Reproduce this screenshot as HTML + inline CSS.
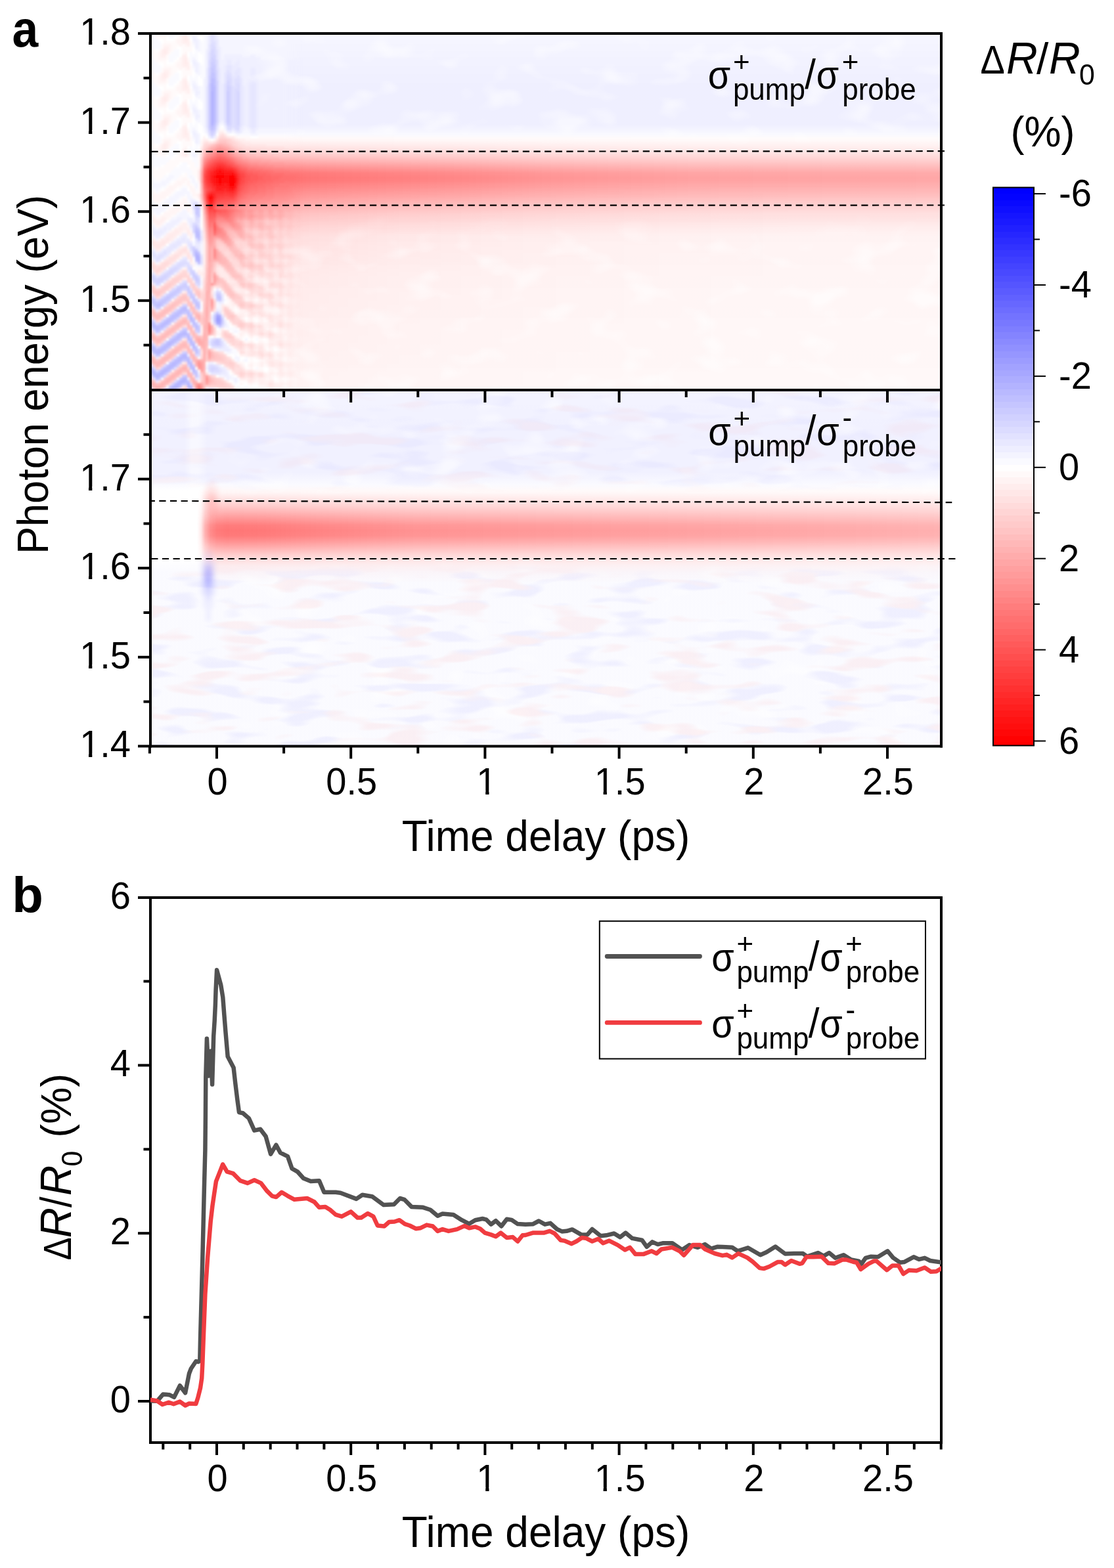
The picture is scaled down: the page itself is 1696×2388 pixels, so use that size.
<!DOCTYPE html>
<html><head><meta charset="utf-8"><title>Figure</title>
<style>html,body{margin:0;padding:0;background:#fff;overflow:hidden}svg{display:block}text{font-family:"Liberation Sans",Arial,sans-serif;fill:#000}</style></head><body>
<svg width="1696" height="2388" viewBox="0 0 1696 2388">
<defs><linearGradient id="cbg" gradientUnits="userSpaceOnUse" x1="0" y1="285.5" x2="0" y2="1135.5"><stop offset="0.00000" stop-color="#0000ff"/><stop offset="0.01129" stop-color="#0000ff"/><stop offset="0.01129" stop-color="#0303ff"/><stop offset="0.02259" stop-color="#0303ff"/><stop offset="0.02259" stop-color="#0909ff"/><stop offset="0.03388" stop-color="#0909ff"/><stop offset="0.03388" stop-color="#0f0fff"/><stop offset="0.04518" stop-color="#0f0fff"/><stop offset="0.04518" stop-color="#1515ff"/><stop offset="0.05647" stop-color="#1515ff"/><stop offset="0.05647" stop-color="#1a1aff"/><stop offset="0.06776" stop-color="#1a1aff"/><stop offset="0.06776" stop-color="#2020ff"/><stop offset="0.07906" stop-color="#2020ff"/><stop offset="0.07906" stop-color="#2626ff"/><stop offset="0.09035" stop-color="#2626ff"/><stop offset="0.09035" stop-color="#2c2cff"/><stop offset="0.10165" stop-color="#2c2cff"/><stop offset="0.10165" stop-color="#3232ff"/><stop offset="0.11294" stop-color="#3232ff"/><stop offset="0.11294" stop-color="#3838ff"/><stop offset="0.12424" stop-color="#3838ff"/><stop offset="0.12424" stop-color="#3e3eff"/><stop offset="0.13553" stop-color="#3e3eff"/><stop offset="0.13553" stop-color="#4444ff"/><stop offset="0.14682" stop-color="#4444ff"/><stop offset="0.14682" stop-color="#4949ff"/><stop offset="0.15812" stop-color="#4949ff"/><stop offset="0.15812" stop-color="#4f4fff"/><stop offset="0.16941" stop-color="#4f4fff"/><stop offset="0.16941" stop-color="#5555ff"/><stop offset="0.18071" stop-color="#5555ff"/><stop offset="0.18071" stop-color="#5b5bff"/><stop offset="0.19200" stop-color="#5b5bff"/><stop offset="0.19200" stop-color="#6161ff"/><stop offset="0.20329" stop-color="#6161ff"/><stop offset="0.20329" stop-color="#6767ff"/><stop offset="0.21459" stop-color="#6767ff"/><stop offset="0.21459" stop-color="#6d6dff"/><stop offset="0.22588" stop-color="#6d6dff"/><stop offset="0.22588" stop-color="#7373ff"/><stop offset="0.23718" stop-color="#7373ff"/><stop offset="0.23718" stop-color="#7878ff"/><stop offset="0.24847" stop-color="#7878ff"/><stop offset="0.24847" stop-color="#7e7eff"/><stop offset="0.25976" stop-color="#7e7eff"/><stop offset="0.25976" stop-color="#8484ff"/><stop offset="0.27106" stop-color="#8484ff"/><stop offset="0.27106" stop-color="#8a8aff"/><stop offset="0.28235" stop-color="#8a8aff"/><stop offset="0.28235" stop-color="#9090ff"/><stop offset="0.29365" stop-color="#9090ff"/><stop offset="0.29365" stop-color="#9696ff"/><stop offset="0.30494" stop-color="#9696ff"/><stop offset="0.30494" stop-color="#9c9cff"/><stop offset="0.31624" stop-color="#9c9cff"/><stop offset="0.31624" stop-color="#a2a2ff"/><stop offset="0.32753" stop-color="#a2a2ff"/><stop offset="0.32753" stop-color="#a7a7ff"/><stop offset="0.33882" stop-color="#a7a7ff"/><stop offset="0.33882" stop-color="#adadff"/><stop offset="0.35012" stop-color="#adadff"/><stop offset="0.35012" stop-color="#b3b3ff"/><stop offset="0.36141" stop-color="#b3b3ff"/><stop offset="0.36141" stop-color="#b9b9ff"/><stop offset="0.37271" stop-color="#b9b9ff"/><stop offset="0.37271" stop-color="#bfbfff"/><stop offset="0.38400" stop-color="#bfbfff"/><stop offset="0.38400" stop-color="#c5c5ff"/><stop offset="0.39529" stop-color="#c5c5ff"/><stop offset="0.39529" stop-color="#cbcbff"/><stop offset="0.40659" stop-color="#cbcbff"/><stop offset="0.40659" stop-color="#d1d1ff"/><stop offset="0.41788" stop-color="#d1d1ff"/><stop offset="0.41788" stop-color="#d6d6ff"/><stop offset="0.42918" stop-color="#d6d6ff"/><stop offset="0.42918" stop-color="#dcdcff"/><stop offset="0.44047" stop-color="#dcdcff"/><stop offset="0.44047" stop-color="#e2e2ff"/><stop offset="0.45176" stop-color="#e2e2ff"/><stop offset="0.45176" stop-color="#e8e8ff"/><stop offset="0.46306" stop-color="#e8e8ff"/><stop offset="0.46306" stop-color="#eeeeff"/><stop offset="0.47435" stop-color="#eeeeff"/><stop offset="0.47435" stop-color="#f4f4ff"/><stop offset="0.48565" stop-color="#f4f4ff"/><stop offset="0.48565" stop-color="#fafaff"/><stop offset="0.49694" stop-color="#fafaff"/><stop offset="0.49694" stop-color="#fffefe"/><stop offset="0.50824" stop-color="#fffefe"/><stop offset="0.50824" stop-color="#fff9f9"/><stop offset="0.51953" stop-color="#fff9f9"/><stop offset="0.51953" stop-color="#fff3f3"/><stop offset="0.53082" stop-color="#fff3f3"/><stop offset="0.53082" stop-color="#ffeded"/><stop offset="0.54212" stop-color="#ffeded"/><stop offset="0.54212" stop-color="#ffe7e7"/><stop offset="0.55341" stop-color="#ffe7e7"/><stop offset="0.55341" stop-color="#ffe1e1"/><stop offset="0.56471" stop-color="#ffe1e1"/><stop offset="0.56471" stop-color="#ffdbdb"/><stop offset="0.57600" stop-color="#ffdbdb"/><stop offset="0.57600" stop-color="#ffd5d5"/><stop offset="0.58729" stop-color="#ffd5d5"/><stop offset="0.58729" stop-color="#ffcfcf"/><stop offset="0.59859" stop-color="#ffcfcf"/><stop offset="0.59859" stop-color="#ffcaca"/><stop offset="0.60988" stop-color="#ffcaca"/><stop offset="0.60988" stop-color="#ffc4c4"/><stop offset="0.62118" stop-color="#ffc4c4"/><stop offset="0.62118" stop-color="#ffbebe"/><stop offset="0.63247" stop-color="#ffbebe"/><stop offset="0.63247" stop-color="#ffb8b8"/><stop offset="0.64376" stop-color="#ffb8b8"/><stop offset="0.64376" stop-color="#ffb2b2"/><stop offset="0.65506" stop-color="#ffb2b2"/><stop offset="0.65506" stop-color="#ffacac"/><stop offset="0.66635" stop-color="#ffacac"/><stop offset="0.66635" stop-color="#ffa6a6"/><stop offset="0.67765" stop-color="#ffa6a6"/><stop offset="0.67765" stop-color="#ffa0a0"/><stop offset="0.68894" stop-color="#ffa0a0"/><stop offset="0.68894" stop-color="#ff9b9b"/><stop offset="0.70024" stop-color="#ff9b9b"/><stop offset="0.70024" stop-color="#ff9595"/><stop offset="0.71153" stop-color="#ff9595"/><stop offset="0.71153" stop-color="#ff8f8f"/><stop offset="0.72282" stop-color="#ff8f8f"/><stop offset="0.72282" stop-color="#ff8989"/><stop offset="0.73412" stop-color="#ff8989"/><stop offset="0.73412" stop-color="#ff8383"/><stop offset="0.74541" stop-color="#ff8383"/><stop offset="0.74541" stop-color="#ff7d7d"/><stop offset="0.75671" stop-color="#ff7d7d"/><stop offset="0.75671" stop-color="#ff7777"/><stop offset="0.76800" stop-color="#ff7777"/><stop offset="0.76800" stop-color="#ff7171"/><stop offset="0.77929" stop-color="#ff7171"/><stop offset="0.77929" stop-color="#ff6c6c"/><stop offset="0.79059" stop-color="#ff6c6c"/><stop offset="0.79059" stop-color="#ff6666"/><stop offset="0.80188" stop-color="#ff6666"/><stop offset="0.80188" stop-color="#ff6060"/><stop offset="0.81318" stop-color="#ff6060"/><stop offset="0.81318" stop-color="#ff5a5a"/><stop offset="0.82447" stop-color="#ff5a5a"/><stop offset="0.82447" stop-color="#ff5454"/><stop offset="0.83576" stop-color="#ff5454"/><stop offset="0.83576" stop-color="#ff4e4e"/><stop offset="0.84706" stop-color="#ff4e4e"/><stop offset="0.84706" stop-color="#ff4848"/><stop offset="0.85835" stop-color="#ff4848"/><stop offset="0.85835" stop-color="#ff4242"/><stop offset="0.86965" stop-color="#ff4242"/><stop offset="0.86965" stop-color="#ff3d3d"/><stop offset="0.88094" stop-color="#ff3d3d"/><stop offset="0.88094" stop-color="#ff3737"/><stop offset="0.89224" stop-color="#ff3737"/><stop offset="0.89224" stop-color="#ff3131"/><stop offset="0.90353" stop-color="#ff3131"/><stop offset="0.90353" stop-color="#ff2b2b"/><stop offset="0.91482" stop-color="#ff2b2b"/><stop offset="0.91482" stop-color="#ff2525"/><stop offset="0.92612" stop-color="#ff2525"/><stop offset="0.92612" stop-color="#ff1f1f"/><stop offset="0.93741" stop-color="#ff1f1f"/><stop offset="0.93741" stop-color="#ff1919"/><stop offset="0.94871" stop-color="#ff1919"/><stop offset="0.94871" stop-color="#ff1313"/><stop offset="0.96000" stop-color="#ff1313"/><stop offset="0.96000" stop-color="#ff0e0e"/><stop offset="0.97129" stop-color="#ff0e0e"/><stop offset="0.97129" stop-color="#ff0808"/><stop offset="0.98259" stop-color="#ff0808"/><stop offset="0.98259" stop-color="#ff0202"/><stop offset="0.99388" stop-color="#ff0202"/><stop offset="0.99388" stop-color="#ff0000"/><stop offset="1.00000" stop-color="#ff0000"/></linearGradient><clipPath id="c1e3"><rect x="-300" y="-300" width="600" height="294.6"/><rect x="-64" y="-6.4" width="5.3" height="40"/><rect x="-47.8" y="-300" width="300" height="600"/></clipPath><clipPath id="c1m1"><rect x="-300" y="-300" width="600" height="294.6"/><rect x="-1.7" y="-6.4" width="5.3" height="40"/><rect x="14.5" y="-300" width="300" height="600"/></clipPath><clipPath id="c1m3"><rect x="-300" y="-300" width="600" height="294.6"/><rect x="-25" y="-6.4" width="5.3" height="40"/><rect x="-8.8" y="-300" width="300" height="600"/></clipPath><clipPath id="cpt"><rect x="229" y="51" width="1204" height="543"/></clipPath><clipPath id="cpbm"><rect x="229" y="594" width="1204" height="543"/></clipPath><filter id="blur3" x="0" y="0" width="1696" height="1200" filterUnits="userSpaceOnUse"><feGaussianBlur stdDeviation="3"/></filter><linearGradient id="tbgB" gradientUnits="userSpaceOnUse" x1="0" y1="51" x2="0" y2="215"><stop offset="0.0000" stop-color="#0000ff" stop-opacity="0.035"/><stop offset="0.2378" stop-color="#0000ff" stop-opacity="0.050"/><stop offset="0.4817" stop-color="#0000ff" stop-opacity="0.062"/><stop offset="0.8476" stop-color="#0000ff" stop-opacity="0.062"/><stop offset="0.9207" stop-color="#0000ff" stop-opacity="0.030"/><stop offset="0.9756" stop-color="#0000ff" stop-opacity="0.000"/></linearGradient><linearGradient id="tbgR" gradientUnits="userSpaceOnUse" x1="0" y1="280" x2="0" y2="594"><stop offset="0.0000" stop-color="#ff0000" stop-opacity="0.000"/><stop offset="0.0637" stop-color="#ff0000" stop-opacity="0.040"/><stop offset="0.1592" stop-color="#ff0000" stop-opacity="0.050"/><stop offset="0.2866" stop-color="#ff0000" stop-opacity="0.045"/><stop offset="0.4777" stop-color="#ff0000" stop-opacity="0.038"/><stop offset="0.7006" stop-color="#ff0000" stop-opacity="0.032"/><stop offset="1.0000" stop-color="#ff0000" stop-opacity="0.028"/></linearGradient><linearGradient id="tfadeG" gradientUnits="userSpaceOnUse" x1="229" y1="0" x2="1433" y2="0"><stop offset="0.0000" stop-color="#ffffff" stop-opacity="0.000"/><stop offset="0.0590" stop-color="#ffffff" stop-opacity="0.000"/><stop offset="0.0963" stop-color="#ffffff" stop-opacity="1.000"/><stop offset="1.0000" stop-color="#ffffff" stop-opacity="1.000"/></linearGradient><mask id="tfade" maskUnits="userSpaceOnUse" x="229" y="51" width="1204" height="543"><rect x="229" y="51" width="1204" height="543" fill="url(#tfadeG)"/></mask><linearGradient id="tpinkH" gradientUnits="userSpaceOnUse" x1="300" y1="0" x2="1433" y2="0"><stop offset="0.0000" stop-color="#ff0000" stop-opacity="0.000"/><stop offset="0.0265" stop-color="#ff0000" stop-opacity="0.000"/><stop offset="0.0530" stop-color="#ff0000" stop-opacity="0.100"/><stop offset="0.1324" stop-color="#ff0000" stop-opacity="0.090"/><stop offset="0.2648" stop-color="#ff0000" stop-opacity="0.050"/><stop offset="0.4413" stop-color="#ff0000" stop-opacity="0.025"/><stop offset="0.6178" stop-color="#ff0000" stop-opacity="0.010"/><stop offset="0.7944" stop-color="#ff0000" stop-opacity="0.000"/></linearGradient><linearGradient id="tpinkVg" gradientUnits="userSpaceOnUse" x1="0" y1="280" x2="0" y2="594"><stop offset="0.0000" stop-color="#ffffff" stop-opacity="0.000"/><stop offset="0.0955" stop-color="#ffffff" stop-opacity="1.000"/><stop offset="0.2229" stop-color="#ffffff" stop-opacity="1.000"/><stop offset="0.4459" stop-color="#ffffff" stop-opacity="0.500"/><stop offset="1.0000" stop-color="#ffffff" stop-opacity="0.200"/></linearGradient><mask id="tpinkM" maskUnits="userSpaceOnUse" x="229" y="280" width="1204" height="314"><rect x="229" y="280" width="1204" height="314" fill="url(#tpinkVg)"/></mask><linearGradient id="tbandH" gradientUnits="userSpaceOnUse" x1="300" y1="0" x2="1433" y2="0"><stop offset="0.0000" stop-color="#ff0000" stop-opacity="0.000"/><stop offset="0.0044" stop-color="#ff0000" stop-opacity="0.100"/><stop offset="0.0071" stop-color="#ff0000" stop-opacity="0.450"/><stop offset="0.0106" stop-color="#ff0000" stop-opacity="0.750"/><stop offset="0.0177" stop-color="#ff0000" stop-opacity="0.850"/><stop offset="0.0300" stop-color="#ff0000" stop-opacity="0.950"/><stop offset="0.0397" stop-color="#ff0000" stop-opacity="0.900"/><stop offset="0.0530" stop-color="#ff0000" stop-opacity="0.780"/><stop offset="0.0706" stop-color="#ff0000" stop-opacity="0.660"/><stop offset="0.1059" stop-color="#ff0000" stop-opacity="0.580"/><stop offset="0.1500" stop-color="#ff0000" stop-opacity="0.540"/><stop offset="0.2648" stop-color="#ff0000" stop-opacity="0.500"/><stop offset="0.3530" stop-color="#ff0000" stop-opacity="0.470"/><stop offset="0.4669" stop-color="#ff0000" stop-opacity="0.420"/><stop offset="0.6620" stop-color="#ff0000" stop-opacity="0.370"/><stop offset="0.8385" stop-color="#ff0000" stop-opacity="0.355"/><stop offset="1.0000" stop-color="#ff0000" stop-opacity="0.345"/></linearGradient><linearGradient id="tbandVg" gradientUnits="userSpaceOnUse" x1="0" y1="205" x2="0" y2="360"><stop offset="0.0000" stop-color="#ffffff" stop-opacity="0.000"/><stop offset="0.0645" stop-color="#ffffff" stop-opacity="0.080"/><stop offset="0.1613" stop-color="#ffffff" stop-opacity="0.250"/><stop offset="0.2323" stop-color="#ffffff" stop-opacity="0.470"/><stop offset="0.3161" stop-color="#ffffff" stop-opacity="0.760"/><stop offset="0.3742" stop-color="#ffffff" stop-opacity="0.950"/><stop offset="0.4194" stop-color="#ffffff" stop-opacity="1.000"/><stop offset="0.4581" stop-color="#ffffff" stop-opacity="0.980"/><stop offset="0.5161" stop-color="#ffffff" stop-opacity="0.860"/><stop offset="0.6000" stop-color="#ffffff" stop-opacity="0.640"/><stop offset="0.6968" stop-color="#ffffff" stop-opacity="0.380"/><stop offset="0.7935" stop-color="#ffffff" stop-opacity="0.200"/><stop offset="0.9032" stop-color="#ffffff" stop-opacity="0.080"/><stop offset="1.0000" stop-color="#ffffff" stop-opacity="0.000"/></linearGradient><mask id="tbandM" maskUnits="userSpaceOnUse" x="229" y="205" width="1204" height="155"><rect x="229" y="205" width="1204" height="155" fill="url(#tbandVg)"/></mask><radialGradient id="hot" gradientUnits="userSpaceOnUse" cx="334" cy="276" r="40" gradientTransform="translate(334 276) scale(0.55 1.1) translate(-334 -276)"><stop offset="0" stop-color="#ff0000" stop-opacity="0.85"/><stop offset="0.45" stop-color="#ff0000" stop-opacity="0.55"/><stop offset="1" stop-color="#ff0000" stop-opacity="0"/></radialGradient><radialGradient id="hot2" gradientUnits="userSpaceOnUse" cx="353" cy="280" r="30" gradientTransform="translate(353 280) scale(0.5 1.1) translate(-353 -280)"><stop offset="0" stop-color="#ff0000" stop-opacity="0.5"/><stop offset="1" stop-color="#ff0000" stop-opacity="0"/></radialGradient><linearGradient id="gfadeG" gradientUnits="userSpaceOnUse" x1="229" y1="0" x2="468" y2="0"><stop offset="0.0000" stop-color="#ffffff" stop-opacity="1.000"/><stop offset="0.8410" stop-color="#ffffff" stop-opacity="1.000"/><stop offset="0.9749" stop-color="#ffffff" stop-opacity="0.000"/><stop offset="1.0000" stop-color="#ffffff" stop-opacity="0.000"/></linearGradient><mask id="gfade" maskUnits="userSpaceOnUse" x="229" y="51" width="240" height="543"><rect x="229" y="51" width="240" height="543" fill="url(#gfadeG)"/></mask><filter id="blur1" x="0" y="0" width="1696" height="1200" filterUnits="userSpaceOnUse"><feGaussianBlur stdDeviation="1.6"/></filter><linearGradient id="bbgB" gradientUnits="userSpaceOnUse" x1="0" y1="594" x2="0" y2="750"><stop offset="0.0000" stop-color="#0000ff" stop-opacity="0.045"/><stop offset="0.3590" stop-color="#0000ff" stop-opacity="0.055"/><stop offset="0.8077" stop-color="#0000ff" stop-opacity="0.055"/><stop offset="0.9231" stop-color="#0000ff" stop-opacity="0.020"/><stop offset="0.9872" stop-color="#0000ff" stop-opacity="0.000"/></linearGradient><linearGradient id="bbgL" gradientUnits="userSpaceOnUse" x1="0" y1="850" x2="0" y2="1137"><stop offset="0.0000" stop-color="#0000ff" stop-opacity="0.000"/><stop offset="0.0697" stop-color="#0000ff" stop-opacity="0.018"/><stop offset="1.0000" stop-color="#0000ff" stop-opacity="0.018"/></linearGradient><linearGradient id="bbandH" gradientUnits="userSpaceOnUse" x1="300" y1="0" x2="1433" y2="0"><stop offset="0.0000" stop-color="#ff0000" stop-opacity="0.000"/><stop offset="0.0053" stop-color="#ff0000" stop-opacity="0.080"/><stop offset="0.0106" stop-color="#ff0000" stop-opacity="0.300"/><stop offset="0.0177" stop-color="#ff0000" stop-opacity="0.450"/><stop offset="0.0265" stop-color="#ff0000" stop-opacity="0.520"/><stop offset="0.0397" stop-color="#ff0000" stop-opacity="0.540"/><stop offset="0.0883" stop-color="#ff0000" stop-opacity="0.530"/><stop offset="0.1562" stop-color="#ff0000" stop-opacity="0.490"/><stop offset="0.2868" stop-color="#ff0000" stop-opacity="0.430"/><stop offset="0.4669" stop-color="#ff0000" stop-opacity="0.400"/><stop offset="0.6620" stop-color="#ff0000" stop-opacity="0.370"/><stop offset="0.8385" stop-color="#ff0000" stop-opacity="0.340"/><stop offset="1.0000" stop-color="#ff0000" stop-opacity="0.310"/></linearGradient><linearGradient id="bbandVg" gradientUnits="userSpaceOnUse" x1="0" y1="738" x2="0" y2="888"><stop offset="0.0000" stop-color="#ffffff" stop-opacity="0.000"/><stop offset="0.0800" stop-color="#ffffff" stop-opacity="0.070"/><stop offset="0.1667" stop-color="#ffffff" stop-opacity="0.250"/><stop offset="0.2267" stop-color="#ffffff" stop-opacity="0.400"/><stop offset="0.2933" stop-color="#ffffff" stop-opacity="0.600"/><stop offset="0.3600" stop-color="#ffffff" stop-opacity="0.800"/><stop offset="0.4133" stop-color="#ffffff" stop-opacity="0.950"/><stop offset="0.4667" stop-color="#ffffff" stop-opacity="1.000"/><stop offset="0.5200" stop-color="#ffffff" stop-opacity="0.970"/><stop offset="0.5733" stop-color="#ffffff" stop-opacity="0.820"/><stop offset="0.6400" stop-color="#ffffff" stop-opacity="0.600"/><stop offset="0.7067" stop-color="#ffffff" stop-opacity="0.380"/><stop offset="0.7600" stop-color="#ffffff" stop-opacity="0.240"/><stop offset="0.8267" stop-color="#ffffff" stop-opacity="0.120"/><stop offset="0.8933" stop-color="#ffffff" stop-opacity="0.050"/><stop offset="1.0000" stop-color="#ffffff" stop-opacity="0.000"/></linearGradient><mask id="bbandM" maskUnits="userSpaceOnUse" x="229" y="738" width="1204" height="150"><rect x="229" y="738" width="1204" height="150" fill="url(#bbandVg)"/></mask><linearGradient id="bwcol" gradientUnits="userSpaceOnUse" x1="280" y1="0" x2="316" y2="0"><stop offset="0.0000" stop-color="#ffffff" stop-opacity="0.000"/><stop offset="0.3333" stop-color="#ffffff" stop-opacity="0.500"/><stop offset="0.6111" stop-color="#ffffff" stop-opacity="0.500"/><stop offset="1.0000" stop-color="#ffffff" stop-opacity="0.000"/></linearGradient><filter id="mottle" x="229" y="51" width="1204" height="1086" filterUnits="userSpaceOnUse" color-interpolation-filters="sRGB"><feTurbulence type="fractalNoise" baseFrequency="0.018 0.03" numOctaves="2" seed="7" result="n"/><feColorMatrix in="n" type="matrix" values="0 0 0 0 1  0 0 0 0 1  0 0 0 0 1  4 0 0 0 -2.1"/></filter><linearGradient id="mottleVg" gradientUnits="userSpaceOnUse" x1="0" y1="51" x2="0" y2="1137"><stop offset="0.0000" stop-color="#ffffff" stop-opacity="1.000"/><stop offset="0.1372" stop-color="#ffffff" stop-opacity="1.000"/><stop offset="0.1556" stop-color="#ffffff" stop-opacity="0.150"/><stop offset="0.1694" stop-color="#ffffff" stop-opacity="0.000"/><stop offset="0.2477" stop-color="#ffffff" stop-opacity="0.000"/><stop offset="0.2707" stop-color="#ffffff" stop-opacity="0.300"/><stop offset="0.3029" stop-color="#ffffff" stop-opacity="1.000"/><stop offset="0.5000" stop-color="#ffffff" stop-opacity="1.000"/><stop offset="0.6298" stop-color="#ffffff" stop-opacity="1.000"/><stop offset="0.6483" stop-color="#ffffff" stop-opacity="0.150"/><stop offset="0.6621" stop-color="#ffffff" stop-opacity="0.000"/><stop offset="0.7311" stop-color="#ffffff" stop-opacity="0.000"/><stop offset="0.7449" stop-color="#ffffff" stop-opacity="0.300"/><stop offset="0.7634" stop-color="#ffffff" stop-opacity="1.000"/><stop offset="1.0000" stop-color="#ffffff" stop-opacity="1.000"/></linearGradient><linearGradient id="mottleHg" gradientUnits="userSpaceOnUse" x1="229" y1="0" x2="1433" y2="0"><stop offset="0.0000" stop-color="#ffffff" stop-opacity="0.000"/><stop offset="0.0839" stop-color="#ffffff" stop-opacity="0.000"/><stop offset="0.1254" stop-color="#ffffff" stop-opacity="1.000"/><stop offset="1.0000" stop-color="#ffffff" stop-opacity="1.000"/></linearGradient><mask id="mottleM" maskUnits="userSpaceOnUse" x="229" y="51" width="1204" height="1086"><rect x="229" y="51" width="1204" height="1086" fill="url(#mottleVg)"/></mask><mask id="mottleM2" maskUnits="userSpaceOnUse" x="229" y="51" width="1204" height="1086"><rect x="229" y="51" width="1204" height="1086" fill="url(#mottleHg)"/></mask><filter id="blotch" x="229" y="594" width="1204" height="543" filterUnits="userSpaceOnUse" color-interpolation-filters="sRGB"><feTurbulence type="fractalNoise" baseFrequency="0.012 0.05" numOctaves="2" seed="11" result="n"/><feColorMatrix in="n" type="matrix" values="0 0 0 0 0  0 0 0 0 0  0 0 0 0 1  6 0 0 0 -3.2" result="b"/><feColorMatrix in="n" type="matrix" values="0 0 0 0 1  0 0 0 0 0  0 0 0 0 0  0 -6 0 0 2.7" result="r"/><feMerge><feMergeNode in="b"/><feMergeNode in="r"/></feMerge></filter><linearGradient id="blotchVg" gradientUnits="userSpaceOnUse" x1="0" y1="594" x2="0" y2="1137"><stop offset="0.0000" stop-color="#ffffff" stop-opacity="0.600"/><stop offset="0.2597" stop-color="#ffffff" stop-opacity="0.600"/><stop offset="0.2873" stop-color="#ffffff" stop-opacity="0.000"/><stop offset="0.4899" stop-color="#ffffff" stop-opacity="0.000"/><stop offset="0.5359" stop-color="#ffffff" stop-opacity="1.000"/><stop offset="1.0000" stop-color="#ffffff" stop-opacity="1.000"/></linearGradient><mask id="blotchM" maskUnits="userSpaceOnUse" x="229" y="594" width="1204" height="543"><rect x="229" y="594" width="1204" height="543" fill="url(#blotchVg)"/></mask></defs>
<rect width="1696" height="2388" fill="#fff"/>
<g clip-path="url(#cpt)">
<g mask="url(#tfade)">
<rect x="229" y="51" width="1204" height="164" fill="url(#tbgB)"/>
<rect x="229" y="280" width="1204" height="314" fill="url(#tbgR)"/>
</g>
<rect x="300" y="280" width="1133" height="314" fill="url(#tpinkH)" mask="url(#tpinkM)"/>
<rect x="300" y="205" width="1133" height="155" fill="url(#tbandH)" mask="url(#tbandM)"/>
<g mask="url(#gfade)"><g filter="url(#blur1)"><path d="M329 483h4v4h-4zM329 487h4v4h-4z" fill="#9e9eff"/><path d="M333 483h4v4h-4zM333 487h4v4h-4z" fill="#a3a3ff"/><path d="M329 479h4v4h-4z" fill="#a8a8ff"/><path d="M333 479h4v4h-4zM329 491h8v4h-8z" fill="#adadff"/><path d="M321 139h4v4h-4zM321 143h4v4h-4zM321 147h4v4h-4zM321 151h4v4h-4zM321 155h4v4h-4zM321 159h4v4h-4zM321 163h4v4h-4zM321 167h4v4h-4zM321 171h4v4h-4zM321 175h4v4h-4zM321 179h4v4h-4zM321 183h4v4h-4zM321 187h4v4h-4zM297 387h4v4h-4zM297 391h8v4h-8zM301 395h4v4h-4zM229 563h4v4h-4zM249 563h4v4h-4zM233 567h4v4h-4zM245 567h4v4h-4zM237 571h4v4h-4zM273 579h8v4h-8zM269 583h4v4h-4zM285 583h4v4h-4zM265 587h4v4h-4zM257 591h8v4h-8zM289 591h4v4h-4z" fill="#b2b2ff"/><path d="M321 127h4v4h-4zM321 131h4v4h-4zM321 135h4v4h-4zM297 383h4v4h-4zM301 387h4v4h-4zM289 483h4v4h-4zM253 487h4v4h-4zM229 491h4v4h-4zM249 491h4v4h-4zM233 495h4v4h-4zM245 495h4v4h-4zM237 499h4v4h-4zM273 507h12v4h-12zM269 511h4v4h-4zM285 511h4v4h-4zM265 515h4v4h-4zM257 519h8v4h-8zM289 519h4v4h-4zM253 523h8v4h-8zM293 523h4v4h-4zM229 527h4v4h-4zM249 527h4v4h-4zM293 527h4v4h-4zM233 531h4v4h-4zM241 531h8v4h-8zM237 535h8v4h-8zM277 539h8v4h-8zM273 543h12v4h-12zM269 547h8v4h-8zM285 547h4v4h-4zM261 551h8v4h-8zM257 555h8v4h-8zM289 555h4v4h-4zM253 559h8v4h-8zM293 559h4v4h-4zM245 563h4v4h-4zM253 563h4v4h-4zM293 563h4v4h-4zM241 567h4v4h-4zM241 571h4v4h-4zM277 575h8v4h-8zM281 579h4v4h-4zM273 583h4v4h-4zM261 587h4v4h-4zM269 587h4v4h-4zM285 587h8v4h-8z" fill="#b8b8ff"/><path d="M321 119h4v4h-4zM321 123h4v4h-4zM325 131h4v4h-4zM325 135h4v4h-4zM325 139h4v4h-4zM325 143h4v4h-4zM325 147h4v4h-4zM325 151h4v4h-4zM325 155h4v4h-4zM325 159h4v4h-4zM325 163h4v4h-4zM325 167h4v4h-4zM325 171h4v4h-4zM325 175h4v4h-4zM325 179h4v4h-4zM325 183h4v4h-4zM321 191h4v4h-4zM297 351h4v4h-4zM297 355h8v4h-8zM301 359h4v4h-4zM297 395h4v4h-4zM237 463h8v4h-8zM277 467h8v4h-8zM273 471h12v4h-12zM269 475h8v4h-8zM285 475h4v4h-4zM261 479h12v4h-12zM257 483h8v4h-8zM257 487h4v4h-4zM293 487h4v4h-4zM245 491h4v4h-4zM253 491h4v4h-4zM293 491h4v4h-4zM237 495h8v4h-8zM297 495h4v4h-4zM241 499h4v4h-4zM277 503h8v4h-8zM273 511h4v4h-4zM261 515h4v4h-4zM269 515h4v4h-4zM285 515h8v4h-8zM233 527h4v4h-4zM245 527h4v4h-4zM253 527h4v4h-4zM229 531h4v4h-4zM237 531h4v4h-4zM249 531h4v4h-4zM297 531h4v4h-4zM233 535h4v4h-4zM265 547h4v4h-4zM269 551h4v4h-4zM285 551h8v4h-8zM265 555h4v4h-4zM229 559h4v4h-4zM249 559h4v4h-4zM233 563h4v4h-4zM229 567h4v4h-4zM237 567h4v4h-4zM249 567h4v4h-4zM233 571h4v4h-4zM237 575h4v4h-4zM265 583h4v4h-4zM265 591h4v4h-4z" fill="#bdbdff"/><path d="M321 111h4v4h-4zM321 115h4v4h-4zM325 119h4v4h-4zM325 123h4v4h-4zM325 127h4v4h-4zM325 187h4v4h-4zM321 195h4v4h-4zM297 347h4v4h-4zM301 351h4v4h-4zM297 359h4v4h-4zM301 399h4v4h-4zM253 451h4v4h-4zM333 451h4v4h-4zM229 455h4v4h-4zM249 455h4v4h-4zM293 455h4v4h-4zM233 459h4v4h-4zM241 459h8v4h-8zM297 459h4v4h-4zM297 463h8v4h-8zM265 475h4v4h-4zM285 479h8v4h-8zM265 483h4v4h-4zM229 487h4v4h-4zM249 487h4v4h-4zM289 487h4v4h-4zM233 491h4v4h-4zM229 495h4v4h-4zM249 495h4v4h-4zM233 499h4v4h-4zM297 499h4v4h-4zM237 503h4v4h-4zM269 507h4v4h-4zM285 507h4v4h-4zM265 511h4v4h-4zM253 519h4v4h-4zM265 519h4v4h-4zM229 523h4v4h-4zM249 523h4v4h-4zM289 523h4v4h-4zM245 535h4v4h-4zM297 535h4v4h-4zM237 539h4v4h-4zM269 543h4v4h-4zM285 543h4v4h-4zM253 555h4v4h-4zM261 559h4v4h-4zM289 559h4v4h-4zM297 567h4v4h-4zM245 571h4v4h-4zM269 579h4v4h-4zM285 579h4v4h-4zM277 583h4v4h-4zM253 591h4v4h-4z" fill="#c2c2ff"/><path d="M321 103h4v4h-4zM321 107h4v4h-4zM325 111h4v4h-4zM325 115h4v4h-4zM325 191h4v4h-4zM297 315h4v4h-4zM297 319h4v4h-4zM297 323h4v4h-4zM301 363h4v4h-4zM297 379h4v4h-4zM301 383h4v4h-4zM297 423h4v4h-4zM269 439h4v4h-4zM285 439h4v4h-4zM265 443h4v4h-4zM257 447h8v4h-8zM289 447h4v4h-4zM329 447h4v4h-4zM257 451h4v4h-4zM293 451h4v4h-4zM329 451h4v4h-4zM233 455h4v4h-4zM245 455h4v4h-4zM253 455h4v4h-4zM333 455h4v4h-4zM229 459h4v4h-4zM237 459h4v4h-4zM249 459h4v4h-4zM233 463h4v4h-4zM245 463h4v4h-4zM237 467h4v4h-4zM301 467h4v4h-4zM269 471h4v4h-4zM285 471h4v4h-4zM277 475h4v4h-4zM329 475h4v4h-4zM253 483h4v4h-4zM325 483h4v4h-4zM261 487h4v4h-4zM325 487h4v4h-4zM297 491h4v4h-4zM333 495h4v4h-4zM245 499h4v4h-4zM301 499h4v4h-4zM277 511h4v4h-4zM329 519h4v4h-4zM261 523h4v4h-4zM297 527h4v4h-4zM241 539h4v4h-4zM273 539h4v4h-4zM277 547h8v4h-8zM257 551h4v4h-4zM241 563h4v4h-4zM257 563h4v4h-4zM281 571h4v4h-4zM297 571h4v4h-4zM241 575h4v4h-4zM273 575h4v4h-4zM281 583h4v4h-4zM257 587h4v4h-4zM273 587h4v4h-4z" fill="#c7c7ff"/><path d="M321 95h4v4h-4zM321 99h8v4h-8zM325 103h4v4h-4zM325 107h4v4h-4zM317 127h4v4h-4zM317 131h4v4h-4zM317 135h4v4h-4zM317 139h4v4h-4zM345 139h4v4h-4zM317 143h4v4h-4zM345 143h4v4h-4zM317 147h4v4h-4zM345 147h4v4h-4zM317 151h4v4h-4zM345 151h4v4h-4zM317 155h4v4h-4zM345 155h4v4h-4zM317 159h4v4h-4zM345 159h4v4h-4zM317 163h4v4h-4zM345 163h4v4h-4zM317 167h4v4h-4zM345 167h4v4h-4zM317 171h4v4h-4zM345 171h4v4h-4zM317 175h4v4h-4zM345 175h4v4h-4zM317 179h4v4h-4zM345 179h4v4h-4zM317 183h4v4h-4zM345 183h4v4h-4zM317 187h4v4h-4zM317 191h4v4h-4zM325 195h4v4h-4zM321 199h4v4h-4zM297 311h4v4h-4zM301 315h4v4h-4zM301 319h4v4h-4zM301 323h4v4h-4zM301 327h4v4h-4zM297 343h4v4h-4zM301 347h4v4h-4zM293 379h4v4h-4zM293 383h4v4h-4zM293 415h4v4h-4zM293 419h8v4h-8zM281 431h4v4h-4zM273 435h12v4h-12zM273 439h4v4h-4zM261 443h4v4h-4zM269 443h4v4h-4zM285 443h8v4h-8zM265 447h4v4h-4zM333 447h4v4h-4zM229 451h4v4h-4zM249 451h4v4h-4zM289 451h4v4h-4zM297 455h4v4h-4zM301 459h4v4h-4zM241 467h4v4h-4zM273 467h4v4h-4zM281 475h4v4h-4zM257 479h4v4h-4zM325 479h4v4h-4zM293 483h4v4h-4zM337 487h4v4h-4zM241 491h4v4h-4zM257 491h4v4h-4zM293 495h4v4h-4zM301 495h4v4h-4zM281 499h4v4h-4zM241 503h4v4h-4zM273 503h4v4h-4zM301 503h4v4h-4zM281 511h4v4h-4zM257 515h4v4h-4zM273 515h4v4h-4zM329 515h4v4h-4zM293 519h4v4h-4zM325 519h4v4h-4zM329 523h4v4h-4zM241 527h4v4h-4zM257 527h4v4h-4zM293 531h4v4h-4zM281 535h4v4h-4zM273 551h4v4h-4zM293 555h4v4h-4zM297 563h4v4h-4zM293 567h4v4h-4zM277 571h4v4h-4zM293 591h4v4h-4z" fill="#ccccff"/><path d="M321 87h4v4h-4zM321 91h8v4h-8zM325 95h4v4h-4zM317 115h4v4h-4zM317 119h4v4h-4zM317 123h4v4h-4zM345 131h4v4h-4zM345 135h4v4h-4zM345 187h4v4h-4zM317 195h4v4h-4zM321 203h4v4h-4zM293 375h4v4h-4zM293 387h4v4h-4zM289 411h4v4h-4zM229 419h4v4h-4zM249 419h4v4h-4zM233 423h4v4h-4zM241 423h8v4h-8zM301 423h4v4h-4zM237 427h8v4h-8zM297 427h8v4h-8zM277 431h4v4h-4zM269 435h4v4h-4zM285 435h4v4h-4zM265 439h4v4h-4zM253 447h4v4h-4zM261 451h4v4h-4zM241 455h4v4h-4zM257 455h4v4h-4zM329 455h4v4h-4zM293 459h4v4h-4zM281 463h4v4h-4zM261 475h4v4h-4zM273 479h4v4h-4zM337 483h4v4h-4zM337 491h4v4h-4zM277 499h4v4h-4zM261 511h4v4h-4zM333 519h4v4h-4zM245 523h4v4h-4zM325 523h4v4h-4zM333 523h4v4h-4zM253 531h4v4h-4zM277 535h4v4h-4zM301 535h4v4h-4zM261 547h4v4h-4zM269 555h4v4h-4zM245 559h4v4h-4zM253 567h4v4h-4zM261 583h4v4h-4zM269 591h4v4h-4zM285 591h4v4h-4z" fill="#d1d1ff"/><path d="M321 75h4v4h-4zM321 79h4v4h-4zM321 83h8v4h-8zM325 87h4v4h-4zM317 103h4v4h-4zM317 107h4v4h-4zM317 111h4v4h-4zM329 123h4v4h-4zM345 123h4v4h-4zM329 127h4v4h-4zM345 127h4v4h-4zM329 131h4v4h-4zM349 131h4v4h-4zM329 135h4v4h-4zM349 135h4v4h-4zM329 139h4v4h-4zM349 139h4v4h-4zM361 139h4v4h-4zM329 143h4v4h-4zM349 143h4v4h-4zM361 143h4v4h-4zM329 147h4v4h-4zM349 147h4v4h-4zM361 147h4v4h-4zM329 151h4v4h-4zM349 151h4v4h-4zM361 151h4v4h-4zM329 155h4v4h-4zM349 155h4v4h-4zM361 155h4v4h-4zM329 159h4v4h-4zM349 159h4v4h-4zM361 159h4v4h-4zM329 163h4v4h-4zM349 163h4v4h-4zM361 163h4v4h-4zM329 167h4v4h-4zM349 167h4v4h-4zM361 167h4v4h-4zM329 171h4v4h-4zM349 171h4v4h-4zM361 171h4v4h-4zM329 175h4v4h-4zM349 175h4v4h-4zM361 175h4v4h-4zM329 179h4v4h-4zM349 179h4v4h-4zM361 179h4v4h-4zM329 183h4v4h-4zM349 183h4v4h-4zM361 183h4v4h-4zM349 187h4v4h-4zM361 187h4v4h-4zM325 199h4v4h-4zM297 327h4v4h-4zM293 343h4v4h-4zM293 347h4v4h-4zM293 351h4v4h-4zM265 407h4v4h-4zM289 407h4v4h-4zM257 411h8v4h-8zM293 411h4v4h-4zM253 415h8v4h-8zM289 415h4v4h-4zM233 419h4v4h-4zM245 419h4v4h-4zM253 419h4v4h-4zM229 423h4v4h-4zM237 423h4v4h-4zM249 423h4v4h-4zM233 427h4v4h-4zM245 427h4v4h-4zM237 431h4v4h-4zM301 431h4v4h-4zM277 439h8v4h-8zM257 443h4v4h-4zM273 443h4v4h-4zM329 443h4v4h-4zM293 447h4v4h-4zM253 459h4v4h-4zM277 463h4v4h-4zM297 467h4v4h-4zM289 475h4v4h-4zM269 483h4v4h-4zM285 483h4v4h-4zM245 487h4v4h-4zM253 495h4v4h-4zM297 503h4v4h-4zM289 511h4v4h-4zM325 515h4v4h-4zM333 515h4v4h-4zM269 519h4v4h-4zM285 519h4v4h-4zM321 519h4v4h-4zM321 523h4v4h-4zM237 527h4v4h-4zM301 531h4v4h-4zM289 547h4v4h-4zM285 555h4v4h-4zM321 559h8v4h-8zM237 563h4v4h-4zM321 563h4v4h-4zM289 583h4v4h-4z" fill="#d6d6ff"/><path d="M321 67h4v4h-4zM321 71h8v4h-8zM325 75h4v4h-4zM325 79h4v4h-4zM317 91h4v4h-4zM317 95h4v4h-4zM317 99h4v4h-4zM329 107h4v4h-4zM329 111h4v4h-4zM329 115h4v4h-4zM345 115h4v4h-4zM329 119h4v4h-4zM345 119h8v4h-8zM349 123h4v4h-4zM349 127h4v4h-4zM361 127h4v4h-4zM361 131h4v4h-4zM357 135h8v4h-8zM357 139h4v4h-4zM357 143h4v4h-4zM357 147h4v4h-4zM357 151h4v4h-4zM357 155h4v4h-4zM357 159h4v4h-4zM357 163h4v4h-4zM357 167h4v4h-4zM357 171h4v4h-4zM357 175h4v4h-4zM357 179h4v4h-4zM357 183h4v4h-4zM329 187h4v4h-4zM357 187h4v4h-4zM345 191h8v4h-8zM357 191h8v4h-8zM361 195h4v4h-4zM317 199h4v4h-4zM301 311h4v4h-4zM297 331h4v4h-4zM293 339h8v4h-8zM289 375h4v4h-4zM273 399h12v4h-12zM269 403h8v4h-8zM285 403h4v4h-4zM261 407h4v4h-4zM269 407h4v4h-4zM285 407h4v4h-4zM265 411h4v4h-4zM229 415h4v4h-4zM249 415h4v4h-4zM261 415h4v4h-4zM293 423h4v4h-4zM281 427h4v4h-4zM241 431h4v4h-4zM273 431h4v4h-4zM261 439h4v4h-4zM333 443h4v4h-4zM269 447h4v4h-4zM285 447h4v4h-4zM245 451h4v4h-4zM237 455h4v4h-4zM265 471h4v4h-4zM233 487h4v4h-4zM237 491h4v4h-4zM325 491h4v4h-4zM229 499h4v4h-4zM265 507h4v4h-4zM233 523h4v4h-4zM229 535h4v4h-4zM249 535h4v4h-4zM297 539h8v4h-8zM265 543h4v4h-4zM249 555h4v4h-4zM321 555h4v4h-4zM233 559h4v4h-4zM317 559h4v4h-4zM329 559h4v4h-4zM325 563h8v4h-8zM229 571h4v4h-4zM249 571h4v4h-4zM265 579h4v4h-4zM249 591h4v4h-4z" fill="#dbdbff"/><path d="M321 51h4v4h-4zM321 55h4v4h-4zM321 59h4v4h-4zM321 63h8v4h-8zM325 67h4v4h-4zM317 79h4v4h-4zM317 83h4v4h-4zM317 87h4v4h-4zM329 91h4v4h-4zM329 95h4v4h-4zM329 99h4v4h-4zM329 103h4v4h-4zM345 107h4v4h-4zM345 111h8v4h-8zM349 115h4v4h-4zM361 115h4v4h-4zM357 119h8v4h-8zM357 123h8v4h-8zM341 127h4v4h-4zM357 127h4v4h-4zM341 131h4v4h-4zM353 131h8v4h-8zM341 135h4v4h-4zM353 135h4v4h-4zM341 139h4v4h-4zM353 139h4v4h-4zM341 143h4v4h-4zM353 143h4v4h-4zM341 147h4v4h-4zM353 147h4v4h-4zM341 151h4v4h-4zM353 151h4v4h-4zM341 155h4v4h-4zM353 155h4v4h-4zM341 159h4v4h-4zM353 159h4v4h-4zM341 163h4v4h-4zM353 163h4v4h-4zM341 167h4v4h-4zM353 167h4v4h-4zM341 171h4v4h-4zM353 171h4v4h-4zM341 175h4v4h-4zM353 175h4v4h-4zM341 179h4v4h-4zM353 179h4v4h-4zM341 183h4v4h-4zM353 183h4v4h-4zM353 187h4v4h-4zM353 191h4v4h-4zM345 195h8v4h-8zM357 195h4v4h-4zM317 203h4v4h-4zM325 203h4v4h-4zM321 207h4v4h-4zM297 307h4v4h-4zM293 311h4v4h-4zM293 315h4v4h-4zM301 331h4v4h-4zM297 335h8v4h-8zM301 343h4v4h-4zM297 363h4v4h-4zM301 367h4v4h-4zM289 371h4v4h-4zM289 379h4v4h-4zM229 383h4v4h-4zM249 383h4v4h-4zM233 387h4v4h-4zM241 387h8v4h-8zM237 391h8v4h-8zM305 391h4v4h-4zM237 395h4v4h-4zM277 395h8v4h-8zM305 395h4v4h-4zM269 399h4v4h-4zM285 399h4v4h-4zM305 399h4v4h-4zM265 403h4v4h-4zM277 403h4v4h-4zM257 407h4v4h-4zM253 411h4v4h-4zM297 415h4v4h-4zM241 419h4v4h-4zM257 419h4v4h-4zM301 419h4v4h-4zM253 423h4v4h-4zM277 427h4v4h-4zM297 431h4v4h-4zM289 439h4v4h-4zM233 451h4v4h-4zM229 463h4v4h-4zM249 463h4v4h-4zM233 467h4v4h-4zM325 475h4v4h-4zM333 475h4v4h-4zM229 483h4v4h-4zM249 483h4v4h-4zM265 487h4v4h-4zM337 495h4v4h-4zM249 499h4v4h-4zM233 503h4v4h-4zM321 515h4v4h-4zM229 519h4v4h-4zM249 519h4v4h-4zM337 519h4v4h-4zM265 523h4v4h-4zM337 523h4v4h-4zM325 527h12v4h-12zM233 539h4v4h-4zM229 555h4v4h-4zM317 555h4v4h-4zM325 555h4v4h-4zM265 559h4v4h-4zM317 563h4v4h-4zM333 563h4v4h-4zM301 571h4v4h-4zM233 575h4v4h-4zM229 591h4v4h-4z" fill="#e0e0ff"/><path d="M325 51h4v4h-4zM325 55h4v4h-4zM325 59h4v4h-4zM317 67h4v4h-4zM317 71h4v4h-4zM317 75h4v4h-4zM329 75h4v4h-4zM329 79h4v4h-4zM329 83h4v4h-4zM329 87h4v4h-4zM345 99h8v4h-8zM345 103h8v4h-8zM361 103h4v4h-4zM349 107h4v4h-4zM357 107h8v4h-8zM341 111h4v4h-4zM357 111h8v4h-8zM341 115h4v4h-4zM353 115h8v4h-8zM341 119h4v4h-4zM353 119h4v4h-4zM365 119h4v4h-4zM341 123h4v4h-4zM353 123h4v4h-4zM365 123h4v4h-4zM381 123h8v4h-8zM353 127h4v4h-4zM365 127h4v4h-4zM381 127h8v4h-8zM313 131h4v4h-4zM365 131h4v4h-4zM381 131h8v4h-8zM313 135h4v4h-4zM365 135h4v4h-4zM381 135h8v4h-8zM313 139h4v4h-4zM365 139h4v4h-4zM381 139h8v4h-8zM313 143h4v4h-4zM365 143h4v4h-4zM381 143h8v4h-8zM313 147h4v4h-4zM365 147h4v4h-4zM381 147h8v4h-8zM313 151h4v4h-4zM365 151h4v4h-4zM381 151h8v4h-8zM313 155h4v4h-4zM365 155h4v4h-4zM381 155h8v4h-8zM313 159h4v4h-4zM365 159h4v4h-4zM381 159h8v4h-8zM313 163h4v4h-4zM365 163h4v4h-4zM381 163h8v4h-8zM313 167h4v4h-4zM365 167h4v4h-4zM381 167h8v4h-8zM313 171h4v4h-4zM365 171h4v4h-4zM381 171h8v4h-8zM313 175h4v4h-4zM365 175h4v4h-4zM381 175h8v4h-8zM313 179h4v4h-4zM365 179h4v4h-4zM381 179h8v4h-8zM313 183h4v4h-4zM365 183h4v4h-4zM381 183h8v4h-8zM313 187h4v4h-4zM341 187h4v4h-4zM365 187h4v4h-4zM381 187h8v4h-8zM313 191h4v4h-4zM329 191h4v4h-4zM365 191h4v4h-4zM381 191h8v4h-8zM361 199h4v4h-4zM293 307h4v4h-4zM301 339h4v4h-4zM305 359h4v4h-4zM277 363h4v4h-4zM305 363h4v4h-4zM269 367h8v4h-8zM285 367h4v4h-4zM297 367h4v4h-4zM261 371h12v4h-12zM285 371h4v4h-4zM257 375h12v4h-12zM297 375h4v4h-4zM229 379h4v4h-4zM249 379h12v4h-12zM301 379h4v4h-4zM233 383h4v4h-4zM245 383h4v4h-4zM253 383h4v4h-4zM229 387h4v4h-4zM237 387h4v4h-4zM249 387h4v4h-4zM305 387h4v4h-4zM233 391h4v4h-4zM245 391h4v4h-4zM281 391h4v4h-4zM241 395h4v4h-4zM273 395h4v4h-4zM261 403h4v4h-4zM281 403h4v4h-4zM289 403h4v4h-4zM273 407h4v4h-4zM269 411h4v4h-4zM285 411h4v4h-4zM245 415h4v4h-4zM237 419h4v4h-4zM229 427h4v4h-4zM265 435h4v4h-4zM301 435h4v4h-4zM229 447h4v4h-4zM249 447h4v4h-4zM265 451h4v4h-4zM337 451h4v4h-4zM337 455h4v4h-4zM301 471h4v4h-4zM337 479h4v4h-4zM329 495h4v4h-4zM237 507h4v4h-4zM317 519h4v4h-4zM321 527h4v4h-4zM337 527h4v4h-4zM237 543h4v4h-4zM329 555h4v4h-4zM333 559h4v4h-4zM337 563h4v4h-4zM321 567h16v4h-16zM297 575h4v4h-4zM237 579h4v4h-4zM317 591h4v4h-4z" fill="#e6e6ff"/><path d="M317 51h4v4h-4zM317 55h4v4h-4zM317 59h4v4h-4zM329 59h4v4h-4zM317 63h4v4h-4zM329 63h4v4h-4zM329 67h4v4h-4zM329 71h4v4h-4zM345 91h8v4h-8zM361 91h4v4h-4zM345 95h8v4h-8zM357 95h8v4h-8zM341 99h4v4h-4zM353 99h12v4h-12zM313 103h4v4h-4zM333 103h4v4h-4zM341 103h4v4h-4zM353 103h8v4h-8zM365 103h4v4h-4zM381 103h8v4h-8zM313 107h4v4h-4zM333 107h4v4h-4zM341 107h4v4h-4zM353 107h4v4h-4zM365 107h4v4h-4zM381 107h8v4h-8zM313 111h4v4h-4zM333 111h4v4h-4zM353 111h4v4h-4zM365 111h4v4h-4zM381 111h8v4h-8zM313 115h4v4h-4zM333 115h4v4h-4zM365 115h4v4h-4zM381 115h8v4h-8zM313 119h4v4h-4zM333 119h4v4h-4zM377 119h16v4h-16zM313 123h4v4h-4zM333 123h4v4h-4zM377 123h4v4h-4zM389 123h4v4h-4zM313 127h4v4h-4zM333 127h8v4h-8zM377 127h4v4h-4zM389 127h4v4h-4zM333 131h8v4h-8zM369 131h4v4h-4zM377 131h4v4h-4zM389 131h4v4h-4zM333 135h8v4h-8zM369 135h4v4h-4zM377 135h4v4h-4zM389 135h4v4h-4zM333 139h8v4h-8zM369 139h4v4h-4zM377 139h4v4h-4zM389 139h4v4h-4zM333 143h8v4h-8zM369 143h4v4h-4zM377 143h4v4h-4zM389 143h4v4h-4zM333 147h8v4h-8zM369 147h4v4h-4zM377 147h4v4h-4zM389 147h4v4h-4zM333 151h8v4h-8zM369 151h4v4h-4zM377 151h4v4h-4zM389 151h4v4h-4zM333 155h8v4h-8zM369 155h4v4h-4zM377 155h4v4h-4zM389 155h4v4h-4zM333 159h8v4h-8zM369 159h4v4h-4zM377 159h4v4h-4zM389 159h4v4h-4zM333 163h8v4h-8zM369 163h4v4h-4zM377 163h4v4h-4zM389 163h4v4h-4zM333 167h8v4h-8zM369 167h4v4h-4zM377 167h4v4h-4zM389 167h4v4h-4zM333 171h8v4h-8zM369 171h4v4h-4zM377 171h4v4h-4zM389 171h4v4h-4zM333 175h8v4h-8zM369 175h4v4h-4zM377 175h4v4h-4zM389 175h4v4h-4zM333 179h8v4h-8zM369 179h4v4h-4zM377 179h4v4h-4zM389 179h4v4h-4zM333 183h4v4h-4zM369 183h4v4h-4zM377 183h4v4h-4zM389 183h4v4h-4zM369 187h4v4h-4zM377 187h4v4h-4zM389 187h4v4h-4zM377 191h4v4h-4zM389 191h4v4h-4zM313 195h4v4h-4zM329 195h4v4h-4zM353 195h4v4h-4zM365 195h4v4h-4zM381 195h8v4h-8zM349 199h4v4h-4zM357 199h4v4h-4zM365 199h4v4h-4zM381 199h8v4h-8zM293 319h4v4h-4zM289 335h4v4h-4zM289 339h4v4h-4zM289 343h4v4h-4zM229 347h4v4h-4zM249 347h4v4h-4zM233 351h16v4h-16zM305 351h4v4h-4zM233 355h12v4h-12zM305 355h4v4h-4zM237 359h4v4h-4zM277 359h8v4h-8zM269 363h8v4h-8zM281 363h8v4h-8zM265 367h4v4h-4zM277 367h8v4h-8zM289 367h4v4h-4zM257 371h4v4h-4zM273 371h4v4h-4zM297 371h8v4h-8zM253 375h4v4h-4zM301 375h4v4h-4zM261 379h4v4h-4zM241 383h4v4h-4zM257 383h4v4h-4zM253 387h4v4h-4zM277 391h4v4h-4zM297 399h4v4h-4zM249 411h4v4h-4zM233 415h4v4h-4zM249 427h4v4h-4zM233 431h4v4h-4zM329 439h4v4h-4zM325 447h4v4h-4zM337 447h4v4h-4zM289 455h4v4h-4zM301 455h4v4h-4zM333 459h4v4h-4zM237 471h4v4h-4zM329 471h4v4h-4zM321 483h4v4h-4zM289 491h4v4h-4zM301 491h4v4h-4zM341 491h4v4h-4zM301 507h4v4h-4zM317 523h4v4h-4zM341 523h4v4h-4zM289 527h4v4h-4zM341 527h4v4h-4zM341 531h8v4h-8zM285 539h4v4h-4zM337 559h4v4h-4zM289 563h4v4h-4zM341 563h4v4h-4zM301 567h4v4h-4zM337 567h8v4h-8zM285 575h4v4h-4zM301 575h4v4h-4zM321 591h4v4h-4z" fill="#ebebff"/><path d="M329 51h4v4h-4zM293 55h4v4h-4zM329 55h4v4h-4zM293 59h8v4h-8zM297 63h4v4h-4zM297 67h4v4h-4zM297 71h4v4h-4zM333 71h4v4h-4zM313 75h4v4h-4zM333 75h4v4h-4zM313 79h4v4h-4zM333 79h4v4h-4zM313 83h4v4h-4zM333 83h4v4h-4zM341 83h28v4h-28zM381 83h8v4h-8zM313 87h4v4h-4zM333 87h4v4h-4zM341 87h56v4h-56zM293 91h4v4h-4zM313 91h4v4h-4zM333 91h12v4h-12zM353 91h8v4h-8zM365 91h104v4h-104zM293 95h8v4h-8zM313 95h4v4h-4zM333 95h12v4h-12zM353 95h4v4h-4zM365 95h104v4h-104zM297 99h4v4h-4zM313 99h4v4h-4zM333 99h8v4h-8zM365 99h104v4h-104zM297 103h4v4h-4zM337 103h4v4h-4zM369 103h12v4h-12zM389 103h80v4h-80zM297 107h4v4h-4zM337 107h4v4h-4zM369 107h12v4h-12zM389 107h80v4h-80zM337 111h4v4h-4zM369 111h12v4h-12zM389 111h80v4h-80zM337 115h4v4h-4zM369 115h12v4h-12zM389 115h80v4h-80zM337 119h4v4h-4zM369 119h8v4h-8zM393 119h76v4h-76zM337 123h4v4h-4zM369 123h8v4h-8zM393 123h76v4h-76zM293 127h4v4h-4zM369 127h8v4h-8zM393 127h76v4h-76zM293 131h8v4h-8zM373 131h4v4h-4zM393 131h76v4h-76zM297 135h4v4h-4zM373 135h4v4h-4zM393 135h76v4h-76zM297 139h8v4h-8zM373 139h4v4h-4zM393 139h76v4h-76zM297 143h4v4h-4zM373 143h4v4h-4zM393 143h76v4h-76zM373 147h4v4h-4zM393 147h76v4h-76zM373 151h4v4h-4zM393 151h76v4h-76zM373 155h4v4h-4zM393 155h76v4h-76zM373 159h4v4h-4zM393 159h76v4h-76zM293 163h4v4h-4zM373 163h4v4h-4zM393 163h76v4h-76zM293 167h8v4h-8zM373 167h4v4h-4zM393 167h76v4h-76zM297 171h4v4h-4zM373 171h4v4h-4zM393 171h76v4h-76zM297 175h8v4h-8zM373 175h4v4h-4zM393 175h76v4h-76zM297 179h4v4h-4zM373 179h4v4h-4zM393 179h76v4h-76zM337 183h4v4h-4zM373 183h4v4h-4zM393 183h76v4h-76zM373 187h4v4h-4zM393 187h76v4h-76zM341 191h4v4h-4zM369 191h8v4h-8zM393 191h76v4h-76zM369 195h4v4h-4zM377 195h4v4h-4zM389 195h4v4h-4zM293 199h4v4h-4zM313 199h4v4h-4zM345 199h4v4h-4zM293 203h8v4h-8zM297 207h4v4h-4zM317 207h4v4h-4zM325 207h4v4h-4zM297 211h4v4h-4zM297 215h4v4h-4zM293 235h4v4h-4zM289 303h8v4h-8zM289 307h4v4h-4zM293 323h4v4h-4zM269 331h8v4h-8zM285 331h8v4h-8zM261 335h12v4h-12zM285 335h4v4h-4zM293 335h4v4h-4zM253 339h16v4h-16zM229 343h4v4h-4zM249 343h16v4h-16zM233 347h4v4h-4zM241 347h8v4h-8zM253 347h8v4h-8zM229 351h4v4h-4zM249 351h4v4h-4zM245 355h4v4h-4zM277 355h8v4h-8zM293 355h4v4h-4zM241 359h4v4h-4zM273 359h4v4h-4zM261 367h4v4h-4zM305 367h4v4h-4zM269 375h4v4h-4zM285 375h4v4h-4zM233 379h4v4h-4zM245 379h4v4h-4zM237 383h4v4h-4zM289 383h4v4h-4zM229 391h4v4h-4zM249 391h4v4h-4zM233 395h4v4h-4zM265 399h4v4h-4zM229 411h4v4h-4zM265 415h4v4h-4zM289 419h4v4h-4zM237 435h4v4h-4zM325 443h4v4h-4zM297 451h4v4h-4zM325 451h4v4h-4zM337 459h4v4h-4zM269 467h4v4h-4zM285 467h4v4h-4zM333 471h4v4h-4zM321 479h4v4h-4zM297 487h4v4h-4zM341 487h4v4h-4zM341 495h4v4h-4zM269 503h4v4h-4zM285 503h4v4h-4zM317 515h4v4h-4zM337 515h4v4h-4zM297 523h4v4h-4zM345 527h4v4h-4zM333 531h8v4h-8zM349 531h4v4h-4zM269 539h4v4h-4zM317 551h8v4h-8zM333 555h4v4h-4zM313 559h4v4h-4zM341 559h4v4h-4zM345 567h4v4h-4zM341 571h8v4h-8zM269 575h4v4h-4zM345 575h4v4h-4zM357 575h4v4h-4zM357 579h4v4h-4zM313 591h4v4h-4z" fill="#f0f0ff"/><path d="M293 51h4v4h-4zM313 51h4v4h-4zM333 51h136v4h-136zM297 55h4v4h-4zM313 55h4v4h-4zM333 55h136v4h-136zM301 59h4v4h-4zM313 59h4v4h-4zM333 59h136v4h-136zM293 63h4v4h-4zM301 63h4v4h-4zM313 63h4v4h-4zM333 63h136v4h-136zM301 67h4v4h-4zM313 67h4v4h-4zM333 67h136v4h-136zM301 71h4v4h-4zM313 71h4v4h-4zM337 71h132v4h-132zM301 75h4v4h-4zM337 75h132v4h-132zM337 79h132v4h-132zM337 83h4v4h-4zM369 83h12v4h-12zM389 83h80v4h-80zM293 87h4v4h-4zM337 87h4v4h-4zM397 87h72v4h-72zM297 91h4v4h-4zM301 95h4v4h-4zM293 99h4v4h-4zM301 99h4v4h-4zM301 103h4v4h-4zM301 107h4v4h-4zM301 111h4v4h-4zM309 119h4v4h-4zM293 123h4v4h-4zM309 123h4v4h-4zM297 127h4v4h-4zM309 127h4v4h-4zM301 131h4v4h-4zM309 131h4v4h-4zM293 135h4v4h-4zM301 135h4v4h-4zM309 135h4v4h-4zM309 139h4v4h-4zM301 143h4v4h-4zM309 143h4v4h-4zM301 147h4v4h-4zM309 147h4v4h-4zM309 151h4v4h-4zM309 155h4v4h-4zM293 159h4v4h-4zM309 159h4v4h-4zM297 163h4v4h-4zM309 163h4v4h-4zM301 167h4v4h-4zM309 167h4v4h-4zM293 171h4v4h-4zM301 171h4v4h-4zM309 171h4v4h-4zM309 175h4v4h-4zM301 179h4v4h-4zM309 179h4v4h-4zM301 183h4v4h-4zM309 183h4v4h-4zM309 187h4v4h-4zM333 187h8v4h-8zM309 191h4v4h-4zM293 195h4v4h-4zM341 195h4v4h-4zM373 195h4v4h-4zM393 195h76v4h-76zM297 199h4v4h-4zM329 199h4v4h-4zM353 199h4v4h-4zM369 199h12v4h-12zM389 199h80v4h-80zM301 203h4v4h-4zM361 203h4v4h-4zM381 203h12v4h-12zM293 207h4v4h-4zM301 207h4v4h-4zM301 211h4v4h-4zM301 215h4v4h-4zM293 231h4v4h-4zM297 235h4v4h-4zM257 267h8v4h-8zM289 267h4v4h-4zM253 271h8v4h-8zM293 271h4v4h-4zM229 275h4v4h-4zM245 275h12v4h-12zM293 275h4v4h-4zM229 279h24v4h-24zM297 279h4v4h-4zM233 283h12v4h-12zM297 283h4v4h-4zM237 287h4v4h-4zM277 287h8v4h-8zM269 291h20v4h-20zM265 295h16v4h-16zM285 295h4v4h-4zM257 299h16v4h-16zM285 299h8v4h-8zM253 303h16v4h-16zM229 307h4v4h-4zM249 307h16v4h-16zM301 307h4v4h-4zM229 311h8v4h-8zM241 311h20v4h-20zM289 311h4v4h-4zM229 315h24v4h-24zM233 319h16v4h-16zM277 319h8v4h-8zM237 323h8v4h-8zM273 323h12v4h-12zM269 327h20v4h-20zM293 327h4v4h-4zM261 331h8v4h-8zM277 331h8v4h-8zM293 331h4v4h-4zM257 335h4v4h-4zM273 335h4v4h-4zM269 339h4v4h-4zM285 339h4v4h-4zM233 343h4v4h-4zM245 343h4v4h-4zM237 347h4v4h-4zM289 347h4v4h-4zM253 351h4v4h-4zM229 355h4v4h-4zM249 355h4v4h-4zM233 359h4v4h-4zM237 363h4v4h-4zM265 363h4v4h-4zM293 371h4v4h-4zM305 371h4v4h-4zM229 375h4v4h-4zM249 375h4v4h-4zM305 375h4v4h-4zM265 379h4v4h-4zM305 379h4v4h-4zM305 383h4v4h-4zM293 391h4v4h-4zM285 395h4v4h-4zM237 399h4v4h-4zM301 403h8v4h-8zM305 427h4v4h-4zM269 431h4v4h-4zM285 431h4v4h-4zM305 431h4v4h-4zM329 459h4v4h-4zM333 463h4v4h-4zM245 467h4v4h-4zM329 467h8v4h-8zM321 487h4v4h-4zM345 495h4v4h-4zM333 499h4v4h-4zM245 503h4v4h-4zM357 503h4v4h-4zM373 515h4v4h-4zM341 519h4v4h-4zM329 531h4v4h-4zM345 535h8v4h-8zM245 539h4v4h-4zM357 543h8v4h-8zM361 547h4v4h-4zM373 547h4v4h-4zM313 555h4v4h-4zM345 563h4v4h-4zM317 567h4v4h-4zM333 571h8v4h-8zM349 571h4v4h-4zM245 575h4v4h-4zM349 575h8v4h-8zM325 591h4v4h-4zM373 591h4v4h-4z" fill="#f5f5ff"/><path d="M229 51h4v4h-4zM257 51h12v4h-12zM289 51h4v4h-4zM297 51h4v4h-4zM309 51h4v4h-4zM229 55h8v4h-8zM257 55h8v4h-8zM289 55h4v4h-4zM309 55h4v4h-4zM229 59h12v4h-12zM309 59h4v4h-4zM229 63h16v4h-16zM305 63h8v4h-8zM229 67h16v4h-16zM293 67h4v4h-4zM305 67h8v4h-8zM233 71h12v4h-12zM305 71h8v4h-8zM265 75h8v4h-8zM297 75h4v4h-4zM305 75h8v4h-8zM261 79h12v4h-12zM289 79h4v4h-4zM297 79h4v4h-4zM305 79h8v4h-8zM257 83h16v4h-16zM289 83h12v4h-12zM309 83h4v4h-4zM229 87h4v4h-4zM257 87h12v4h-12zM289 87h4v4h-4zM297 87h4v4h-4zM309 87h4v4h-4zM229 91h8v4h-8zM257 91h8v4h-8zM289 91h4v4h-4zM309 91h4v4h-4zM229 95h12v4h-12zM309 95h4v4h-4zM229 99h16v4h-16zM305 99h8v4h-8zM229 103h16v4h-16zM293 103h4v4h-4zM305 103h8v4h-8zM233 107h12v4h-12zM305 107h8v4h-8zM265 111h8v4h-8zM297 111h4v4h-4zM305 111h8v4h-8zM261 115h12v4h-12zM289 115h4v4h-4zM297 115h4v4h-4zM305 115h8v4h-8zM257 119h16v4h-16zM289 119h12v4h-12zM229 123h4v4h-4zM257 123h12v4h-12zM289 123h4v4h-4zM297 123h4v4h-4zM229 127h8v4h-8zM257 127h8v4h-8zM289 127h4v4h-4zM229 131h12v4h-12zM305 131h4v4h-4zM229 135h16v4h-16zM305 135h4v4h-4zM229 139h16v4h-16zM293 139h4v4h-4zM305 139h4v4h-4zM233 143h12v4h-12zM305 143h4v4h-4zM265 147h8v4h-8zM297 147h4v4h-4zM305 147h4v4h-4zM261 151h12v4h-12zM289 151h4v4h-4zM297 151h4v4h-4zM305 151h4v4h-4zM257 155h16v4h-16zM289 155h12v4h-12zM229 159h4v4h-4zM257 159h12v4h-12zM289 159h4v4h-4zM297 159h4v4h-4zM229 163h8v4h-8zM257 163h8v4h-8zM289 163h4v4h-4zM229 167h12v4h-12zM305 167h4v4h-4zM229 171h16v4h-16zM305 171h4v4h-4zM229 175h16v4h-16zM293 175h4v4h-4zM305 175h4v4h-4zM233 179h12v4h-12zM305 179h4v4h-4zM265 183h8v4h-8zM297 183h4v4h-4zM305 183h4v4h-4zM261 187h12v4h-12zM289 187h4v4h-4zM297 187h4v4h-4zM305 187h4v4h-4zM257 191h16v4h-16zM289 191h12v4h-12zM333 191h4v4h-4zM229 195h4v4h-4zM257 195h12v4h-12zM289 195h4v4h-4zM297 195h4v4h-4zM309 195h4v4h-4zM229 199h8v4h-8zM257 199h8v4h-8zM289 199h4v4h-4zM309 199h4v4h-4zM229 203h12v4h-12zM313 203h4v4h-4zM357 203h4v4h-4zM365 203h16v4h-16zM393 203h76v4h-76zM229 207h16v4h-16zM229 211h16v4h-16zM293 211h4v4h-4zM233 215h12v4h-12zM265 219h8v4h-8zM297 219h8v4h-8zM261 223h12v4h-12zM289 223h4v4h-4zM297 223h4v4h-4zM257 227h16v4h-16zM289 227h12v4h-12zM229 231h4v4h-4zM257 231h12v4h-12zM289 231h4v4h-4zM297 231h4v4h-4zM229 235h8v4h-8zM257 235h8v4h-8zM289 235h4v4h-4zM229 239h32v4h-32zM293 239h8v4h-8zM229 243h28v4h-28zM293 243h8v4h-8zM229 247h24v4h-24zM277 247h8v4h-8zM297 247h4v4h-4zM233 251h12v4h-12zM273 251h12v4h-12zM297 251h4v4h-4zM265 255h24v4h-24zM261 259h32v4h-32zM257 263h20v4h-20zM285 263h8v4h-8zM229 267h4v4h-4zM249 267h8v4h-8zM265 267h8v4h-8zM285 267h4v4h-4zM293 267h4v4h-4zM229 271h8v4h-8zM245 271h8v4h-8zM261 271h8v4h-8zM289 271h4v4h-4zM233 275h12v4h-12zM257 275h4v4h-4zM289 275h4v4h-4zM297 275h4v4h-4zM253 279h4v4h-4zM293 279h4v4h-4zM229 283h4v4h-4zM245 283h8v4h-8zM277 283h8v4h-8zM233 287h4v4h-4zM241 287h4v4h-4zM273 287h4v4h-4zM297 287h4v4h-4zM237 291h4v4h-4zM265 291h4v4h-4zM261 295h4v4h-4zM281 295h4v4h-4zM289 295h4v4h-4zM273 299h4v4h-4zM229 303h4v4h-4zM249 303h4v4h-4zM269 303h4v4h-4zM285 303h4v4h-4zM297 303h4v4h-4zM233 307h4v4h-4zM245 307h4v4h-4zM265 307h4v4h-4zM237 311h4v4h-4zM253 315h4v4h-4zM229 319h4v4h-4zM249 319h4v4h-4zM233 323h4v4h-4zM269 323h4v4h-4zM285 323h4v4h-4zM237 327h4v4h-4zM265 327h4v4h-4zM229 339h4v4h-4zM249 339h4v4h-4zM265 343h4v4h-4zM305 347h4v4h-4zM245 359h4v4h-4zM269 359h4v4h-4zM285 359h4v4h-4zM293 359h4v4h-4zM293 367h4v4h-4zM245 395h4v4h-4zM269 395h4v4h-4zM297 403h4v4h-4zM253 407h4v4h-4zM305 423h4v4h-4zM245 431h4v4h-4zM305 435h4v4h-4zM333 439h4v4h-4zM253 443h4v4h-4zM337 443h4v4h-4zM341 455h4v4h-4zM305 463h4v4h-4zM329 463h4v4h-4zM305 467h4v4h-4zM253 479h4v4h-4zM341 483h4v4h-4zM345 491h4v4h-4zM345 499h16v4h-16zM353 503h4v4h-4zM361 503h4v4h-4zM253 515h4v4h-4zM389 515h4v4h-4zM345 523h4v4h-4zM301 527h4v4h-4zM349 527h4v4h-4zM353 531h8v4h-8zM341 535h4v4h-4zM353 535h8v4h-8zM357 539h4v4h-4zM301 543h4v4h-4zM373 543h4v4h-4zM357 547h4v4h-4zM369 547h4v4h-4zM253 551h4v4h-4zM325 551h4v4h-4zM337 555h4v4h-4zM297 559h4v4h-4zM389 559h4v4h-4zM313 563h4v4h-4zM353 571h4v4h-4zM341 575h4v4h-4zM361 575h4v4h-4zM353 579h4v4h-4zM361 579h4v4h-4zM357 583h4v4h-4zM253 587h4v4h-4zM361 587h4v4h-4zM373 587h4v4h-4zM369 591h4v4h-4zM377 591h4v4h-4zM385 591h8v4h-8z" fill="#fafaff"/><path d="M269 51h4v4h-4zM301 51h8v4h-8zM253 55h4v4h-4zM265 55h4v4h-4zM301 55h8v4h-8zM241 59h8v4h-8zM253 59h12v4h-12zM289 59h4v4h-4zM305 59h4v4h-4zM245 63h4v4h-4zM269 71h8v4h-8zM293 71h4v4h-4zM237 75h4v4h-4zM273 75h4v4h-4zM293 75h4v4h-4zM273 79h4v4h-4zM285 79h4v4h-4zM293 79h4v4h-4zM301 79h4v4h-4zM273 83h4v4h-4zM285 83h4v4h-4zM301 83h8v4h-8zM269 87h4v4h-4zM301 87h8v4h-8zM253 91h4v4h-4zM265 91h4v4h-4zM301 91h8v4h-8zM241 95h8v4h-8zM253 95h12v4h-12zM289 95h4v4h-4zM305 95h4v4h-4zM245 99h4v4h-4zM269 107h8v4h-8zM293 107h4v4h-4zM237 111h4v4h-4zM273 111h4v4h-4zM293 111h4v4h-4zM273 115h4v4h-4zM285 115h4v4h-4zM293 115h4v4h-4zM301 115h4v4h-4zM273 119h4v4h-4zM285 119h4v4h-4zM301 119h8v4h-8zM269 123h4v4h-4zM301 123h8v4h-8zM253 127h4v4h-4zM265 127h4v4h-4zM301 127h8v4h-8zM241 131h8v4h-8zM253 131h12v4h-12zM289 131h4v4h-4zM245 135h4v4h-4zM269 143h8v4h-8zM293 143h4v4h-4zM237 147h4v4h-4zM273 147h4v4h-4zM293 147h4v4h-4zM273 151h4v4h-4zM285 151h4v4h-4zM293 151h4v4h-4zM301 151h4v4h-4zM273 155h4v4h-4zM285 155h4v4h-4zM301 155h8v4h-8zM269 159h4v4h-4zM301 159h8v4h-8zM253 163h4v4h-4zM265 163h4v4h-4zM301 163h8v4h-8zM241 167h8v4h-8zM253 167h12v4h-12zM289 167h4v4h-4zM245 171h4v4h-4zM269 179h8v4h-8zM293 179h4v4h-4zM237 183h4v4h-4zM273 183h4v4h-4zM293 183h4v4h-4zM273 187h4v4h-4zM285 187h4v4h-4zM293 187h4v4h-4zM301 187h4v4h-4zM273 191h4v4h-4zM285 191h4v4h-4zM301 191h8v4h-8zM337 191h4v4h-4zM269 195h4v4h-4zM301 195h8v4h-8zM253 199h4v4h-4zM265 199h4v4h-4zM301 199h8v4h-8zM241 203h8v4h-8zM253 203h12v4h-12zM289 203h4v4h-4zM305 203h8v4h-8zM329 203h4v4h-4zM349 203h8v4h-8zM245 207h4v4h-4zM305 207h4v4h-4zM313 207h4v4h-4zM381 207h12v4h-12zM321 211h4v4h-4zM269 215h8v4h-8zM293 215h4v4h-4zM237 219h4v4h-4zM273 219h4v4h-4zM293 219h4v4h-4zM273 223h4v4h-4zM285 223h4v4h-4zM293 223h4v4h-4zM301 223h4v4h-4zM273 227h4v4h-4zM285 227h4v4h-4zM269 231h4v4h-4zM253 235h4v4h-4zM265 235h4v4h-4zM261 239h4v4h-4zM289 239h4v4h-4zM273 247h4v4h-4zM245 251h4v4h-4zM269 251h4v4h-4zM285 251h4v4h-4zM237 255h4v4h-4zM253 263h4v4h-4zM277 263h4v4h-4zM297 271h4v4h-4zM261 275h4v4h-4zM245 287h4v4h-4zM269 287h4v4h-4zM285 287h4v4h-4zM253 299h4v4h-4zM261 311h4v4h-4zM245 323h4v4h-4zM305 323h4v4h-4zM289 327h4v4h-4zM305 327h4v4h-4zM305 331h4v4h-4zM253 335h4v4h-4zM305 335h4v4h-4zM305 339h4v4h-4zM305 343h4v4h-4zM293 363h4v4h-4zM253 371h4v4h-4zM293 407h4v4h-4zM325 439h4v4h-4zM341 451h4v4h-4zM341 459h4v4h-4zM357 471h4v4h-4zM321 475h4v4h-4zM373 483h4v4h-4zM345 487h4v4h-4zM389 487h4v4h-4zM349 495h4v4h-4zM329 499h4v4h-4zM349 503h4v4h-4zM357 507h4v4h-4zM321 511h4v4h-4zM329 511h4v4h-4zM373 511h4v4h-4zM369 515h4v4h-4zM377 515h4v4h-4zM385 515h4v4h-4zM401 515h4v4h-4zM389 519h4v4h-4zM317 527h4v4h-4zM417 531h4v4h-4zM349 539h8v4h-8zM361 539h4v4h-4zM353 543h4v4h-4zM365 543h8v4h-8zM365 547h4v4h-4zM377 547h4v4h-4zM385 547h8v4h-8zM373 551h4v4h-4zM373 555h4v4h-4zM385 559h4v4h-4zM401 559h8v4h-8zM401 563h8v4h-8zM349 567h4v4h-4zM329 571h4v4h-4zM357 571h4v4h-4zM417 575h4v4h-4zM349 579h4v4h-4zM361 583h4v4h-4zM373 583h4v4h-4zM357 587h4v4h-4zM365 587h8v4h-8zM377 587h4v4h-4zM385 587h8v4h-8zM329 591h4v4h-4zM361 591h8v4h-8zM381 591h4v4h-4zM393 591h4v4h-4zM401 591h4v4h-4z" fill="#ffffff"/><path d="M233 51h8v4h-8zM253 51h4v4h-4zM285 51h4v4h-4zM237 55h16v4h-16zM269 55h4v4h-4zM249 59h4v4h-4zM265 59h4v4h-4zM249 63h20v4h-20zM289 63h4v4h-4zM245 67h4v4h-4zM261 67h12v4h-12zM277 67h4v4h-4zM289 67h4v4h-4zM229 71h4v4h-4zM245 71h4v4h-4zM261 71h8v4h-8zM277 71h16v4h-16zM229 75h8v4h-8zM241 75h4v4h-4zM261 75h4v4h-4zM277 75h16v4h-16zM229 79h12v4h-12zM257 79h4v4h-4zM277 79h4v4h-4zM229 83h12v4h-12zM253 83h4v4h-4zM233 87h8v4h-8zM253 87h4v4h-4zM285 87h4v4h-4zM237 91h16v4h-16zM269 91h4v4h-4zM249 95h4v4h-4zM265 95h4v4h-4zM249 99h20v4h-20zM289 99h4v4h-4zM245 103h4v4h-4zM261 103h12v4h-12zM277 103h4v4h-4zM289 103h4v4h-4zM229 107h4v4h-4zM245 107h4v4h-4zM261 107h8v4h-8zM277 107h16v4h-16zM229 111h8v4h-8zM241 111h4v4h-4zM261 111h4v4h-4zM277 111h16v4h-16zM229 115h12v4h-12zM257 115h4v4h-4zM277 115h4v4h-4zM229 119h12v4h-12zM253 119h4v4h-4zM233 123h8v4h-8zM253 123h4v4h-4zM285 123h4v4h-4zM237 127h16v4h-16zM269 127h4v4h-4zM249 131h4v4h-4zM265 131h4v4h-4zM249 135h20v4h-20zM289 135h4v4h-4zM245 139h4v4h-4zM261 139h12v4h-12zM277 139h4v4h-4zM289 139h4v4h-4zM229 143h4v4h-4zM245 143h4v4h-4zM261 143h8v4h-8zM277 143h16v4h-16zM229 147h8v4h-8zM241 147h4v4h-4zM261 147h4v4h-4zM277 147h16v4h-16zM229 151h12v4h-12zM257 151h4v4h-4zM277 151h4v4h-4zM229 155h12v4h-12zM253 155h4v4h-4zM233 159h8v4h-8zM253 159h4v4h-4zM285 159h4v4h-4zM237 163h16v4h-16zM269 163h4v4h-4zM249 167h4v4h-4zM265 167h4v4h-4zM249 171h20v4h-20zM289 171h4v4h-4zM245 175h4v4h-4zM261 175h12v4h-12zM277 175h4v4h-4zM289 175h4v4h-4zM229 179h4v4h-4zM245 179h4v4h-4zM261 179h8v4h-8zM277 179h16v4h-16zM229 183h8v4h-8zM241 183h4v4h-4zM261 183h4v4h-4zM277 183h16v4h-16zM229 187h12v4h-12zM257 187h4v4h-4zM277 187h4v4h-4zM229 191h12v4h-12zM253 191h4v4h-4zM233 195h8v4h-8zM253 195h4v4h-4zM285 195h4v4h-4zM333 195h8v4h-8zM237 199h16v4h-16zM269 199h4v4h-4zM341 199h4v4h-4zM249 203h4v4h-4zM265 203h4v4h-4zM345 203h4v4h-4zM249 207h20v4h-20zM289 207h4v4h-4zM361 207h20v4h-20zM393 207h76v4h-76zM245 211h4v4h-4zM261 211h12v4h-12zM277 211h4v4h-4zM289 211h4v4h-4zM305 211h4v4h-4zM317 211h4v4h-4zM229 215h4v4h-4zM245 215h4v4h-4zM261 215h8v4h-8zM277 215h16v4h-16zM229 219h8v4h-8zM241 219h4v4h-4zM261 219h4v4h-4zM277 219h16v4h-16zM229 223h12v4h-12zM257 223h4v4h-4zM277 223h4v4h-4zM229 227h12v4h-12zM253 227h4v4h-4zM301 227h4v4h-4zM233 231h8v4h-8zM253 231h4v4h-4zM285 231h4v4h-4zM301 231h4v4h-4zM237 235h16v4h-16zM269 235h4v4h-4zM301 235h4v4h-4zM265 239h24v4h-24zM301 239h4v4h-4zM257 243h36v4h-36zM301 243h4v4h-4zM253 247h20v4h-20zM285 247h12v4h-12zM301 247h4v4h-4zM229 251h4v4h-4zM249 251h20v4h-20zM289 251h8v4h-8zM301 251h4v4h-4zM229 255h8v4h-8zM241 255h24v4h-24zM289 255h12v4h-12zM229 259h32v4h-32zM293 259h8v4h-8zM229 263h24v4h-24zM281 263h4v4h-4zM293 263h8v4h-8zM233 267h16v4h-16zM273 267h12v4h-12zM297 267h4v4h-4zM237 271h8v4h-8zM269 271h8v4h-8zM285 271h4v4h-4zM265 275h4v4h-4zM281 275h4v4h-4zM257 279h8v4h-8zM277 279h8v4h-8zM289 279h4v4h-4zM301 279h4v4h-4zM253 283h4v4h-4zM269 283h8v4h-8zM285 283h4v4h-4zM293 283h4v4h-4zM301 283h4v4h-4zM229 287h4v4h-4zM249 287h4v4h-4zM265 287h4v4h-4zM301 287h4v4h-4zM233 291h4v4h-4zM241 291h4v4h-4zM261 291h4v4h-4zM289 291h4v4h-4zM297 291h8v4h-8zM257 295h4v4h-4zM277 299h8v4h-8zM293 299h8v4h-8zM245 303h4v4h-4zM273 303h4v4h-4zM301 303h4v4h-4zM237 307h8v4h-8zM269 307h4v4h-4zM285 307h4v4h-4zM257 315h4v4h-4zM277 315h8v4h-8zM289 315h4v4h-4zM253 319h4v4h-4zM273 319h4v4h-4zM289 319h4v4h-4zM305 319h4v4h-4zM289 323h4v4h-4zM241 327h4v4h-4zM261 327h4v4h-4zM257 331h4v4h-4zM277 335h8v4h-8zM261 347h4v4h-4zM277 371h4v4h-4zM261 383h4v4h-4zM293 395h4v4h-4zM297 407h12v4h-12zM297 411h4v4h-4zM345 455h4v4h-4zM389 455h4v4h-4zM305 459h4v4h-4zM345 459h4v4h-4zM357 467h4v4h-4zM305 471h4v4h-4zM361 471h4v4h-4zM385 483h8v4h-8zM373 487h4v4h-4zM385 487h4v4h-4zM401 487h4v4h-4zM349 491h4v4h-4zM353 495h4v4h-4zM341 499h4v4h-4zM361 499h4v4h-4zM417 499h4v4h-4zM333 503h4v4h-4zM417 503h4v4h-4zM361 507h4v4h-4zM373 507h4v4h-4zM333 511h4v4h-4zM361 511h4v4h-4zM369 511h4v4h-4zM377 511h4v4h-4zM385 511h8v4h-8zM381 515h4v4h-4zM393 515h8v4h-8zM405 515h4v4h-4zM373 519h4v4h-4zM385 519h4v4h-4zM401 519h8v4h-8zM405 527h4v4h-4zM417 527h4v4h-4zM405 531h4v4h-4zM421 531h4v4h-4zM361 535h4v4h-4zM345 539h4v4h-4zM377 543h4v4h-4zM385 543h4v4h-4zM433 543h4v4h-4zM449 543h4v4h-4zM381 547h4v4h-4zM393 547h4v4h-4zM433 547h4v4h-4zM449 547h4v4h-4zM313 551h4v4h-4zM369 551h4v4h-4zM377 551h4v4h-4zM385 551h8v4h-8zM385 555h8v4h-8zM401 555h4v4h-4zM373 559h8v4h-8zM393 559h8v4h-8zM349 563h4v4h-4zM417 563h4v4h-4zM417 571h4v4h-4zM421 575h4v4h-4zM429 575h12v4h-12zM445 575h8v4h-8zM365 579h12v4h-12zM417 579h8v4h-8zM433 579h4v4h-4zM449 579h4v4h-4zM353 583h4v4h-4zM369 583h4v4h-4zM381 587h4v4h-4zM433 587h4v4h-4zM449 587h4v4h-4zM397 591h4v4h-4zM405 591h4v4h-4zM433 591h4v4h-4zM445 591h8v4h-8zM461 591h8v4h-8z" fill="#fffafa"/><path d="M241 51h12v4h-12zM273 51h4v4h-4zM273 55h4v4h-4zM285 55h4v4h-4zM269 59h8v4h-8zM269 63h8v4h-8zM249 67h12v4h-12zM273 67h4v4h-4zM281 67h4v4h-4zM257 71h4v4h-4zM257 75h4v4h-4zM241 79h4v4h-4zM281 79h4v4h-4zM241 83h4v4h-4zM241 87h12v4h-12zM273 87h4v4h-4zM273 91h4v4h-4zM285 91h4v4h-4zM269 95h8v4h-8zM269 99h8v4h-8zM249 103h12v4h-12zM273 103h4v4h-4zM281 103h4v4h-4zM257 107h4v4h-4zM257 111h4v4h-4zM241 115h4v4h-4zM281 115h4v4h-4zM241 119h4v4h-4zM241 123h12v4h-12zM273 123h4v4h-4zM273 127h4v4h-4zM285 127h4v4h-4zM269 131h8v4h-8zM269 135h8v4h-8zM249 139h12v4h-12zM273 139h4v4h-4zM281 139h4v4h-4zM257 143h4v4h-4zM257 147h4v4h-4zM241 151h4v4h-4zM281 151h4v4h-4zM241 155h4v4h-4zM241 159h12v4h-12zM273 159h4v4h-4zM273 163h4v4h-4zM285 163h4v4h-4zM269 167h8v4h-8zM269 171h8v4h-8zM249 175h12v4h-12zM273 175h4v4h-4zM281 175h4v4h-4zM257 179h4v4h-4zM257 183h4v4h-4zM241 187h4v4h-4zM281 187h4v4h-4zM241 191h4v4h-4zM241 195h12v4h-12zM273 195h4v4h-4zM273 199h4v4h-4zM285 199h4v4h-4zM269 203h8v4h-8zM269 207h8v4h-8zM309 207h4v4h-4zM357 207h4v4h-4zM249 211h12v4h-12zM273 211h4v4h-4zM281 211h4v4h-4zM325 211h4v4h-4zM373 211h96v4h-96zM257 215h4v4h-4zM305 215h4v4h-4zM257 219h4v4h-4zM305 219h4v4h-4zM241 223h4v4h-4zM281 223h4v4h-4zM241 227h4v4h-4zM241 231h12v4h-12zM273 231h4v4h-4zM273 235h4v4h-4zM285 235h4v4h-4zM301 255h4v4h-4zM277 271h8v4h-8zM269 275h12v4h-12zM285 275h4v4h-4zM301 275h4v4h-4zM265 279h12v4h-12zM285 279h4v4h-4zM257 283h12v4h-12zM289 283h4v4h-4zM253 287h12v4h-12zM289 287h8v4h-8zM229 291h4v4h-4zM245 291h16v4h-16zM293 291h4v4h-4zM229 295h28v4h-28zM293 295h8v4h-8zM229 299h24v4h-24zM233 303h12v4h-12zM277 303h8v4h-8zM273 307h12v4h-12zM265 311h24v4h-24zM261 315h16v4h-16zM285 315h4v4h-4zM305 315h4v4h-4zM257 319h16v4h-16zM285 319h4v4h-4zM229 323h4v4h-4zM249 323h20v4h-20zM229 327h8v4h-8zM245 327h16v4h-16zM237 331h8v4h-8zM253 331h4v4h-4zM229 335h4v4h-4zM249 335h4v4h-4zM233 339h4v4h-4zM245 339h4v4h-4zM273 339h4v4h-4zM237 343h8v4h-8zM269 343h4v4h-4zM285 343h4v4h-4zM257 351h4v4h-4zM277 351h8v4h-8zM289 351h4v4h-4zM273 355h4v4h-4zM241 363h4v4h-4zM289 363h4v4h-4zM257 367h4v4h-4zM281 371h4v4h-4zM273 391h4v4h-4zM293 399h4v4h-4zM293 403h4v4h-4zM277 407h4v4h-4zM305 411h4v4h-4zM261 419h4v4h-4zM305 419h4v4h-4zM373 443h4v4h-4zM341 447h4v4h-4zM261 455h4v4h-4zM373 455h4v4h-4zM385 455h4v4h-4zM401 455h4v4h-4zM433 455h4v4h-4zM349 459h4v4h-4zM345 463h8v4h-8zM349 467h8v4h-8zM353 471h4v4h-4zM417 471h8v4h-8zM357 475h8v4h-8zM373 475h4v4h-4zM373 479h4v4h-4zM369 483h4v4h-4zM377 483h4v4h-4zM401 483h4v4h-4zM433 483h4v4h-4zM449 483h4v4h-4zM377 487h4v4h-4zM393 487h4v4h-4zM405 487h4v4h-4zM433 487h4v4h-4zM445 487h8v4h-8zM461 487h8v4h-8zM261 491h4v4h-4zM405 499h4v4h-4zM413 499h4v4h-4zM421 499h4v4h-4zM329 503h4v4h-4zM365 503h4v4h-4zM421 503h4v4h-4zM429 503h8v4h-8zM329 507h8v4h-8zM353 507h4v4h-4zM369 507h4v4h-4zM317 511h4v4h-4zM365 511h4v4h-4zM433 511h4v4h-4zM449 511h4v4h-4zM365 515h4v4h-4zM433 515h4v4h-4zM445 515h12v4h-12zM461 515h8v4h-8zM377 519h4v4h-4zM393 519h8v4h-8zM461 519h8v4h-8zM401 523h8v4h-8zM353 527h4v4h-4zM401 527h4v4h-4zM413 527h4v4h-4zM421 527h4v4h-4zM409 531h8v4h-8zM425 531h12v4h-12zM449 531h4v4h-4zM461 531h8v4h-8zM417 535h8v4h-8zM433 535h4v4h-4zM417 539h4v4h-4zM433 539h4v4h-4zM381 543h4v4h-4zM389 543h4v4h-4zM417 543h8v4h-8zM429 543h4v4h-4zM437 543h4v4h-4zM445 543h4v4h-4zM453 543h4v4h-4zM461 543h8v4h-8zM397 547h8v4h-8zM429 547h4v4h-4zM437 547h12v4h-12zM453 547h16v4h-16zM361 551h8v4h-8zM381 551h4v4h-4zM393 551h4v4h-4zM401 551h4v4h-4zM449 551h4v4h-4zM461 551h8v4h-8zM369 555h4v4h-4zM377 555h4v4h-4zM393 555h4v4h-4zM405 555h4v4h-4zM461 555h8v4h-8zM381 559h4v4h-4zM409 559h12v4h-12zM433 559h4v4h-4zM445 559h8v4h-8zM461 559h8v4h-8zM301 563h4v4h-4zM389 563h12v4h-12zM409 563h8v4h-8zM421 563h4v4h-4zM433 563h4v4h-4zM449 563h4v4h-4zM461 563h8v4h-8zM353 567h4v4h-4zM405 567h4v4h-4zM417 567h4v4h-4zM413 571h4v4h-4zM421 571h4v4h-4zM433 571h4v4h-4zM405 575h4v4h-4zM413 575h4v4h-4zM425 575h4v4h-4zM441 575h4v4h-4zM453 575h4v4h-4zM461 575h8v4h-8zM425 579h8v4h-8zM437 579h4v4h-4zM445 579h4v4h-4zM453 579h4v4h-4zM461 579h8v4h-8zM365 583h4v4h-4zM377 583h4v4h-4zM385 583h8v4h-8zM433 583h4v4h-4zM445 583h8v4h-8zM461 583h8v4h-8zM393 587h12v4h-12zM429 587h4v4h-4zM437 587h4v4h-4zM445 587h4v4h-4zM453 587h16v4h-16zM417 591h8v4h-8zM429 591h4v4h-4zM437 591h8v4h-8zM453 591h8v4h-8z" fill="#fff5f5"/><path d="M277 51h4v4h-4zM277 55h4v4h-4zM277 59h4v4h-4zM285 59h4v4h-4zM277 63h12v4h-12zM285 67h4v4h-4zM249 71h8v4h-8zM245 75h4v4h-4zM253 75h4v4h-4zM245 79h4v4h-4zM253 79h4v4h-4zM245 83h8v4h-8zM277 83h8v4h-8zM277 87h4v4h-4zM277 91h4v4h-4zM277 95h4v4h-4zM285 95h4v4h-4zM277 99h12v4h-12zM285 103h4v4h-4zM249 107h8v4h-8zM245 111h4v4h-4zM253 111h4v4h-4zM245 115h4v4h-4zM253 115h4v4h-4zM245 119h8v4h-8zM277 119h8v4h-8zM277 123h4v4h-4zM277 127h4v4h-4zM277 131h4v4h-4zM285 131h4v4h-4zM277 135h12v4h-12zM285 139h4v4h-4zM249 143h8v4h-8zM245 147h4v4h-4zM253 147h4v4h-4zM245 151h4v4h-4zM253 151h4v4h-4zM245 155h8v4h-8zM277 155h8v4h-8zM277 159h4v4h-4zM277 163h4v4h-4zM277 167h4v4h-4zM285 167h4v4h-4zM277 171h12v4h-12zM285 175h4v4h-4zM249 179h8v4h-8zM245 183h4v4h-4zM253 183h4v4h-4zM245 187h4v4h-4zM253 187h4v4h-4zM245 191h8v4h-8zM277 191h8v4h-8zM277 195h4v4h-4zM277 199h4v4h-4zM333 199h8v4h-8zM277 203h4v4h-4zM285 203h4v4h-4zM277 207h12v4h-12zM329 207h4v4h-4zM285 211h4v4h-4zM309 211h8v4h-8zM365 211h8v4h-8zM249 215h8v4h-8zM381 215h88v4h-88zM245 219h4v4h-4zM253 219h4v4h-4zM245 223h4v4h-4zM253 223h4v4h-4zM245 227h8v4h-8zM277 227h8v4h-8zM277 231h4v4h-4zM277 235h4v4h-4zM301 299h4v4h-4zM229 331h8v4h-8zM245 331h8v4h-8zM233 335h16v4h-16zM237 339h8v4h-8zM277 339h8v4h-8zM273 343h12v4h-12zM265 347h8v4h-8zM277 347h12v4h-12zM261 351h4v4h-4zM273 351h4v4h-4zM253 355h4v4h-4zM269 355h4v4h-4zM285 355h8v4h-8zM229 359h4v4h-4zM249 359h4v4h-4zM265 359h4v4h-4zM289 359h4v4h-4zM233 363h4v4h-4zM261 363h4v4h-4zM309 367h4v4h-4zM309 371h4v4h-4zM245 375h4v4h-4zM273 375h4v4h-4zM309 375h4v4h-4zM241 379h4v4h-4zM285 379h4v4h-4zM309 379h4v4h-4zM309 383h4v4h-4zM257 387h4v4h-4zM277 387h8v4h-8zM289 387h4v4h-4zM309 387h4v4h-4zM309 391h4v4h-4zM309 395h4v4h-4zM241 399h4v4h-4zM289 399h4v4h-4zM309 399h4v4h-4zM257 403h4v4h-4zM281 407h4v4h-4zM301 411h4v4h-4zM301 415h8v4h-8zM389 423h4v4h-4zM389 427h4v4h-4zM401 427h4v4h-4zM433 427h4v4h-4zM357 439h8v4h-8zM405 439h4v4h-4zM417 439h4v4h-4zM449 439h4v4h-4zM461 439h8v4h-8zM277 443h4v4h-4zM417 443h4v4h-4zM461 443h8v4h-8zM345 451h4v4h-4zM373 451h4v4h-4zM389 451h4v4h-4zM433 451h4v4h-4zM349 455h4v4h-4zM377 455h4v4h-4zM393 455h4v4h-4zM429 455h4v4h-4zM437 455h4v4h-4zM445 455h8v4h-8zM461 455h8v4h-8zM389 459h4v4h-4zM401 459h8v4h-8zM433 459h4v4h-4zM445 459h8v4h-8zM461 459h4v4h-4zM341 463h4v4h-4zM353 463h8v4h-8zM361 467h4v4h-4zM401 467h8v4h-8zM417 467h4v4h-4zM461 467h8v4h-8zM365 471h8v4h-8zM405 471h12v4h-12zM433 471h4v4h-4zM449 471h4v4h-4zM461 471h8v4h-8zM337 475h4v4h-4zM365 475h8v4h-8zM417 475h8v4h-8zM433 475h4v4h-4zM369 479h4v4h-4zM389 479h4v4h-4zM433 479h4v4h-4zM381 483h4v4h-4zM393 483h8v4h-8zM429 483h4v4h-4zM437 483h4v4h-4zM445 483h4v4h-4zM453 483h4v4h-4zM461 483h8v4h-8zM381 487h4v4h-4zM397 487h4v4h-4zM417 487h4v4h-4zM437 487h8v4h-8zM453 487h8v4h-8zM389 491h4v4h-4zM401 491h8v4h-8zM449 491h4v4h-4zM461 491h8v4h-8zM357 495h4v4h-4zM401 495h8v4h-8zM417 495h4v4h-4zM461 495h8v4h-8zM305 499h4v4h-4zM337 499h4v4h-4zM409 499h4v4h-4zM425 499h12v4h-12zM445 499h8v4h-8zM461 499h8v4h-8zM305 503h4v4h-4zM369 503h8v4h-8zM413 503h4v4h-4zM425 503h4v4h-4zM437 503h16v4h-16zM461 503h8v4h-8zM365 507h4v4h-4zM377 507h4v4h-4zM421 507h4v4h-4zM429 507h12v4h-12zM445 507h8v4h-8zM461 507h4v4h-4zM325 511h4v4h-4zM357 511h4v4h-4zM381 511h4v4h-4zM393 511h4v4h-4zM401 511h4v4h-4zM429 511h4v4h-4zM437 511h4v4h-4zM445 511h4v4h-4zM453 511h16v4h-16zM417 515h8v4h-8zM429 515h4v4h-4zM437 515h8v4h-8zM457 515h4v4h-4zM381 519h4v4h-4zM409 519h12v4h-12zM433 519h4v4h-4zM445 519h8v4h-8zM389 523h4v4h-4zM417 523h4v4h-4zM465 523h4v4h-4zM261 527h4v4h-4zM409 527h4v4h-4zM433 527h4v4h-4zM445 527h8v4h-8zM461 527h8v4h-8zM389 531h4v4h-4zM401 531h4v4h-4zM437 531h12v4h-12zM453 531h8v4h-8zM413 535h4v4h-4zM425 535h8v4h-8zM437 535h4v4h-4zM445 535h8v4h-8zM461 535h8v4h-8zM365 539h8v4h-8zM421 539h4v4h-4zM429 539h4v4h-4zM437 539h4v4h-4zM445 539h12v4h-12zM461 539h8v4h-8zM401 543h8v4h-8zM425 543h4v4h-4zM441 543h4v4h-4zM457 543h4v4h-4zM405 547h4v4h-4zM417 547h12v4h-12zM397 551h4v4h-4zM405 551h4v4h-4zM433 551h8v4h-8zM445 551h4v4h-4zM453 551h8v4h-8zM381 555h4v4h-4zM397 555h4v4h-4zM433 555h4v4h-4zM445 555h16v4h-16zM421 559h4v4h-4zM429 559h4v4h-4zM437 559h8v4h-8zM453 559h8v4h-8zM261 563h4v4h-4zM385 563h4v4h-4zM429 563h4v4h-4zM437 563h4v4h-4zM445 563h4v4h-4zM453 563h8v4h-8zM401 567h4v4h-4zM409 567h8v4h-8zM421 567h4v4h-4zM433 567h4v4h-4zM449 567h4v4h-4zM461 567h8v4h-8zM405 571h8v4h-8zM425 571h8v4h-8zM437 571h4v4h-4zM445 571h12v4h-12zM461 571h8v4h-8zM373 575h4v4h-4zM389 575h4v4h-4zM401 575h4v4h-4zM409 575h4v4h-4zM457 575h4v4h-4zM301 579h4v4h-4zM345 579h4v4h-4zM389 579h4v4h-4zM405 579h4v4h-4zM441 579h4v4h-4zM457 579h4v4h-4zM381 583h4v4h-4zM417 583h16v4h-16zM437 583h8v4h-8zM453 583h8v4h-8zM405 587h4v4h-4zM417 587h12v4h-12zM441 587h4v4h-4zM409 591h8v4h-8zM425 591h4v4h-4z" fill="#fff0f0"/><path d="M281 51h4v4h-4zM281 55h4v4h-4zM281 59h4v4h-4zM249 75h4v4h-4zM249 79h4v4h-4zM281 87h4v4h-4zM281 91h4v4h-4zM281 95h4v4h-4zM249 111h4v4h-4zM249 115h4v4h-4zM281 123h4v4h-4zM281 127h4v4h-4zM281 131h4v4h-4zM249 147h4v4h-4zM249 151h4v4h-4zM281 159h4v4h-4zM281 163h4v4h-4zM281 167h4v4h-4zM249 183h4v4h-4zM249 187h4v4h-4zM281 195h4v4h-4zM281 199h4v4h-4zM281 203h4v4h-4zM341 203h4v4h-4zM349 207h8v4h-8zM361 211h4v4h-4zM369 215h12v4h-12zM249 219h4v4h-4zM405 219h64v4h-64zM249 223h4v4h-4zM305 223h4v4h-4zM281 231h4v4h-4zM281 235h4v4h-4zM301 259h4v4h-4zM301 263h4v4h-4zM301 267h4v4h-4zM301 271h4v4h-4zM301 295h4v4h-4zM273 347h4v4h-4zM265 351h8v4h-8zM285 351h4v4h-4zM257 355h12v4h-12zM253 359h12v4h-12zM229 363h4v4h-4zM245 363h8v4h-8zM257 363h4v4h-4zM309 363h4v4h-4zM237 367h8v4h-8zM253 367h4v4h-4zM229 371h4v4h-4zM249 371h4v4h-4zM233 375h4v4h-4zM277 375h4v4h-4zM237 379h4v4h-4zM269 379h4v4h-4zM265 383h4v4h-4zM253 391h4v4h-4zM433 395h4v4h-4zM465 395h4v4h-4zM261 399h4v4h-4zM309 403h4v4h-4zM309 407h4v4h-4zM333 407h4v4h-4zM449 407h4v4h-4zM273 411h4v4h-4zM309 411h4v4h-4zM333 411h8v4h-8zM373 411h4v4h-4zM405 411h4v4h-4zM417 411h4v4h-4zM433 411h4v4h-4zM445 411h8v4h-8zM461 411h8v4h-8zM241 415h4v4h-4zM333 415h12v4h-12zM461 415h8v4h-8zM337 419h12v4h-12zM257 423h4v4h-4zM281 423h4v4h-4zM345 423h4v4h-4zM385 423h4v4h-4zM417 423h8v4h-8zM429 423h8v4h-8zM449 423h4v4h-4zM461 423h8v4h-8zM273 427h4v4h-4zM293 427h4v4h-4zM345 427h12v4h-12zM385 427h4v4h-4zM393 427h4v4h-4zM405 427h4v4h-4zM429 427h4v4h-4zM437 427h4v4h-4zM445 427h8v4h-8zM461 427h8v4h-8zM433 431h4v4h-4zM449 431h4v4h-4zM241 435h4v4h-4zM357 435h4v4h-4zM405 435h4v4h-4zM449 435h4v4h-4zM461 435h4v4h-4zM305 439h4v4h-4zM365 439h8v4h-8zM409 439h8v4h-8zM421 439h4v4h-4zM433 439h4v4h-4zM445 439h4v4h-4zM453 439h8v4h-8zM361 443h12v4h-12zM377 443h4v4h-4zM413 443h4v4h-4zM421 443h4v4h-4zM433 443h4v4h-4zM445 443h8v4h-8zM457 443h4v4h-4zM373 447h4v4h-4zM417 447h4v4h-4zM465 447h4v4h-4zM377 451h4v4h-4zM385 451h4v4h-4zM417 451h8v4h-8zM429 451h4v4h-4zM437 451h4v4h-4zM449 451h4v4h-4zM461 451h8v4h-8zM381 455h4v4h-4zM397 455h4v4h-4zM405 455h4v4h-4zM417 455h12v4h-12zM441 455h4v4h-4zM453 455h8v4h-8zM353 459h4v4h-4zM385 459h4v4h-4zM393 459h8v4h-8zM429 459h4v4h-4zM437 459h8v4h-8zM453 459h8v4h-8zM465 459h4v4h-4zM337 463h4v4h-4zM401 463h8v4h-8zM445 463h8v4h-8zM461 463h8v4h-8zM409 467h8v4h-8zM421 467h4v4h-4zM433 467h4v4h-4zM445 467h16v4h-16zM373 471h4v4h-4zM401 471h4v4h-4zM425 471h8v4h-8zM437 471h4v4h-4zM445 471h4v4h-4zM453 471h8v4h-8zM377 475h4v4h-4zM413 475h4v4h-4zM425 475h8v4h-8zM445 475h8v4h-8zM461 475h8v4h-8zM277 479h4v4h-4zM361 479h8v4h-8zM377 479h4v4h-4zM385 479h4v4h-4zM417 479h8v4h-8zM429 479h4v4h-4zM437 479h4v4h-4zM445 479h8v4h-8zM461 479h8v4h-8zM365 483h4v4h-4zM405 483h4v4h-4zM417 483h12v4h-12zM441 483h4v4h-4zM457 483h4v4h-4zM421 487h4v4h-4zM429 487h4v4h-4zM321 491h4v4h-4zM385 491h4v4h-4zM393 491h8v4h-8zM409 491h12v4h-12zM433 491h4v4h-4zM445 491h4v4h-4zM453 491h8v4h-8zM305 495h4v4h-4zM325 495h4v4h-4zM409 495h8v4h-8zM421 495h4v4h-4zM433 495h4v4h-4zM445 495h8v4h-8zM389 499h4v4h-4zM401 499h4v4h-4zM437 499h8v4h-8zM453 499h8v4h-8zM389 503h4v4h-4zM401 503h8v4h-8zM453 503h8v4h-8zM305 507h4v4h-4zM385 507h8v4h-8zM417 507h4v4h-4zM425 507h4v4h-4zM441 507h4v4h-4zM453 507h8v4h-8zM465 507h4v4h-4zM397 511h4v4h-4zM405 511h4v4h-4zM417 511h12v4h-12zM441 511h4v4h-4zM277 515h4v4h-4zM409 515h8v4h-8zM425 515h4v4h-4zM369 519h4v4h-4zM421 519h4v4h-4zM429 519h4v4h-4zM437 519h8v4h-8zM453 519h8v4h-8zM393 523h8v4h-8zM409 523h8v4h-8zM421 523h4v4h-4zM433 523h4v4h-4zM445 523h8v4h-8zM461 523h4v4h-4zM389 527h4v4h-4zM425 527h8v4h-8zM437 527h8v4h-8zM453 527h8v4h-8zM325 531h4v4h-4zM373 531h4v4h-4zM385 531h4v4h-4zM401 535h8v4h-8zM441 535h4v4h-4zM453 535h8v4h-8zM373 539h4v4h-4zM425 539h4v4h-4zM441 539h4v4h-4zM457 539h4v4h-4zM393 543h4v4h-4zM413 543h4v4h-4zM409 547h8v4h-8zM277 551h4v4h-4zM417 551h8v4h-8zM429 551h4v4h-4zM441 551h4v4h-4zM365 555h4v4h-4zM409 555h4v4h-4zM417 555h8v4h-8zM429 555h4v4h-4zM437 555h8v4h-8zM345 559h4v4h-4zM369 559h4v4h-4zM425 559h4v4h-4zM373 563h4v4h-4zM425 563h4v4h-4zM441 563h4v4h-4zM425 567h8v4h-8zM437 567h4v4h-4zM445 567h4v4h-4zM453 567h8v4h-8zM389 571h4v4h-4zM401 571h4v4h-4zM441 571h4v4h-4zM457 571h4v4h-4zM365 575h8v4h-8zM377 575h4v4h-4zM385 575h4v4h-4zM393 575h8v4h-8zM377 579h4v4h-4zM385 579h4v4h-4zM401 579h4v4h-4zM409 579h8v4h-8zM401 583h8v4h-8zM277 587h4v4h-4zM409 587h8v4h-8zM357 591h4v4h-4z" fill="#ffebeb"/><path d="M333 203h4v4h-4zM345 207h4v4h-4zM357 211h4v4h-4zM309 215h4v4h-4zM317 215h8v4h-8zM365 215h4v4h-4zM373 219h32v4h-32zM433 223h36v4h-36zM305 227h4v4h-4zM305 311h4v4h-4zM309 355h4v4h-4zM309 359h4v4h-4zM253 363h4v4h-4zM229 367h8v4h-8zM245 367h8v4h-8zM233 371h16v4h-16zM237 375h8v4h-8zM281 375h4v4h-4zM273 379h4v4h-4zM417 379h4v4h-4zM449 379h4v4h-4zM461 379h8v4h-8zM269 383h4v4h-4zM277 383h12v4h-12zM417 383h4v4h-4zM449 383h4v4h-4zM461 383h8v4h-8zM261 387h4v4h-4zM273 387h4v4h-4zM269 391h4v4h-4zM285 391h8v4h-8zM461 391h8v4h-8zM229 395h4v4h-4zM249 395h4v4h-4zM265 395h4v4h-4zM289 395h4v4h-4zM389 395h4v4h-4zM401 395h4v4h-4zM417 395h8v4h-8zM429 395h4v4h-4zM437 395h4v4h-4zM445 395h8v4h-8zM461 395h4v4h-4zM233 399h4v4h-4zM433 399h4v4h-4zM449 399h4v4h-4zM461 399h8v4h-8zM329 407h4v4h-4zM337 407h4v4h-4zM401 407h8v4h-8zM433 407h8v4h-8zM445 407h4v4h-4zM453 407h4v4h-4zM461 407h8v4h-8zM245 411h4v4h-4zM329 411h4v4h-4zM369 411h4v4h-4zM377 411h4v4h-4zM409 411h8v4h-8zM421 411h4v4h-4zM437 411h8v4h-8zM453 411h8v4h-8zM269 415h4v4h-4zM285 415h4v4h-4zM309 415h4v4h-4zM373 415h4v4h-4zM417 415h8v4h-8zM433 415h4v4h-4zM445 415h16v4h-16zM309 419h4v4h-4zM373 419h4v4h-4zM389 419h4v4h-4zM417 419h8v4h-8zM449 419h4v4h-4zM461 419h8v4h-8zM277 423h4v4h-4zM341 423h4v4h-4zM349 423h4v4h-4zM377 423h4v4h-4zM393 423h12v4h-12zM425 423h4v4h-4zM437 423h4v4h-4zM445 423h4v4h-4zM453 423h8v4h-8zM357 427h4v4h-4zM397 427h4v4h-4zM417 427h12v4h-12zM441 427h4v4h-4zM453 427h8v4h-8zM349 431h12v4h-12zM401 431h8v4h-8zM429 431h4v4h-4zM437 431h4v4h-4zM445 431h4v4h-4zM453 431h16v4h-16zM325 435h4v4h-4zM353 435h4v4h-4zM361 435h4v4h-4zM401 435h4v4h-4zM433 435h8v4h-8zM445 435h4v4h-4zM453 435h8v4h-8zM465 435h4v4h-4zM257 439h4v4h-4zM373 439h4v4h-4zM401 439h4v4h-4zM429 439h4v4h-4zM437 439h8v4h-8zM281 443h4v4h-4zM293 443h4v4h-4zM321 443h4v4h-4zM401 443h12v4h-12zM429 443h4v4h-4zM437 443h8v4h-8zM453 443h4v4h-4zM369 447h4v4h-4zM377 447h4v4h-4zM385 447h8v4h-8zM421 447h4v4h-4zM429 447h8v4h-8zM445 447h8v4h-8zM461 447h4v4h-4zM369 451h4v4h-4zM381 451h4v4h-4zM393 451h4v4h-4zM425 451h4v4h-4zM441 451h8v4h-8zM453 451h8v4h-8zM413 455h4v4h-4zM417 459h8v4h-8zM273 463h4v4h-4zM409 463h4v4h-4zM417 463h4v4h-4zM433 463h12v4h-12zM453 463h8v4h-8zM337 467h4v4h-4zM429 467h4v4h-4zM437 467h8v4h-8zM325 471h4v4h-4zM337 471h4v4h-4zM385 471h8v4h-8zM441 471h4v4h-4zM389 475h4v4h-4zM405 475h4v4h-4zM437 475h8v4h-8zM453 475h8v4h-8zM381 479h4v4h-4zM393 479h4v4h-4zM425 479h4v4h-4zM441 479h4v4h-4zM453 479h8v4h-8zM413 483h4v4h-4zM369 487h4v4h-4zM409 487h8v4h-8zM425 487h4v4h-4zM421 491h4v4h-4zM429 491h4v4h-4zM437 491h8v4h-8zM389 495h4v4h-4zM429 495h4v4h-4zM437 495h8v4h-8zM453 495h8v4h-8zM273 499h4v4h-4zM373 499h4v4h-4zM385 499h4v4h-4zM377 503h4v4h-4zM385 503h4v4h-4zM409 503h4v4h-4zM381 507h4v4h-4zM401 507h8v4h-8zM413 511h4v4h-4zM361 515h4v4h-4zM425 519h4v4h-4zM349 523h4v4h-4zM385 523h4v4h-4zM429 523h4v4h-4zM437 523h8v4h-8zM453 523h8v4h-8zM373 527h4v4h-4zM385 527h4v4h-4zM393 527h8v4h-8zM361 531h4v4h-4zM377 531h4v4h-4zM393 531h8v4h-8zM373 535h4v4h-4zM389 535h4v4h-4zM409 535h4v4h-4zM389 539h4v4h-4zM401 539h8v4h-8zM413 539h4v4h-4zM349 543h4v4h-4zM397 543h4v4h-4zM409 543h4v4h-4zM353 547h4v4h-4zM329 551h4v4h-4zM409 551h8v4h-8zM425 551h4v4h-4zM413 555h4v4h-4zM425 555h4v4h-4zM377 563h8v4h-8zM389 567h4v4h-4zM441 567h4v4h-4zM361 571h4v4h-4zM373 571h4v4h-4zM385 571h4v4h-4zM381 575h4v4h-4zM381 579h4v4h-4zM393 579h8v4h-8zM393 583h8v4h-8zM413 583h4v4h-4zM333 591h4v4h-4z" fill="#ffe6e6"/><path d="M337 203h4v4h-4zM329 211h4v4h-4zM353 211h4v4h-4zM313 215h4v4h-4zM361 215h4v4h-4zM365 219h8v4h-8zM381 223h52v4h-52zM465 227h4v4h-4zM305 231h4v4h-4zM309 351h4v4h-4zM433 363h4v4h-4zM449 363h4v4h-4zM461 363h8v4h-8zM401 367h8v4h-8zM433 367h8v4h-8zM445 367h8v4h-8zM461 367h8v4h-8zM449 371h4v4h-4zM449 375h4v4h-4zM277 379h8v4h-8zM373 379h4v4h-4zM421 379h4v4h-4zM433 379h4v4h-4zM445 379h4v4h-4zM453 379h8v4h-8zM273 383h4v4h-4zM373 383h4v4h-4zM389 383h4v4h-4zM421 383h4v4h-4zM433 383h4v4h-4zM445 383h4v4h-4zM453 383h8v4h-8zM265 387h8v4h-8zM285 387h4v4h-4zM461 387h8v4h-8zM257 391h12v4h-12zM389 391h4v4h-4zM417 391h8v4h-8zM433 391h4v4h-4zM449 391h4v4h-4zM253 395h12v4h-12zM385 395h4v4h-4zM393 395h8v4h-8zM405 395h4v4h-4zM425 395h4v4h-4zM441 395h4v4h-4zM453 395h8v4h-8zM245 399h4v4h-4zM257 399h4v4h-4zM389 399h4v4h-4zM401 399h8v4h-8zM417 399h8v4h-8zM429 399h4v4h-4zM437 399h12v4h-12zM453 399h8v4h-8zM237 403h8v4h-8zM253 403h4v4h-4zM329 403h8v4h-8zM401 403h8v4h-8zM433 403h8v4h-8zM445 403h8v4h-8zM461 403h8v4h-8zM229 407h4v4h-4zM249 407h4v4h-4zM361 407h4v4h-4zM373 407h4v4h-4zM409 407h16v4h-16zM429 407h4v4h-4zM441 407h4v4h-4zM457 407h4v4h-4zM233 411h4v4h-4zM341 411h4v4h-4zM361 411h8v4h-8zM389 411h4v4h-4zM401 411h4v4h-4zM425 411h8v4h-8zM237 415h4v4h-4zM329 415h4v4h-4zM345 415h4v4h-4zM369 415h4v4h-4zM377 415h4v4h-4zM385 415h4v4h-4zM413 415h4v4h-4zM429 415h4v4h-4zM437 415h4v4h-4zM265 419h4v4h-4zM333 419h4v4h-4zM385 419h4v4h-4zM429 419h12v4h-12zM445 419h4v4h-4zM453 419h8v4h-8zM309 423h4v4h-4zM353 423h4v4h-4zM373 423h4v4h-4zM381 423h4v4h-4zM405 423h4v4h-4zM413 423h4v4h-4zM441 423h4v4h-4zM253 427h4v4h-4zM381 427h4v4h-4zM409 427h8v4h-8zM361 431h4v4h-4zM389 431h12v4h-12zM417 431h8v4h-8zM441 431h4v4h-4zM261 435h4v4h-4zM329 435h4v4h-4zM409 435h16v4h-16zM429 435h4v4h-4zM441 435h4v4h-4zM353 439h4v4h-4zM389 439h4v4h-4zM425 439h4v4h-4zM357 443h4v4h-4zM385 443h8v4h-8zM425 443h4v4h-4zM273 447h4v4h-4zM321 447h4v4h-4zM365 447h4v4h-4zM381 447h4v4h-4zM413 447h4v4h-4zM425 447h4v4h-4zM437 447h8v4h-8zM453 447h8v4h-8zM241 451h4v4h-4zM397 451h12v4h-12zM305 455h4v4h-4zM325 455h4v4h-4zM369 455h4v4h-4zM409 455h4v4h-4zM257 459h4v4h-4zM281 459h4v4h-4zM409 459h8v4h-8zM425 459h4v4h-4zM293 463h4v4h-4zM389 463h12v4h-12zM413 463h4v4h-4zM421 463h4v4h-4zM429 463h4v4h-4zM345 467h4v4h-4zM389 467h4v4h-4zM425 467h4v4h-4zM241 471h4v4h-4zM377 471h4v4h-4zM393 471h8v4h-8zM257 475h4v4h-4zM381 475h8v4h-8zM401 475h4v4h-4zM409 475h4v4h-4zM281 479h4v4h-4zM293 479h4v4h-4zM401 479h8v4h-8zM413 479h4v4h-4zM409 483h4v4h-4zM241 487h4v4h-4zM425 491h4v4h-4zM257 495h4v4h-4zM281 495h4v4h-4zM397 495h4v4h-4zM425 495h4v4h-4zM293 499h4v4h-4zM369 499h4v4h-4zM377 499h4v4h-4zM393 499h8v4h-8zM337 503h4v4h-4zM345 503h4v4h-4zM381 503h4v4h-4zM393 503h8v4h-8zM241 507h4v4h-4zM393 507h4v4h-4zM413 507h4v4h-4zM257 511h4v4h-4zM337 511h4v4h-4zM409 511h4v4h-4zM281 515h4v4h-4zM341 515h4v4h-4zM357 515h4v4h-4zM345 519h4v4h-4zM373 523h4v4h-4zM425 523h4v4h-4zM357 527h4v4h-4zM377 527h4v4h-4zM369 531h4v4h-4zM381 531h4v4h-4zM273 535h4v4h-4zM293 535h4v4h-4zM305 535h4v4h-4zM337 535h4v4h-4zM377 535h4v4h-4zM385 535h4v4h-4zM393 535h8v4h-8zM377 539h4v4h-4zM385 539h4v4h-4zM393 539h4v4h-4zM409 539h4v4h-4zM241 543h4v4h-4zM257 547h4v4h-4zM281 551h4v4h-4zM357 551h4v4h-4zM341 555h4v4h-4zM357 559h12v4h-12zM353 563h12v4h-12zM369 563h4v4h-4zM313 567h4v4h-4zM357 567h4v4h-4zM373 567h4v4h-4zM385 567h4v4h-4zM393 567h8v4h-8zM273 571h4v4h-4zM325 571h4v4h-4zM377 571h4v4h-4zM393 571h8v4h-8zM337 575h4v4h-4zM241 579h4v4h-4zM349 583h4v4h-4zM409 583h4v4h-4zM353 587h4v4h-4zM337 591h4v4h-4z" fill="#ffe0e0"/><path d="M333 207h4v4h-4zM341 207h4v4h-4zM325 215h4v4h-4zM357 215h4v4h-4zM309 219h4v4h-4zM361 219h4v4h-4zM369 223h12v4h-12zM397 227h68v4h-68zM305 235h4v4h-4zM305 307h4v4h-4zM309 347h4v4h-4zM417 351h4v4h-4zM461 351h8v4h-8zM461 355h8v4h-8zM433 359h4v4h-4zM461 359h8v4h-8zM401 363h8v4h-8zM417 363h4v4h-4zM429 363h4v4h-4zM437 363h12v4h-12zM453 363h8v4h-8zM417 367h8v4h-8zM429 367h4v4h-4zM441 367h4v4h-4zM453 367h8v4h-8zM405 371h4v4h-4zM433 371h8v4h-8zM445 371h4v4h-4zM453 371h4v4h-4zM461 371h8v4h-8zM405 375h4v4h-4zM417 375h4v4h-4zM433 375h4v4h-4zM445 375h4v4h-4zM453 375h16v4h-16zM369 379h4v4h-4zM377 379h4v4h-4zM385 379h4v4h-4zM401 379h16v4h-16zM429 379h4v4h-4zM437 379h8v4h-8zM341 383h8v4h-8zM377 383h4v4h-4zM385 383h4v4h-4zM405 383h4v4h-4zM413 383h4v4h-4zM429 383h4v4h-4zM437 383h8v4h-8zM345 387h4v4h-4zM389 387h4v4h-4zM417 387h8v4h-8zM433 387h4v4h-4zM445 387h16v4h-16zM349 391h4v4h-4zM385 391h4v4h-4zM425 391h8v4h-8zM437 391h4v4h-4zM445 391h4v4h-4zM453 391h8v4h-8zM349 395h12v4h-12zM413 395h4v4h-4zM229 399h4v4h-4zM249 399h8v4h-8zM353 399h12v4h-12zM393 399h8v4h-8zM425 399h4v4h-4zM229 403h8v4h-8zM245 403h8v4h-8zM357 403h8v4h-8zM417 403h4v4h-4zM429 403h4v4h-4zM441 403h4v4h-4zM453 403h8v4h-8zM233 407h8v4h-8zM245 407h4v4h-4zM357 407h4v4h-4zM365 407h8v4h-8zM425 407h4v4h-4zM241 411h4v4h-4zM277 411h8v4h-8zM385 411h4v4h-4zM273 415h4v4h-4zM381 415h4v4h-4zM389 415h4v4h-4zM401 415h12v4h-12zM425 415h4v4h-4zM441 415h4v4h-4zM349 419h4v4h-4zM369 419h4v4h-4zM377 419h4v4h-4zM393 419h4v4h-4zM401 419h8v4h-8zM413 419h4v4h-4zM425 419h4v4h-4zM441 419h4v4h-4zM289 423h4v4h-4zM409 423h4v4h-4zM309 427h4v4h-4zM373 427h8v4h-8zM229 431h4v4h-4zM249 431h4v4h-4zM265 431h4v4h-4zM309 431h4v4h-4zM409 431h8v4h-8zM425 431h4v4h-4zM289 435h4v4h-4zM297 435h4v4h-4zM333 435h4v4h-4zM365 435h4v4h-4zM389 435h4v4h-4zM425 435h4v4h-4zM321 439h4v4h-4zM337 439h4v4h-4zM377 439h4v4h-4zM385 439h4v4h-4zM393 439h8v4h-8zM305 443h4v4h-4zM381 443h4v4h-4zM393 443h8v4h-8zM245 447h4v4h-4zM401 447h8v4h-8zM409 451h8v4h-8zM277 459h4v4h-4zM373 459h12v4h-12zM425 463h4v4h-4zM373 467h4v4h-4zM385 467h4v4h-4zM393 467h8v4h-8zM349 471h4v4h-4zM381 471h4v4h-4zM305 475h4v4h-4zM393 475h8v4h-8zM341 479h4v4h-4zM397 479h4v4h-4zM409 479h4v4h-4zM273 483h4v4h-4zM361 483h4v4h-4zM349 487h4v4h-4zM353 491h4v4h-4zM373 491h8v4h-8zM373 495h4v4h-4zM385 495h4v4h-4zM393 495h4v4h-4zM365 499h4v4h-4zM381 499h4v4h-4zM325 507h4v4h-4zM337 507h4v4h-4zM397 507h4v4h-4zM409 507h4v4h-4zM293 515h4v4h-4zM273 519h4v4h-4zM361 519h4v4h-4zM241 523h4v4h-4zM377 523h8v4h-8zM361 527h4v4h-4zM369 527h4v4h-4zM381 527h4v4h-4zM257 531h4v4h-4zM281 531h4v4h-4zM365 531h4v4h-4zM333 535h4v4h-4zM365 535h8v4h-8zM381 535h4v4h-4zM305 539h4v4h-4zM341 539h4v4h-4zM381 539h4v4h-4zM397 539h4v4h-4zM345 543h4v4h-4zM293 551h4v4h-4zM333 551h4v4h-4zM273 555h4v4h-4zM357 555h8v4h-8zM241 559h4v4h-4zM349 559h4v4h-4zM365 563h4v4h-4zM257 567h4v4h-4zM281 567h4v4h-4zM361 567h4v4h-4zM377 567h4v4h-4zM293 571h4v4h-4zM369 571h4v4h-4zM381 571h4v4h-4zM341 579h4v4h-4zM257 583h4v4h-4zM281 587h4v4h-4zM313 587h4v4h-4zM341 591h8v4h-8zM353 591h4v4h-4z" fill="#ffdbdb"/><path d="M337 207h4v4h-4zM349 211h4v4h-4zM353 215h4v4h-4zM313 219h4v4h-4zM357 219h4v4h-4zM309 223h4v4h-4zM365 223h4v4h-4zM373 227h24v4h-24zM461 231h8v4h-8zM309 343h4v4h-4zM461 347h8v4h-8zM385 351h8v4h-8zM421 351h4v4h-4zM429 351h8v4h-8zM445 351h16v4h-16zM389 355h4v4h-4zM417 355h8v4h-8zM429 355h8v4h-8zM445 355h8v4h-8zM401 359h4v4h-4zM421 359h4v4h-4zM429 359h4v4h-4zM437 359h4v4h-4zM445 359h8v4h-8zM389 363h12v4h-12zM421 363h8v4h-8zM357 367h8v4h-8zM389 367h4v4h-4zM397 367h4v4h-4zM409 367h8v4h-8zM425 367h4v4h-4zM401 371h4v4h-4zM417 371h4v4h-4zM429 371h4v4h-4zM441 371h4v4h-4zM457 371h4v4h-4zM333 375h8v4h-8zM373 375h4v4h-4zM413 375h4v4h-4zM421 375h4v4h-4zM429 375h4v4h-4zM437 375h8v4h-8zM337 379h12v4h-12zM381 379h4v4h-4zM389 379h4v4h-4zM425 379h4v4h-4zM349 383h4v4h-4zM369 383h4v4h-4zM381 383h4v4h-4zM401 383h4v4h-4zM409 383h4v4h-4zM425 383h4v4h-4zM341 387h4v4h-4zM349 387h4v4h-4zM373 387h4v4h-4zM385 387h4v4h-4zM413 387h4v4h-4zM425 387h8v4h-8zM437 387h8v4h-8zM345 391h4v4h-4zM353 391h4v4h-4zM393 391h16v4h-16zM413 391h4v4h-4zM441 391h4v4h-4zM373 395h4v4h-4zM409 395h4v4h-4zM385 399h4v4h-4zM409 399h8v4h-8zM409 403h4v4h-4zM421 403h8v4h-8zM241 407h4v4h-4zM389 407h4v4h-4zM237 411h4v4h-4zM381 411h4v4h-4zM393 411h8v4h-8zM277 415h8v4h-8zM365 415h4v4h-4zM269 419h4v4h-4zM277 419h12v4h-12zM381 419h4v4h-4zM409 419h4v4h-4zM261 423h4v4h-4zM273 423h4v4h-4zM257 427h4v4h-4zM269 427h4v4h-4zM285 427h4v4h-4zM385 431h4v4h-4zM233 435h4v4h-4zM245 435h4v4h-4zM309 435h4v4h-4zM349 435h4v4h-4zM373 435h4v4h-4zM385 435h4v4h-4zM393 435h8v4h-8zM237 439h4v4h-4zM301 439h4v4h-4zM309 439h4v4h-4zM381 439h4v4h-4zM229 443h4v4h-4zM249 443h4v4h-4zM309 443h4v4h-4zM233 447h4v4h-4zM305 447h4v4h-4zM361 447h4v4h-4zM393 447h8v4h-8zM409 447h4v4h-4zM237 451h4v4h-4zM269 451h4v4h-4zM285 451h4v4h-4zM305 451h4v4h-4zM357 459h4v4h-4zM253 463h4v4h-4zM361 463h4v4h-4zM373 463h4v4h-4zM385 463h4v4h-4zM325 467h4v4h-4zM365 467h8v4h-8zM377 467h4v4h-4zM261 471h4v4h-4zM353 475h4v4h-4zM357 479h4v4h-4zM245 483h4v4h-4zM345 483h4v4h-4zM357 483h4v4h-4zM357 487h12v4h-12zM357 491h4v4h-4zM381 491h4v4h-4zM277 495h4v4h-4zM361 495h4v4h-4zM377 495h4v4h-4zM325 499h4v4h-4zM325 503h4v4h-4zM341 503h4v4h-4zM261 507h4v4h-4zM349 507h4v4h-4zM353 511h4v4h-4zM345 515h4v4h-4zM357 519h4v4h-4zM365 519h4v4h-4zM357 523h4v4h-4zM369 523h4v4h-4zM277 531h4v4h-4zM305 531h4v4h-4zM321 531h4v4h-4zM305 543h4v4h-4zM345 547h8v4h-8zM337 551h4v4h-4zM345 555h4v4h-4zM353 559h4v4h-4zM277 567h4v4h-4zM369 567h4v4h-4zM381 567h4v4h-4zM321 571h4v4h-4zM365 571h4v4h-4zM333 575h4v4h-4zM345 583h4v4h-4zM293 587h4v4h-4zM317 587h12v4h-12zM345 587h8v4h-8zM273 591h4v4h-4zM349 591h4v4h-4z" fill="#ffd6d6"/><path d="M345 211h4v4h-4zM349 215h4v4h-4zM317 219h4v4h-4zM353 219h4v4h-4zM361 223h4v4h-4zM369 227h4v4h-4zM405 231h56v4h-56zM305 239h4v4h-4zM309 339h4v4h-4zM417 347h8v4h-8zM433 347h4v4h-4zM445 347h16v4h-16zM393 351h4v4h-4zM401 351h8v4h-8zM425 351h4v4h-4zM437 351h8v4h-8zM385 355h4v4h-4zM401 355h4v4h-4zM425 355h4v4h-4zM437 355h8v4h-8zM453 355h8v4h-8zM389 359h4v4h-4zM405 359h4v4h-4zM417 359h4v4h-4zM425 359h4v4h-4zM441 359h4v4h-4zM453 359h8v4h-8zM357 363h8v4h-8zM409 363h8v4h-8zM365 367h12v4h-12zM385 367h4v4h-4zM393 367h4v4h-4zM333 371h8v4h-8zM361 371h4v4h-4zM369 371h8v4h-8zM409 371h8v4h-8zM421 371h8v4h-8zM341 375h4v4h-4zM369 375h4v4h-4zM377 375h4v4h-4zM401 375h4v4h-4zM409 375h4v4h-4zM425 375h4v4h-4zM333 379h4v4h-4zM365 379h4v4h-4zM393 379h8v4h-8zM337 383h4v4h-4zM393 383h8v4h-8zM353 387h4v4h-4zM377 387h4v4h-4zM393 387h4v4h-4zM401 387h8v4h-8zM357 391h4v4h-4zM377 391h8v4h-8zM409 391h4v4h-4zM361 395h4v4h-4zM377 395h8v4h-8zM329 399h4v4h-4zM373 399h4v4h-4zM353 403h4v4h-4zM365 403h4v4h-4zM389 403h4v4h-4zM397 403h4v4h-4zM413 403h4v4h-4zM325 407h4v4h-4zM377 407h4v4h-4zM385 407h4v4h-4zM393 407h8v4h-8zM325 411h4v4h-4zM393 415h8v4h-8zM273 419h4v4h-4zM397 419h4v4h-4zM265 423h8v4h-8zM285 423h4v4h-4zM369 423h4v4h-4zM261 427h8v4h-8zM289 427h4v4h-4zM361 427h4v4h-4zM369 427h4v4h-4zM253 431h4v4h-4zM261 431h4v4h-4zM289 431h8v4h-8zM345 431h4v4h-4zM373 431h4v4h-4zM257 435h4v4h-4zM241 439h4v4h-4zM253 439h4v4h-4zM293 439h4v4h-4zM341 443h4v4h-4zM297 447h4v4h-4zM309 447h4v4h-4zM309 451h4v4h-4zM321 451h4v4h-4zM365 451h4v4h-4zM265 455h4v4h-4zM353 455h16v4h-16zM325 459h4v4h-4zM361 459h4v4h-4zM369 459h4v4h-4zM325 463h4v4h-4zM377 463h4v4h-4zM229 467h4v4h-4zM265 467h4v4h-4zM341 467h4v4h-4zM381 467h4v4h-4zM289 471h4v4h-4zM297 471h4v4h-4zM341 475h4v4h-4zM237 487h4v4h-4zM269 487h4v4h-4zM285 487h4v4h-4zM353 487h4v4h-4zM361 491h4v4h-4zM369 491h4v4h-4zM369 495h4v4h-4zM381 495h4v4h-4zM253 499h4v4h-4zM289 507h4v4h-4zM345 507h4v4h-4zM341 511h4v4h-4zM349 515h8v4h-8zM245 519h4v4h-4zM349 519h8v4h-8zM269 523h4v4h-4zM285 523h4v4h-4zM353 523h4v4h-4zM361 523h4v4h-4zM365 527h4v4h-4zM253 535h4v4h-4zM329 535h4v4h-4zM337 539h4v4h-4zM261 543h4v4h-4zM341 543h4v4h-4zM341 547h4v4h-4zM341 551h8v4h-8zM353 551h4v4h-4zM245 555h4v4h-4zM349 555h8v4h-8zM269 559h4v4h-4zM285 559h4v4h-4zM365 567h4v4h-4zM253 571h4v4h-4zM305 571h4v4h-4zM305 575h4v4h-4zM329 575h4v4h-4zM261 579h4v4h-4zM337 579h4v4h-4zM341 583h4v4h-4zM329 587h16v4h-16zM245 591h4v4h-4z" fill="#ffd1d1"/><path d="M333 211h12v4h-12zM329 215h4v4h-4zM345 215h4v4h-4zM313 223h4v4h-4zM357 223h4v4h-4zM309 227h4v4h-4zM365 227h4v4h-4zM381 231h24v4h-24zM305 243h4v4h-4zM305 303h4v4h-4zM309 335h4v4h-4zM449 335h4v4h-4zM461 335h8v4h-8zM445 339h8v4h-8zM461 339h8v4h-8zM449 343h4v4h-4zM461 343h8v4h-8zM373 347h4v4h-4zM385 347h8v4h-8zM413 347h4v4h-4zM429 347h4v4h-4zM437 347h4v4h-4zM373 351h12v4h-12zM397 351h4v4h-4zM413 351h4v4h-4zM393 355h8v4h-8zM405 355h4v4h-4zM413 355h4v4h-4zM385 359h4v4h-4zM393 359h8v4h-8zM365 363h4v4h-4zM373 363h4v4h-4zM385 363h4v4h-4zM329 367h8v4h-8zM329 371h4v4h-4zM365 371h4v4h-4zM389 371h4v4h-4zM329 375h4v4h-4zM361 375h8v4h-8zM389 375h4v4h-4zM381 387h4v4h-4zM397 387h4v4h-4zM409 387h4v4h-4zM373 391h4v4h-4zM369 395h4v4h-4zM377 399h4v4h-4zM325 403h4v4h-4zM373 403h4v4h-4zM385 403h4v4h-4zM393 403h4v4h-4zM381 407h4v4h-4zM357 411h4v4h-4zM361 415h4v4h-4zM337 423h4v4h-4zM357 423h8v4h-8zM341 427h4v4h-4zM365 427h4v4h-4zM257 431h4v4h-4zM333 431h4v4h-4zM377 431h8v4h-8zM229 435h4v4h-4zM249 435h8v4h-8zM293 435h4v4h-4zM321 435h4v4h-4zM337 435h4v4h-4zM369 435h4v4h-4zM377 435h8v4h-8zM229 439h8v4h-8zM245 439h8v4h-8zM297 439h4v4h-4zM245 443h4v4h-4zM353 443h4v4h-4zM241 447h4v4h-4zM277 447h8v4h-8zM345 447h4v4h-4zM357 447h4v4h-4zM301 451h4v4h-4zM349 451h4v4h-4zM357 451h8v4h-8zM309 455h4v4h-4zM261 459h4v4h-4zM289 459h4v4h-4zM309 459h4v4h-4zM365 459h4v4h-4zM269 463h4v4h-4zM285 463h4v4h-4zM369 463h4v4h-4zM381 463h4v4h-4zM249 467h4v4h-4zM233 471h4v4h-4zM341 471h8v4h-8zM237 475h4v4h-4zM349 475h4v4h-4zM229 479h4v4h-4zM249 479h4v4h-4zM305 479h4v4h-4zM345 479h4v4h-4zM233 483h4v4h-4zM349 483h8v4h-8zM317 487h4v4h-4zM265 491h4v4h-4zM305 491h4v4h-4zM365 491h4v4h-4zM365 495h4v4h-4zM229 503h4v4h-4zM249 503h4v4h-4zM265 503h4v4h-4zM233 507h4v4h-4zM297 507h4v4h-4zM341 507h4v4h-4zM345 511h8v4h-8zM249 515h4v4h-4zM233 519h4v4h-4zM237 523h4v4h-4zM365 523h4v4h-4zM325 535h4v4h-4zM229 539h4v4h-4zM249 539h4v4h-4zM265 539h4v4h-4zM333 539h4v4h-4zM289 543h4v4h-4zM337 543h4v4h-4zM313 547h4v4h-4zM321 547h20v4h-20zM349 551h4v4h-4zM233 555h4v4h-4zM237 559h4v4h-4zM229 575h4v4h-4zM325 575h4v4h-4zM289 579h4v4h-4zM305 579h4v4h-4zM329 579h8v4h-8zM329 583h12v4h-12z" fill="#ffcccc"/><path d="M321 219h4v4h-4zM349 219h4v4h-4zM361 227h4v4h-4zM373 231h8v4h-8zM417 235h52v4h-52zM305 247h4v4h-4zM309 331h4v4h-4zM405 335h4v4h-4zM417 335h4v4h-4zM433 335h8v4h-8zM445 335h4v4h-4zM453 335h8v4h-8zM405 339h4v4h-4zM417 339h4v4h-4zM433 339h8v4h-8zM453 339h8v4h-8zM417 343h8v4h-8zM433 343h4v4h-4zM445 343h4v4h-4zM453 343h8v4h-8zM377 347h4v4h-4zM401 347h8v4h-8zM425 347h4v4h-4zM441 347h4v4h-4zM409 351h4v4h-4zM381 355h4v4h-4zM409 355h4v4h-4zM357 359h4v4h-4zM409 359h8v4h-8zM353 363h4v4h-4zM377 363h4v4h-4zM377 367h8v4h-8zM313 371h4v4h-4zM341 371h4v4h-4zM357 371h4v4h-4zM385 371h4v4h-4zM393 371h8v4h-8zM313 375h4v4h-4zM345 375h4v4h-4zM385 375h4v4h-4zM393 375h8v4h-8zM313 379h4v4h-4zM313 383h4v4h-4zM313 387h4v4h-4zM313 391h4v4h-4zM313 395h4v4h-4zM313 399h4v4h-4zM325 399h4v4h-4zM349 399h4v4h-4zM365 399h8v4h-8zM381 399h4v4h-4zM313 403h4v4h-4zM337 403h4v4h-4zM369 403h4v4h-4zM377 403h4v4h-4zM341 407h4v4h-4zM345 411h4v4h-4zM349 415h4v4h-4zM357 415h4v4h-4zM365 419h4v4h-4zM321 423h4v4h-4zM365 423h4v4h-4zM321 427h4v4h-4zM329 431h4v4h-4zM337 431h4v4h-4zM365 431h8v4h-8zM345 435h4v4h-4zM341 439h4v4h-4zM349 439h4v4h-4zM233 443h12v4h-12zM297 443h8v4h-8zM345 443h4v4h-4zM237 447h4v4h-4zM273 451h4v4h-4zM353 451h4v4h-4zM269 455h4v4h-4zM277 455h12v4h-12zM273 459h4v4h-4zM257 463h4v4h-4zM309 463h4v4h-4zM365 463h4v4h-4zM309 467h4v4h-4zM245 471h4v4h-4zM253 475h4v4h-4zM301 475h4v4h-4zM345 475h4v4h-4zM317 479h4v4h-4zM349 479h8v4h-8zM277 483h4v4h-4zM297 483h4v4h-4zM305 483h4v4h-4zM317 483h4v4h-4zM305 487h4v4h-4zM261 495h4v4h-4zM289 495h4v4h-4zM269 499h4v4h-4zM285 499h4v4h-4zM245 507h4v4h-4zM237 511h4v4h-4zM253 511h4v4h-4zM305 511h4v4h-4zM229 515h4v4h-4zM265 527h4v4h-4zM289 531h4v4h-4zM269 535h4v4h-4zM285 535h4v4h-4zM313 539h4v4h-4zM329 539h4v4h-4zM233 543h4v4h-4zM297 543h4v4h-4zM313 543h4v4h-4zM329 543h8v4h-8zM237 547h4v4h-4zM229 551h4v4h-4zM249 551h4v4h-4zM265 563h4v4h-4zM305 567h4v4h-4zM249 575h4v4h-4zM265 575h4v4h-4zM233 579h4v4h-4zM325 579h4v4h-4zM321 583h8v4h-8zM229 587h4v4h-4zM249 587h4v4h-4zM233 591h4v4h-4z" fill="#ffc7c7"/><path d="M333 215h12v4h-12zM353 223h4v4h-4zM369 231h4v4h-4zM389 235h28v4h-28zM305 251h4v4h-4zM305 291h4v4h-4zM305 299h4v4h-4zM309 327h4v4h-4zM433 331h4v4h-4zM445 331h8v4h-8zM461 331h8v4h-8zM401 335h4v4h-4zM409 335h8v4h-8zM421 335h4v4h-4zM429 335h4v4h-4zM441 335h4v4h-4zM373 339h4v4h-4zM409 339h8v4h-8zM421 339h4v4h-4zM429 339h4v4h-4zM441 339h4v4h-4zM373 343h4v4h-4zM413 343h4v4h-4zM429 343h4v4h-4zM437 343h8v4h-8zM381 347h4v4h-4zM393 347h4v4h-4zM409 347h4v4h-4zM353 355h8v4h-8zM373 355h8v4h-8zM353 359h4v4h-4zM361 359h4v4h-4zM373 359h4v4h-4zM369 363h4v4h-4zM381 363h4v4h-4zM313 367h4v4h-4zM337 367h4v4h-4zM377 371h4v4h-4zM381 375h4v4h-4zM349 379h4v4h-4zM361 379h4v4h-4zM353 383h4v4h-4zM361 383h8v4h-8zM369 387h4v4h-4zM361 391h4v4h-4zM369 391h4v4h-4zM345 395h4v4h-4zM365 395h4v4h-4zM381 403h4v4h-4zM313 407h4v4h-4zM353 407h4v4h-4zM313 411h4v4h-4zM349 411h8v4h-8zM313 415h4v4h-4zM321 415h4v4h-4zM353 415h4v4h-4zM321 419h4v4h-4zM353 419h12v4h-12zM333 423h4v4h-4zM333 427h8v4h-8zM341 431h4v4h-4zM341 435h4v4h-4zM345 439h4v4h-4zM349 443h4v4h-4zM301 447h4v4h-4zM349 447h8v4h-8zM277 451h8v4h-8zM273 455h4v4h-4zM265 459h8v4h-8zM285 459h4v4h-4zM265 463h4v4h-4zM253 467h4v4h-4zM261 467h4v4h-4zM293 467h4v4h-4zM317 467h4v4h-4zM257 471h4v4h-4zM309 471h4v4h-4zM317 471h8v4h-8zM241 475h4v4h-4zM293 475h4v4h-4zM309 475h4v4h-4zM317 475h4v4h-4zM309 479h4v4h-4zM241 483h4v4h-4zM281 483h4v4h-4zM273 487h4v4h-4zM301 487h4v4h-4zM281 491h4v4h-4zM273 495h4v4h-4zM257 499h4v4h-4zM293 503h4v4h-4zM257 507h4v4h-4zM321 507h4v4h-4zM241 511h4v4h-4zM293 511h4v4h-4zM277 519h8v4h-8zM297 519h4v4h-4zM313 527h4v4h-4zM261 531h4v4h-4zM273 531h4v4h-4zM313 531h4v4h-4zM313 535h4v4h-4zM325 539h4v4h-4zM245 543h4v4h-4zM325 543h4v4h-4zM253 547h4v4h-4zM317 547h4v4h-4zM277 555h4v4h-4zM261 567h4v4h-4zM289 567h4v4h-4zM269 571h4v4h-4zM285 571h4v4h-4zM317 571h4v4h-4zM321 575h4v4h-4zM245 579h4v4h-4zM237 583h4v4h-4zM253 583h4v4h-4zM309 587h4v4h-4zM309 591h4v4h-4z" fill="#ffc2c2"/><path d="M325 219h4v4h-4zM345 219h4v4h-4zM317 223h4v4h-4zM313 227h4v4h-4zM357 227h4v4h-4zM309 231h4v4h-4zM365 231h4v4h-4zM377 235h12v4h-12zM425 239h44v4h-44zM305 287h4v4h-4zM305 295h4v4h-4zM449 323h4v4h-4zM461 323h8v4h-8zM449 327h4v4h-4zM461 327h8v4h-8zM405 331h4v4h-4zM417 331h4v4h-4zM429 331h4v4h-4zM437 331h4v4h-4zM453 331h8v4h-8zM373 335h4v4h-4zM389 335h4v4h-4zM425 335h4v4h-4zM377 339h4v4h-4zM389 339h4v4h-4zM401 339h4v4h-4zM425 339h4v4h-4zM377 343h4v4h-4zM385 343h8v4h-8zM401 343h12v4h-12zM425 343h4v4h-4zM369 347h4v4h-4zM397 347h4v4h-4zM349 351h8v4h-8zM349 355h4v4h-4zM349 359h4v4h-4zM377 359h8v4h-8zM313 363h4v4h-4zM329 363h4v4h-4zM353 367h4v4h-4zM381 371h4v4h-4zM357 375h4v4h-4zM353 379h8v4h-8zM357 383h4v4h-4zM337 387h4v4h-4zM357 387h8v4h-8zM341 391h4v4h-4zM365 391h4v4h-4zM333 399h4v4h-4zM345 399h4v4h-4zM341 403h4v4h-4zM349 403h4v4h-4zM321 407h4v4h-4zM345 407h8v4h-8zM321 411h4v4h-4zM313 419h4v4h-4zM329 419h4v4h-4zM313 423h4v4h-4zM313 427h4v4h-4zM329 427h4v4h-4zM317 459h4v4h-4zM261 463h4v4h-4zM289 463h4v4h-4zM317 463h4v4h-4zM257 467h4v4h-4zM289 467h4v4h-4zM229 471h4v4h-4zM249 471h8v4h-8zM293 471h4v4h-4zM229 475h8v4h-8zM245 475h8v4h-8zM297 475h4v4h-4zM233 479h16v4h-16zM237 483h4v4h-4zM309 483h4v4h-4zM309 487h4v4h-4zM269 491h4v4h-4zM277 491h4v4h-4zM285 491h4v4h-4zM309 491h4v4h-4zM265 495h4v4h-4zM265 499h4v4h-4zM253 503h4v4h-4zM261 503h4v4h-4zM289 503h4v4h-4zM229 507h4v4h-4zM249 507h4v4h-4zM301 511h4v4h-4zM245 515h4v4h-4zM237 519h8v4h-8zM313 519h4v4h-4zM273 523h4v4h-4zM313 523h4v4h-4zM269 527h4v4h-4zM277 527h12v4h-12zM257 535h4v4h-4zM321 535h4v4h-4zM253 539h4v4h-4zM261 539h4v4h-4zM293 539h4v4h-4zM257 543h4v4h-4zM321 543h4v4h-4zM241 547h4v4h-4zM293 547h4v4h-4zM241 555h4v4h-4zM281 555h4v4h-4zM273 559h4v4h-4zM277 563h8v4h-8zM273 567h4v4h-4zM257 571h4v4h-4zM309 575h4v4h-4zM257 579h4v4h-4zM297 579h4v4h-4zM309 579h4v4h-4zM321 579h4v4h-4zM241 583h4v4h-4zM309 583h4v4h-4zM317 583h4v4h-4zM241 591h4v4h-4zM277 591h8v4h-8z" fill="#ffbdbd"/><path d="M341 219h4v4h-4zM349 223h4v4h-4zM353 227h4v4h-4zM361 231h4v4h-4zM373 235h4v4h-4zM401 239h24v4h-24zM305 255h4v4h-4zM305 283h4v4h-4zM449 319h4v4h-4zM461 319h8v4h-8zM309 323h4v4h-4zM417 323h4v4h-4zM433 323h8v4h-8zM445 323h4v4h-4zM453 323h8v4h-8zM433 327h8v4h-8zM445 327h4v4h-4zM453 327h8v4h-8zM401 331h4v4h-4zM421 331h4v4h-4zM441 331h4v4h-4zM369 335h4v4h-4zM377 335h4v4h-4zM385 335h4v4h-4zM393 335h8v4h-8zM369 339h4v4h-4zM385 339h4v4h-4zM369 343h4v4h-4zM381 343h4v4h-4zM345 351h4v4h-4zM369 351h4v4h-4zM369 355h4v4h-4zM313 359h4v4h-4zM369 359h4v4h-4zM333 363h4v4h-4zM353 371h4v4h-4zM349 375h8v4h-8zM333 383h4v4h-4zM365 387h4v4h-4zM337 391h4v4h-4zM337 395h8v4h-8zM321 399h4v4h-4zM337 399h8v4h-8zM321 403h4v4h-4zM345 403h4v4h-4zM313 431h4v4h-4zM313 435h4v4h-4zM313 439h4v4h-4zM317 447h4v4h-4zM317 451h4v4h-4zM317 455h4v4h-4zM297 479h4v4h-4zM277 487h8v4h-8zM273 491h4v4h-4zM269 495h4v4h-4zM285 495h4v4h-4zM309 495h4v4h-4zM321 495h4v4h-4zM261 499h4v4h-4zM289 499h4v4h-4zM309 499h4v4h-4zM257 503h4v4h-4zM309 503h8v4h-8zM253 507h4v4h-4zM293 507h4v4h-4zM313 507h4v4h-4zM229 511h8v4h-8zM245 511h8v4h-8zM297 511h4v4h-4zM313 511h4v4h-4zM233 515h12v4h-12zM305 515h4v4h-4zM313 515h4v4h-4zM277 523h8v4h-8zM273 527h4v4h-4zM305 527h4v4h-4zM265 531h8v4h-8zM285 531h4v4h-4zM317 531h4v4h-4zM261 535h8v4h-8zM289 535h4v4h-4zM257 539h4v4h-4zM289 539h4v4h-4zM321 539h4v4h-4zM229 543h4v4h-4zM249 543h8v4h-8zM229 547h8v4h-8zM245 547h8v4h-8zM233 551h16v4h-16zM237 555h4v4h-4zM297 555h4v4h-4zM269 563h4v4h-4zM285 563h4v4h-4zM309 563h4v4h-4zM265 567h4v4h-4zM309 567h4v4h-4zM265 571h4v4h-4zM309 571h4v4h-4zM253 575h4v4h-4zM261 575h4v4h-4zM289 575h8v4h-8zM229 579h4v4h-4zM249 579h4v4h-4zM249 583h4v4h-4zM293 583h4v4h-4zM233 587h4v4h-4zM245 587h4v4h-4zM237 591h4v4h-4z" fill="#ffb8b8"/><path d="M329 219h4v4h-4zM337 219h4v4h-4zM321 223h4v4h-4zM317 227h4v4h-4zM357 231h4v4h-4zM309 235h4v4h-4zM369 235h4v4h-4zM381 239h20v4h-20zM453 243h16v4h-16zM305 279h4v4h-4zM309 319h4v4h-4zM417 319h4v4h-4zM433 319h4v4h-4zM445 319h4v4h-4zM453 319h8v4h-8zM401 323h8v4h-8zM421 323h4v4h-4zM429 323h4v4h-4zM441 323h4v4h-4zM401 327h8v4h-8zM417 327h8v4h-8zM429 327h4v4h-4zM441 327h4v4h-4zM389 331h4v4h-4zM409 331h8v4h-8zM425 331h4v4h-4zM381 339h4v4h-4zM393 339h8v4h-8zM393 343h8v4h-8zM345 347h8v4h-8zM357 351h4v4h-4zM313 355h4v4h-4zM345 355h4v4h-4zM361 355h4v4h-4zM365 359h4v4h-4zM325 367h4v4h-4zM325 371h4v4h-4zM321 379h4v4h-4zM329 379h4v4h-4zM321 383h4v4h-4zM321 387h4v4h-4zM333 387h4v4h-4zM321 391h4v4h-4zM333 391h4v4h-4zM321 395h16v4h-16zM329 423h4v4h-4zM317 431h4v4h-4zM325 431h4v4h-4zM317 435h4v4h-4zM317 439h4v4h-4zM313 443h8v4h-8zM313 447h4v4h-4zM313 451h4v4h-4zM313 455h4v4h-4zM313 459h4v4h-4zM313 463h4v4h-4zM301 479h4v4h-4zM301 483h4v4h-4zM313 483h4v4h-4zM313 487h4v4h-4zM313 491h4v4h-4zM313 495h4v4h-4zM313 499h4v4h-4zM321 499h4v4h-4zM321 503h4v4h-4zM309 507h4v4h-4zM309 511h4v4h-4zM297 515h4v4h-4zM309 515h4v4h-4zM309 519h4v4h-4zM301 523h4v4h-4zM309 523h4v4h-4zM309 527h4v4h-4zM309 531h4v4h-4zM309 535h4v4h-4zM309 539h4v4h-4zM293 543h4v4h-4zM309 543h4v4h-4zM297 547h4v4h-4zM305 547h8v4h-8zM309 551h4v4h-4zM309 555h4v4h-4zM277 559h8v4h-8zM309 559h4v4h-4zM273 563h4v4h-4zM269 567h4v4h-4zM285 567h4v4h-4zM261 571h4v4h-4zM289 571h4v4h-4zM257 575h4v4h-4zM317 575h4v4h-4zM253 579h4v4h-4zM317 579h4v4h-4zM229 583h8v4h-8zM245 583h4v4h-4zM237 587h8v4h-8z" fill="#ffb2b2"/><path d="M333 219h4v4h-4zM325 223h4v4h-4zM345 223h4v4h-4zM349 227h4v4h-4zM313 231h4v4h-4zM365 235h4v4h-4zM377 239h4v4h-4zM413 243h40v4h-40zM305 259h4v4h-4zM425 315h44v4h-44zM401 319h8v4h-8zM421 319h4v4h-4zM429 319h4v4h-4zM437 319h8v4h-8zM389 323h4v4h-4zM413 323h4v4h-4zM425 323h4v4h-4zM409 327h8v4h-8zM425 327h4v4h-4zM373 331h4v4h-4zM385 331h4v4h-4zM393 331h8v4h-8zM361 335h8v4h-8zM381 335h4v4h-4zM365 339h4v4h-4zM341 347h4v4h-4zM313 351h4v4h-4zM361 351h8v4h-8zM365 355h4v4h-4zM325 363h4v4h-4zM349 363h4v4h-4zM349 367h4v4h-4zM345 371h8v4h-8zM321 375h4v4h-4zM317 399h4v4h-4zM317 403h4v4h-4zM317 407h4v4h-4zM317 411h4v4h-4zM317 415h4v4h-4zM325 415h4v4h-4zM317 419h4v4h-4zM317 423h4v4h-4zM317 427h4v4h-4zM313 467h4v4h-4zM313 471h4v4h-4zM313 475h4v4h-4zM313 479h4v4h-4zM305 519h4v4h-4zM305 523h4v4h-4zM297 551h4v4h-4zM293 579h4v4h-4z" fill="#ffadad"/><path d="M341 223h4v4h-4zM321 227h4v4h-4zM353 231h4v4h-4zM361 235h4v4h-4zM369 239h8v4h-8zM397 243h16v4h-16zM305 263h4v4h-4zM305 267h4v4h-4zM305 271h4v4h-4zM305 275h4v4h-4zM441 311h28v4h-28zM309 315h4v4h-4zM397 315h28v4h-28zM389 319h4v4h-4zM413 319h4v4h-4zM425 319h4v4h-4zM385 323h4v4h-4zM393 323h8v4h-8zM409 323h4v4h-4zM389 327h12v4h-12zM369 331h4v4h-4zM341 343h8v4h-8zM365 343h4v4h-4zM313 347h4v4h-4zM353 347h4v4h-4zM365 347h4v4h-4zM341 367h8v4h-8zM321 371h4v4h-4zM317 375h4v4h-4zM325 375h4v4h-4zM317 379h4v4h-4zM317 383h4v4h-4zM329 383h4v4h-4zM317 387h4v4h-4zM329 387h4v4h-4zM317 391h4v4h-4zM329 391h4v4h-4zM317 395h4v4h-4zM321 467h4v4h-4zM301 515h4v4h-4zM301 519h4v4h-4zM317 543h4v4h-4zM301 547h4v4h-4zM305 583h4v4h-4zM313 583h4v4h-4zM297 591h4v4h-4z" fill="#ffa8a8"/><path d="M329 223h4v4h-4zM337 223h4v4h-4zM345 227h4v4h-4zM317 231h4v4h-4zM357 235h4v4h-4zM309 239h4v4h-4zM381 243h16v4h-16zM433 247h36v4h-36zM465 307h4v4h-4zM405 311h36v4h-36zM377 315h20v4h-20zM385 319h4v4h-4zM393 319h8v4h-8zM409 319h4v4h-4zM373 323h4v4h-4zM373 327h4v4h-4zM385 327h4v4h-4zM361 331h4v4h-4zM377 331h8v4h-8zM361 339h4v4h-4zM313 343h4v4h-4zM337 343h4v4h-4zM349 343h4v4h-4zM357 347h8v4h-8zM345 359h4v4h-4zM337 363h4v4h-4zM345 363h4v4h-4zM321 367h4v4h-4zM317 371h4v4h-4zM325 427h4v4h-4zM321 455h4v4h-4zM317 507h4v4h-4zM317 535h4v4h-4zM317 539h4v4h-4zM305 551h4v4h-4zM305 563h4v4h-4zM313 571h4v4h-4zM297 583h4v4h-4z" fill="#ffa3a3"/><path d="M333 223h4v4h-4zM325 227h4v4h-4zM349 231h4v4h-4zM313 235h4v4h-4zM365 239h4v4h-4zM377 243h4v4h-4zM409 247h24v4h-24zM429 307h36v4h-36zM309 311h4v4h-4zM385 311h20v4h-20zM373 315h4v4h-4zM373 319h4v4h-4zM377 323h8v4h-8zM377 327h4v4h-4zM365 331h4v4h-4zM357 335h4v4h-4zM313 339h4v4h-4zM337 339h12v4h-12zM361 343h4v4h-4zM341 351h4v4h-4zM325 359h8v4h-8zM321 363h4v4h-4zM341 363h4v4h-4zM317 367h4v4h-4zM325 419h4v4h-4zM325 423h4v4h-4zM321 463h4v4h-4zM317 491h4v4h-4zM305 555h4v4h-4zM301 559h8v4h-8zM297 587h4v4h-4z" fill="#ff9e9e"/><path d="M341 227h4v4h-4zM321 231h4v4h-4zM353 235h4v4h-4zM361 239h4v4h-4zM373 243h4v4h-4zM393 247h16v4h-16zM449 251h20v4h-20zM441 303h28v4h-28zM405 307h24v4h-24zM377 311h8v4h-8zM365 315h8v4h-8zM377 319h8v4h-8zM369 323h4v4h-4zM369 327h4v4h-4zM381 327h4v4h-4zM357 331h4v4h-4zM313 335h4v4h-4zM333 339h4v4h-4zM357 339h4v4h-4zM333 343h4v4h-4zM357 343h4v4h-4zM321 359h4v4h-4zM333 359h4v4h-4zM341 359h4v4h-4zM317 363h4v4h-4zM321 431h4v4h-4zM321 459h4v4h-4zM313 579h4v4h-4zM305 587h4v4h-4z" fill="#ff9999"/><path d="M329 227h12v4h-12zM345 231h4v4h-4zM317 235h4v4h-4zM309 243h4v4h-4zM369 243h4v4h-4zM381 247h12v4h-12zM417 251h32v4h-32zM449 299h20v4h-20zM413 303h28v4h-28zM309 307h4v4h-4zM385 307h20v4h-20zM369 311h8v4h-8zM361 315h4v4h-4zM369 319h4v4h-4zM361 327h8v4h-8zM353 343h4v4h-4zM337 347h4v4h-4zM321 355h4v4h-4zM341 355h4v4h-4zM317 359h4v4h-4zM337 359h4v4h-4zM325 391h4v4h-4zM301 551h4v4h-4zM301 555h4v4h-4zM313 575h4v4h-4zM301 583h4v4h-4zM305 591h4v4h-4z" fill="#ff9494"/><path d="M325 231h4v4h-4zM349 235h4v4h-4zM313 239h4v4h-4zM357 239h4v4h-4zM365 243h4v4h-4zM377 247h4v4h-4zM405 251h12v4h-12zM461 255h8v4h-8zM449 295h20v4h-20zM417 299h32v4h-32zM393 303h20v4h-20zM377 307h8v4h-8zM365 311h4v4h-4zM361 323h8v4h-8zM357 327h4v4h-4zM313 331h4v4h-4zM329 335h16v4h-16zM353 335h4v4h-4zM329 339h4v4h-4zM349 339h8v4h-8zM321 351h4v4h-4zM337 351h4v4h-4zM317 355h4v4h-4zM333 355h8v4h-8zM317 495h4v4h-4zM317 503h4v4h-4z" fill="#ff8f8f"/><path d="M341 231h4v4h-4zM321 235h4v4h-4zM361 243h4v4h-4zM309 247h4v4h-4zM373 247h4v4h-4zM393 251h12v4h-12zM433 255h28v4h-28zM445 291h24v4h-24zM417 295h32v4h-32zM401 299h16v4h-16zM381 303h12v4h-12zM373 307h4v4h-4zM357 315h4v4h-4zM365 319h4v4h-4zM357 323h4v4h-4zM313 327h4v4h-4zM353 331h4v4h-4zM321 347h4v4h-4zM317 351h4v4h-4zM329 355h4v4h-4zM325 379h4v4h-4zM325 383h4v4h-4zM325 387h4v4h-4zM317 499h4v4h-4z" fill="#ff8a8a"/><path d="M329 231h12v4h-12zM345 235h4v4h-4zM317 239h4v4h-4zM353 239h4v4h-4zM369 247h4v4h-4zM381 251h12v4h-12zM413 255h20v4h-20zM445 287h24v4h-24zM417 291h28v4h-28zM405 295h12v4h-12zM385 299h16v4h-16zM309 303h4v4h-4zM373 303h8v4h-8zM369 307h4v4h-4zM361 311h4v4h-4zM353 315h4v4h-4zM361 319h4v4h-4zM353 327h4v4h-4zM333 331h8v4h-8zM345 335h8v4h-8zM317 347h4v4h-4zM333 347h4v4h-4zM333 351h4v4h-4z" fill="#ff8585"/><path d="M325 235h4v4h-4zM313 243h4v4h-4zM357 243h4v4h-4zM365 247h4v4h-4zM377 251h4v4h-4zM401 255h12v4h-12zM441 259h28v4h-28zM453 279h16v4h-16zM441 283h28v4h-28zM417 287h28v4h-28zM405 291h12v4h-12zM389 295h16v4h-16zM377 299h8v4h-8zM369 303h4v4h-4zM365 307h4v4h-4zM349 315h4v4h-4zM357 319h4v4h-4zM313 323h4v4h-4zM353 323h4v4h-4zM329 331h4v4h-4zM349 331h4v4h-4zM321 343h4v4h-4zM329 343h4v4h-4zM329 351h4v4h-4zM301 587h4v4h-4z" fill="#ff8080"/><path d="M341 235h4v4h-4zM349 239h4v4h-4zM361 247h4v4h-4zM309 251h4v4h-4zM373 251h4v4h-4zM389 255h12v4h-12zM417 259h24v4h-24zM457 263h12v4h-12zM461 275h8v4h-8zM425 279h28v4h-28zM417 283h24v4h-24zM405 287h12v4h-12zM393 291h12v4h-12zM377 295h12v4h-12zM309 299h4v4h-4zM373 299h4v4h-4zM365 303h4v4h-4zM361 307h4v4h-4zM357 311h4v4h-4zM345 315h4v4h-4zM349 327h4v4h-4zM341 331h8v4h-8zM321 339h4v4h-4zM317 343h4v4h-4zM329 347h4v4h-4zM301 591h4v4h-4z" fill="#ff7a7a"/><path d="M329 235h4v4h-4zM337 235h4v4h-4zM321 239h4v4h-4zM345 239h4v4h-4zM353 243h4v4h-4zM369 251h4v4h-4zM377 255h12v4h-12zM409 259h8v4h-8zM433 263h24v4h-24zM453 267h16v4h-16zM449 271h20v4h-20zM433 275h28v4h-28zM413 279h12v4h-12zM405 283h12v4h-12zM393 287h12v4h-12zM309 291h4v4h-4zM381 291h12v4h-12zM309 295h4v4h-4zM373 295h4v4h-4zM369 299h4v4h-4zM353 311h4v4h-4zM333 315h12v4h-12zM313 319h4v4h-4zM353 319h4v4h-4zM349 323h4v4h-4zM329 327h8v4h-8zM317 339h4v4h-4zM325 355h4v4h-4z" fill="#ff7575"/><path d="M333 235h4v4h-4zM325 239h4v4h-4zM317 243h4v4h-4zM313 247h4v4h-4zM357 247h4v4h-4zM365 251h4v4h-4zM397 259h12v4h-12zM413 263h20v4h-20zM429 267h24v4h-24zM425 271h24v4h-24zM417 275h16v4h-16zM401 279h12v4h-12zM393 283h12v4h-12zM309 287h4v4h-4zM381 287h12v4h-12zM377 291h4v4h-4zM369 295h4v4h-4zM365 299h4v4h-4zM361 303h4v4h-4zM357 307h4v4h-4zM349 311h4v4h-4zM329 315h4v4h-4zM349 319h4v4h-4zM337 327h12v4h-12zM317 335h12v4h-12z" fill="#ff7070"/><path d="M341 239h4v4h-4zM349 243h4v4h-4zM309 255h4v4h-4zM373 255h4v4h-4zM385 259h12v4h-12zM405 263h8v4h-8zM413 267h16v4h-16zM413 271h12v4h-12zM405 275h12v4h-12zM389 279h12v4h-12zM381 283h12v4h-12zM377 287h4v4h-4zM373 291h4v4h-4zM345 311h4v4h-4zM313 315h4v4h-4zM345 323h4v4h-4zM325 331h4v4h-4z" fill="#ff6b6b"/><path d="M329 239h4v4h-4zM337 239h4v4h-4zM321 243h4v4h-4zM361 251h4v4h-4zM369 255h4v4h-4zM377 259h8v4h-8zM393 263h12v4h-12zM401 267h12v4h-12zM401 271h12v4h-12zM393 275h12v4h-12zM381 279h8v4h-8zM309 283h4v4h-4zM377 283h4v4h-4zM373 287h4v4h-4zM369 291h4v4h-4zM365 295h4v4h-4zM361 299h4v4h-4zM353 307h4v4h-4zM329 311h16v4h-16zM345 319h4v4h-4zM329 323h4v4h-4zM337 323h8v4h-8zM317 331h8v4h-8zM325 351h4v4h-4z" fill="#ff6666"/><path d="M333 239h4v4h-4zM345 243h4v4h-4zM317 247h4v4h-4zM353 247h4v4h-4zM313 251h4v4h-4zM365 255h4v4h-4zM309 259h4v4h-4zM373 259h4v4h-4zM385 263h8v4h-8zM393 267h8v4h-8zM393 271h8v4h-8zM385 275h8v4h-8zM309 279h4v4h-4zM377 279h4v4h-4zM373 283h4v4h-4zM369 287h4v4h-4zM365 291h4v4h-4zM357 303h4v4h-4zM345 307h8v4h-8zM313 311h4v4h-4zM333 323h4v4h-4zM321 327h4v4h-4zM325 339h4v4h-4z" fill="#ff6161"/><path d="M325 243h4v4h-4zM341 243h4v4h-4zM349 247h4v4h-4zM357 251h4v4h-4zM377 263h8v4h-8zM381 267h12v4h-12zM381 271h12v4h-12zM377 275h8v4h-8zM373 279h4v4h-4zM369 283h4v4h-4zM361 295h4v4h-4zM333 307h12v4h-12zM325 315h4v4h-4zM337 319h8v4h-8zM317 327h4v4h-4zM325 327h4v4h-4zM325 343h4v4h-4zM325 347h4v4h-4z" fill="#ff5c5c"/><path d="M329 243h4v4h-4zM337 243h4v4h-4zM321 247h4v4h-4zM361 255h4v4h-4zM369 259h4v4h-4zM309 263h4v4h-4zM373 263h4v4h-4zM377 267h4v4h-4zM309 271h4v4h-4zM377 271h4v4h-4zM309 275h4v4h-4zM373 275h4v4h-4zM369 279h4v4h-4zM313 287h4v4h-4zM365 287h4v4h-4zM357 299h4v4h-4zM349 303h8v4h-8zM329 307h4v4h-4zM333 319h4v4h-4zM321 323h4v4h-4z" fill="#ff5757"/><path d="M333 243h4v4h-4zM345 247h4v4h-4zM317 251h4v4h-4zM353 251h4v4h-4zM313 255h4v4h-4zM365 259h4v4h-4zM309 267h4v4h-4zM373 267h4v4h-4zM373 271h4v4h-4zM365 283h4v4h-4zM361 291h4v4h-4zM337 303h12v4h-12zM313 307h4v4h-4zM325 311h4v4h-4zM329 319h4v4h-4zM317 323h4v4h-4zM325 323h4v4h-4z" fill="#ff5252"/><path d="M325 247h4v4h-4zM341 247h4v4h-4zM369 263h4v4h-4zM369 271h4v4h-4zM369 275h4v4h-4zM365 279h4v4h-4zM313 283h4v4h-4zM313 291h4v4h-4zM329 303h8v4h-8zM321 319h4v4h-4z" fill="#ff4c4c"/><path d="M321 251h4v4h-4zM349 251h4v4h-4zM357 255h4v4h-4zM361 259h4v4h-4zM365 263h4v4h-4zM369 267h4v4h-4zM365 275h4v4h-4zM317 287h4v4h-4zM361 287h4v4h-4zM357 295h4v4h-4zM341 299h16v4h-16zM317 319h4v4h-4z" fill="#ff4747"/><path d="M329 247h12v4h-12zM345 251h4v4h-4zM317 255h4v4h-4zM313 259h4v4h-4zM365 267h4v4h-4zM365 271h4v4h-4zM313 279h4v4h-4zM361 283h4v4h-4zM333 299h8v4h-8zM313 303h4v4h-4zM325 307h4v4h-4z" fill="#ff4242"/><path d="M325 251h4v4h-4zM313 263h4v4h-4zM313 275h4v4h-4zM317 283h4v4h-4zM321 287h4v4h-4zM313 295h4v4h-4zM341 295h8v4h-8zM329 299h4v4h-4zM317 315h8v4h-8zM325 319h4v4h-4z" fill="#ff3d3d"/><path d="M341 251h4v4h-4zM321 255h4v4h-4zM353 255h4v4h-4zM361 263h4v4h-4zM313 267h4v4h-4zM313 271h4v4h-4zM317 279h4v4h-4zM361 279h4v4h-4zM317 291h4v4h-4zM357 291h4v4h-4zM329 295h12v4h-12zM349 295h8v4h-8zM313 299h4v4h-4zM325 303h4v4h-4z" fill="#ff3838"/><path d="M329 251h4v4h-4zM337 251h4v4h-4zM349 255h4v4h-4zM317 259h4v4h-4zM357 259h4v4h-4zM361 267h4v4h-4zM361 275h4v4h-4zM321 283h4v4h-4zM341 291h4v4h-4zM321 311h4v4h-4z" fill="#ff3333"/><path d="M333 251h4v4h-4zM325 255h4v4h-4zM345 255h4v4h-4zM317 263h4v4h-4zM361 271h4v4h-4zM317 275h4v4h-4zM325 287h4v4h-4zM357 287h4v4h-4zM321 291h20v4h-20zM345 291h4v4h-4zM317 311h4v4h-4z" fill="#ff2e2e"/><path d="M341 255h4v4h-4zM321 259h4v4h-4zM317 267h4v4h-4zM317 271h4v4h-4zM321 279h4v4h-4zM325 283h4v4h-4zM341 287h4v4h-4zM349 291h8v4h-8zM325 295h4v4h-4zM325 299h4v4h-4z" fill="#ff2929"/><path d="M329 255h4v4h-4zM337 255h4v4h-4zM353 259h4v4h-4zM321 263h4v4h-4zM357 263h4v4h-4zM329 287h4v4h-4zM337 287h4v4h-4zM345 287h4v4h-4zM317 307h8v4h-8z" fill="#ff2424"/><path d="M333 255h4v4h-4zM325 259h4v4h-4zM345 259h8v4h-8zM321 267h4v4h-4zM321 271h4v4h-4zM321 275h4v4h-4zM325 279h4v4h-4zM329 283h4v4h-4zM341 283h8v4h-8zM357 283h4v4h-4zM333 287h4v4h-4z" fill="#ff1f1f"/><path d="M341 259h4v4h-4zM325 263h4v4h-4zM341 279h4v4h-4zM357 279h4v4h-4zM333 283h8v4h-8zM349 287h4v4h-4zM317 295h4v4h-4z" fill="#ff1a1a"/><path d="M329 259h4v4h-4zM337 259h4v4h-4zM341 263h12v4h-12zM357 267h4v4h-4zM325 271h4v4h-4zM325 275h4v4h-4zM329 279h4v4h-4zM337 279h4v4h-4zM345 279h4v4h-4zM353 287h4v4h-4zM321 295h4v4h-4zM317 303h8v4h-8z" fill="#ff1414"/><path d="M333 259h4v4h-4zM329 263h4v4h-4zM337 263h4v4h-4zM353 263h4v4h-4zM325 267h4v4h-4zM341 267h8v4h-8zM341 271h8v4h-8zM357 271h4v4h-4zM341 275h8v4h-8zM357 275h4v4h-4zM333 279h4v4h-4zM349 283h4v4h-4z" fill="#ff0f0f"/><path d="M333 263h4v4h-4zM329 271h4v4h-4zM337 271h4v4h-4zM329 275h4v4h-4zM337 275h4v4h-4zM353 283h4v4h-4zM321 299h4v4h-4z" fill="#ff0a0a"/><path d="M329 267h12v4h-12zM349 267h4v4h-4zM333 271h4v4h-4zM333 275h4v4h-4zM349 279h4v4h-4zM317 299h4v4h-4z" fill="#ff0505"/><path d="M353 267h4v4h-4zM349 271h4v4h-4zM349 275h4v4h-4zM353 279h4v4h-4z" fill="#ff0000"/><path d="M353 271h4v4h-4z" fill="#ff0000"/><path d="M353 275h4v4h-4z" fill="#ff0000"/></g></g>
</g>
<g clip-path="url(#cpbm)">
<rect x="229" y="594" width="1204" height="156" fill="url(#bbgB)"/>
<rect x="229" y="850" width="1204" height="287" fill="url(#bbgL)"/>
<rect x="300" y="738" width="1133" height="150" fill="url(#bbandH)" mask="url(#bbandM)"/>
<rect x="280" y="594" width="36" height="160" fill="url(#bwcol)"/>
<g filter="url(#blur3)"><path d="M313 870h8v4h-8zM313 874h8v4h-8zM313 878h8v4h-8zM313 882h8v4h-8z" fill="#0000ff" fill-opacity="0.250"/><path d="M313 862h8v4h-8zM313 866h8v4h-8zM313 886h8v4h-8zM313 890h8v4h-8z" fill="#0000ff" fill-opacity="0.208"/><path d="M309 870h4v4h-4zM321 870h4v4h-4zM309 874h4v4h-4zM321 874h4v4h-4zM309 878h4v4h-4zM321 878h4v4h-4zM313 894h8v4h-8z" fill="#0000ff" fill-opacity="0.167"/><path d="M313 858h8v4h-8zM309 862h4v4h-4zM321 862h4v4h-4zM309 866h4v4h-4zM321 866h4v4h-4zM309 882h4v4h-4zM321 882h4v4h-4zM309 886h4v4h-4zM321 886h4v4h-4zM309 890h4v4h-4zM321 890h4v4h-4zM313 898h8v4h-8zM313 902h8v4h-8z" fill="#0000ff" fill-opacity="0.125"/><path d="M313 850h8v4h-8zM313 854h8v4h-8zM309 858h4v4h-4zM321 858h4v4h-4zM309 894h4v4h-4zM321 894h4v4h-4zM309 898h4v4h-4zM321 898h4v4h-4zM309 902h4v4h-4zM321 902h4v4h-4zM313 906h8v4h-8zM313 910h8v4h-8z" fill="#0000ff" fill-opacity="0.083"/><path d="M313 838h8v4h-8zM309 842h16v4h-16zM309 846h16v4h-16zM309 850h4v4h-4zM321 850h4v4h-4zM305 854h8v4h-8zM321 854h8v4h-8zM305 858h4v4h-4zM325 858h4v4h-4zM305 862h4v4h-4zM325 862h4v4h-4zM305 866h4v4h-4zM325 866h4v4h-4zM305 870h4v4h-4zM325 870h4v4h-4zM305 874h4v4h-4zM325 874h4v4h-4zM305 878h4v4h-4zM325 878h4v4h-4zM305 882h4v4h-4zM325 882h4v4h-4zM305 886h4v4h-4zM325 886h4v4h-4zM305 890h4v4h-4zM325 890h4v4h-4zM305 894h4v4h-4zM325 894h4v4h-4zM305 898h4v4h-4zM325 898h4v4h-4zM305 902h4v4h-4zM325 902h4v4h-4zM309 906h4v4h-4zM321 906h4v4h-4zM309 910h4v4h-4zM321 910h4v4h-4zM309 914h16v4h-16zM309 918h16v4h-16zM309 922h16v4h-16zM313 926h8v4h-8zM313 930h8v4h-8zM313 934h8v4h-8zM313 938h8v4h-8zM313 942h8v4h-8z" fill="#0000ff" fill-opacity="0.042"/><path d="M321 730h4v4h-4zM317 734h12v4h-12zM313 738h16v4h-16zM313 742h4v4h-4zM325 742h8v4h-8zM309 746h8v4h-8zM329 746h4v4h-4zM309 750h4v4h-4zM329 750h4v4h-4zM309 754h4v4h-4zM329 754h4v4h-4zM309 758h4v4h-4zM329 758h4v4h-4zM309 762h4v4h-4zM329 762h4v4h-4zM309 766h4v4h-4zM329 766h4v4h-4zM309 770h8v4h-8zM329 770h4v4h-4zM313 774h4v4h-4zM325 774h8v4h-8zM313 778h16v4h-16zM317 782h12v4h-12zM321 786h4v4h-4z" fill="#ff0000" fill-opacity="0.042"/><path d="M317 742h8v4h-8zM317 746h12v4h-12zM313 750h4v4h-4zM325 750h4v4h-4zM313 754h4v4h-4zM313 758h4v4h-4zM313 762h4v4h-4zM313 766h4v4h-4zM325 766h4v4h-4zM317 770h12v4h-12zM317 774h8v4h-8z" fill="#ff0000" fill-opacity="0.083"/><path d="M317 750h8v4h-8zM317 754h12v4h-12zM317 758h4v4h-4zM325 758h4v4h-4zM317 762h12v4h-12zM317 766h8v4h-8z" fill="#ff0000" fill-opacity="0.125"/><path d="M321 758h4v4h-4z" fill="#ff0000" fill-opacity="0.167"/></g>
</g>
<g mask="url(#mottleM2)"><g mask="url(#mottleM)"><rect x="229" y="51" width="1204" height="1086" fill="#fff" filter="url(#mottle)" opacity="0.5"/></g></g>
<g mask="url(#blotchM)"><rect x="229" y="594" width="1204" height="543" fill="#fff" filter="url(#blotch)" opacity="0.045"/></g>
<line x1="230.4" y1="230.9" x2="1438.5" y2="230.2" stroke="#000" stroke-width="2.2" stroke-dasharray="10.2 6.43"/>
<line x1="230.4" y1="312.8" x2="1438.5" y2="312.5" stroke="#000" stroke-width="2.2" stroke-dasharray="10.2 6.43"/>
<line x1="229.5" y1="762.9" x2="1449.3" y2="765.1" stroke-dashoffset="3.8" stroke="#000" stroke-width="2.2" stroke-dasharray="10.2 6.43"/>
<line x1="230.3" y1="851" x2="1455" y2="851" stroke="#000" stroke-width="2.2" stroke-dasharray="10.2 6.43"/>
<line x1="210" y1="51" x2="1435" y2="51" stroke="#000" stroke-width="4"/>
<line x1="229" y1="49" x2="229" y2="1138.5" stroke="#000" stroke-width="4"/>
<line x1="1433" y1="49" x2="1433" y2="1138.5" stroke="#000" stroke-width="4"/>
<line x1="229" y1="594" x2="1433" y2="594" stroke="#000" stroke-width="4"/>
<line x1="227" y1="1136.5" x2="1435" y2="1136.5" stroke="#000" stroke-width="4"/>
<line x1="210" y1="186.6" x2="229" y2="186.6" stroke="#000" stroke-width="4"/>
<line x1="210" y1="322.2" x2="229" y2="322.2" stroke="#000" stroke-width="4"/>
<line x1="210" y1="457.8" x2="229" y2="457.8" stroke="#000" stroke-width="4"/>
<line x1="218.5" y1="118.8" x2="229" y2="118.8" stroke="#000" stroke-width="4"/>
<line x1="218.5" y1="254.4" x2="229" y2="254.4" stroke="#000" stroke-width="4"/>
<line x1="218.5" y1="390" x2="229" y2="390" stroke="#000" stroke-width="4"/>
<line x1="218.5" y1="525.6" x2="229" y2="525.6" stroke="#000" stroke-width="4"/>
<line x1="210" y1="729.6" x2="229" y2="729.6" stroke="#000" stroke-width="4"/>
<line x1="210" y1="865.2" x2="229" y2="865.2" stroke="#000" stroke-width="4"/>
<line x1="210" y1="1000.8" x2="229" y2="1000.8" stroke="#000" stroke-width="4"/>
<line x1="210" y1="1136.4" x2="229" y2="1136.4" stroke="#000" stroke-width="4"/>
<line x1="218.5" y1="661.8" x2="229" y2="661.8" stroke="#000" stroke-width="4"/>
<line x1="218.5" y1="797.4" x2="229" y2="797.4" stroke="#000" stroke-width="4"/>
<line x1="218.5" y1="933" x2="229" y2="933" stroke="#000" stroke-width="4"/>
<line x1="218.5" y1="1068.6" x2="229" y2="1068.6" stroke="#000" stroke-width="4"/>
<line x1="330" y1="1136.5" x2="330" y2="1155.5" stroke="#000" stroke-width="4"/>
<line x1="330" y1="594" x2="330" y2="613" stroke="#000" stroke-width="4"/>
<line x1="534.2" y1="1136.5" x2="534.2" y2="1155.5" stroke="#000" stroke-width="4"/>
<line x1="534.2" y1="594" x2="534.2" y2="613" stroke="#000" stroke-width="4"/>
<line x1="738.4" y1="1136.5" x2="738.4" y2="1155.5" stroke="#000" stroke-width="4"/>
<line x1="738.4" y1="594" x2="738.4" y2="613" stroke="#000" stroke-width="4"/>
<line x1="942.6" y1="1136.5" x2="942.6" y2="1155.5" stroke="#000" stroke-width="4"/>
<line x1="942.6" y1="594" x2="942.6" y2="613" stroke="#000" stroke-width="4"/>
<line x1="1146.8" y1="1136.5" x2="1146.8" y2="1155.5" stroke="#000" stroke-width="4"/>
<line x1="1146.8" y1="594" x2="1146.8" y2="613" stroke="#000" stroke-width="4"/>
<line x1="1351" y1="1136.5" x2="1351" y2="1155.5" stroke="#000" stroke-width="4"/>
<line x1="1351" y1="594" x2="1351" y2="613" stroke="#000" stroke-width="4"/>
<line x1="227.9" y1="1136.5" x2="227.9" y2="1147.5" stroke="#000" stroke-width="4"/>
<line x1="432.1" y1="1136.5" x2="432.1" y2="1147.5" stroke="#000" stroke-width="4"/>
<line x1="432.1" y1="594" x2="432.1" y2="605" stroke="#000" stroke-width="4"/>
<line x1="636.3" y1="1136.5" x2="636.3" y2="1147.5" stroke="#000" stroke-width="4"/>
<line x1="636.3" y1="594" x2="636.3" y2="605" stroke="#000" stroke-width="4"/>
<line x1="840.5" y1="1136.5" x2="840.5" y2="1147.5" stroke="#000" stroke-width="4"/>
<line x1="840.5" y1="594" x2="840.5" y2="605" stroke="#000" stroke-width="4"/>
<line x1="1044.7" y1="1136.5" x2="1044.7" y2="1147.5" stroke="#000" stroke-width="4"/>
<line x1="1044.7" y1="594" x2="1044.7" y2="605" stroke="#000" stroke-width="4"/>
<line x1="1248.9" y1="1136.5" x2="1248.9" y2="1147.5" stroke="#000" stroke-width="4"/>
<line x1="1248.9" y1="594" x2="1248.9" y2="605" stroke="#000" stroke-width="4"/>
<line x1="210" y1="1367.1" x2="1435" y2="1367.1" stroke="#000" stroke-width="4"/>
<line x1="229" y1="1365.1" x2="229" y2="2199" stroke="#000" stroke-width="4"/>
<line x1="1433" y1="1365.1" x2="1433" y2="2199" stroke="#000" stroke-width="4"/>
<line x1="227" y1="2197" x2="1435" y2="2197" stroke="#000" stroke-width="4"/>
<line x1="210" y1="2134" x2="229" y2="2134" stroke="#000" stroke-width="4"/>
<line x1="210" y1="1878.2" x2="229" y2="1878.2" stroke="#000" stroke-width="4"/>
<line x1="210" y1="1622.4" x2="229" y2="1622.4" stroke="#000" stroke-width="4"/>
<line x1="218.5" y1="2006.1" x2="229" y2="2006.1" stroke="#000" stroke-width="4"/>
<line x1="218.5" y1="1750.3" x2="229" y2="1750.3" stroke="#000" stroke-width="4"/>
<line x1="218.5" y1="1494.5" x2="229" y2="1494.5" stroke="#000" stroke-width="4"/>
<line x1="248.3" y1="2197" x2="248.3" y2="2207.5" stroke="#000" stroke-width="4"/>
<line x1="289.2" y1="2197" x2="289.2" y2="2207.5" stroke="#000" stroke-width="4"/>
<line x1="330" y1="2197" x2="330" y2="2216" stroke="#000" stroke-width="4"/>
<line x1="370.8" y1="2197" x2="370.8" y2="2207.5" stroke="#000" stroke-width="4"/>
<line x1="411.7" y1="2197" x2="411.7" y2="2207.5" stroke="#000" stroke-width="4"/>
<line x1="452.5" y1="2197" x2="452.5" y2="2207.5" stroke="#000" stroke-width="4"/>
<line x1="493.4" y1="2197" x2="493.4" y2="2207.5" stroke="#000" stroke-width="4"/>
<line x1="534.2" y1="2197" x2="534.2" y2="2216" stroke="#000" stroke-width="4"/>
<line x1="575" y1="2197" x2="575" y2="2207.5" stroke="#000" stroke-width="4"/>
<line x1="615.9" y1="2197" x2="615.9" y2="2207.5" stroke="#000" stroke-width="4"/>
<line x1="656.7" y1="2197" x2="656.7" y2="2207.5" stroke="#000" stroke-width="4"/>
<line x1="697.6" y1="2197" x2="697.6" y2="2207.5" stroke="#000" stroke-width="4"/>
<line x1="738.4" y1="2197" x2="738.4" y2="2216" stroke="#000" stroke-width="4"/>
<line x1="779.2" y1="2197" x2="779.2" y2="2207.5" stroke="#000" stroke-width="4"/>
<line x1="820.1" y1="2197" x2="820.1" y2="2207.5" stroke="#000" stroke-width="4"/>
<line x1="860.9" y1="2197" x2="860.9" y2="2207.5" stroke="#000" stroke-width="4"/>
<line x1="901.8" y1="2197" x2="901.8" y2="2207.5" stroke="#000" stroke-width="4"/>
<line x1="942.6" y1="2197" x2="942.6" y2="2216" stroke="#000" stroke-width="4"/>
<line x1="983.4" y1="2197" x2="983.4" y2="2207.5" stroke="#000" stroke-width="4"/>
<line x1="1024.3" y1="2197" x2="1024.3" y2="2207.5" stroke="#000" stroke-width="4"/>
<line x1="1065.1" y1="2197" x2="1065.1" y2="2207.5" stroke="#000" stroke-width="4"/>
<line x1="1106" y1="2197" x2="1106" y2="2207.5" stroke="#000" stroke-width="4"/>
<line x1="1146.8" y1="2197" x2="1146.8" y2="2216" stroke="#000" stroke-width="4"/>
<line x1="1187.6" y1="2197" x2="1187.6" y2="2207.5" stroke="#000" stroke-width="4"/>
<line x1="1228.5" y1="2197" x2="1228.5" y2="2207.5" stroke="#000" stroke-width="4"/>
<line x1="1269.3" y1="2197" x2="1269.3" y2="2207.5" stroke="#000" stroke-width="4"/>
<line x1="1310.2" y1="2197" x2="1310.2" y2="2207.5" stroke="#000" stroke-width="4"/>
<line x1="1351" y1="2197" x2="1351" y2="2216" stroke="#000" stroke-width="4"/>
<line x1="1391.8" y1="2197" x2="1391.8" y2="2207.5" stroke="#000" stroke-width="4"/>
<line x1="1432.7" y1="2197" x2="1432.7" y2="2207.5" stroke="#000" stroke-width="4"/>
<rect x="1512" y="285.5" width="62" height="850.0" fill="url(#cbg)" stroke="#000" stroke-width="2"/>
<line x1="1574" y1="295.1" x2="1592" y2="295.1" stroke="#000" stroke-width="2"/>
<text transform="translate(1612 314.1) scale(1 1.04)" font-size="56">-6</text>
<line x1="1574" y1="434" x2="1592" y2="434" stroke="#000" stroke-width="2"/>
<text transform="translate(1612 453) scale(1 1.04)" font-size="56">-4</text>
<line x1="1574" y1="572.9" x2="1592" y2="572.9" stroke="#000" stroke-width="2"/>
<text transform="translate(1612 591.9) scale(1 1.04)" font-size="56">-2</text>
<line x1="1574" y1="711.8" x2="1592" y2="711.8" stroke="#000" stroke-width="2"/>
<text transform="translate(1612 730.8) scale(1 1.04)" font-size="56">0</text>
<line x1="1574" y1="850.7" x2="1592" y2="850.7" stroke="#000" stroke-width="2"/>
<text transform="translate(1612 869.7) scale(1 1.04)" font-size="56">2</text>
<line x1="1574" y1="989.6" x2="1592" y2="989.6" stroke="#000" stroke-width="2"/>
<text transform="translate(1612 1008.6) scale(1 1.04)" font-size="56">4</text>
<line x1="1574" y1="1128.5" x2="1592" y2="1128.5" stroke="#000" stroke-width="2"/>
<text transform="translate(1612 1147.5) scale(1 1.04)" font-size="56">6</text>
<line x1="1574" y1="364.5" x2="1583" y2="364.5" stroke="#000" stroke-width="2"/>
<line x1="1574" y1="503.4" x2="1583" y2="503.4" stroke="#000" stroke-width="2"/>
<line x1="1574" y1="642.3" x2="1583" y2="642.3" stroke="#000" stroke-width="2"/>
<line x1="1574" y1="781.2" x2="1583" y2="781.2" stroke="#000" stroke-width="2"/>
<line x1="1574" y1="920.1" x2="1583" y2="920.1" stroke="#000" stroke-width="2"/>
<line x1="1574" y1="1059" x2="1583" y2="1059" stroke="#000" stroke-width="2"/>
<clipPath id="cpb"><rect x="229" y="1366" width="1204" height="831"/></clipPath>
<g clip-path="url(#cpb)">
<polyline points="229,2133.5 239.2,2133.8 248.1,2123.5 257.7,2124.2 265.1,2127.9 273.9,2110.2 282.1,2121.3 288,2091.7 290.9,2084.3 298.3,2073.3 302,2074 304.3,2072 305,2040 306.8,1972.8 308.3,1917.4 309.6,1863.8 310.9,1808.4 312.4,1751.1 312.9,1700 313.3,1640.6 314.9,1581.8 317.8,1638.5 321,1600.7 323.1,1651.6 325.2,1577.6 326.7,1554.5 327.8,1531.4 328.6,1507.2 330.1,1477.3 336.2,1499.9 339.3,1518.8 341.4,1546.1 343.5,1572.3 345.6,1596.5 346.7,1609.1 355.6,1625.9 358.2,1649 361.4,1675.2 364,1694.1 369.8,1695.2 378.9,1703.1 387.2,1721.6 396.4,1719.7 404.7,1730.8 412.1,1757.6 420.4,1743.7 426.9,1755.7 438,1761.2 444.5,1779.7 452.8,1784.3 462,1794.5 473.1,1799.1 486,1798.2 493.4,1815.7 506.3,1815.7 511.1,1815.7 518.5,1816.7 542.5,1825.9 551.7,1819.8 566.5,1822.2 584.1,1835.1 599.8,1834.2 609,1825 615.5,1826.8 626.5,1837.9 644.1,1838.8 655.2,1842.5 666.3,1851.8 673.7,1848.6 690.3,1849.9 703.2,1858.2 714.3,1863.8 723.5,1858.2 734.6,1856 740.2,1857.3 747.6,1864.7 754.9,1859.2 763.3,1867.5 771.6,1856.8 779,1857.9 788.2,1864.1 800,1864.7 811.1,1864.3 820.3,1859.5 829.6,1864.7 837.9,1862.8 848,1872 855.4,1875.4 862.8,1874.8 871.1,1872.4 885,1880.4 894.2,1880.4 901.6,1872 914.5,1882.2 922.9,1881.3 934.9,1878.5 944.1,1884.1 952.4,1877.6 962.6,1885.9 977.4,1888.7 984.7,1898.8 993.1,1891.4 1001.4,1895.1 1008.8,1893.3 1023.5,1893.3 1038.3,1903.5 1049.4,1896.1 1062.3,1899.8 1073.4,1895.1 1082.7,1901.6 1091.9,1898.8 1100,1899 1114.7,1899.7 1123,1905.3 1138.7,1900.3 1157.6,1911.2 1167,1907 1180.6,1898.6 1195.3,1909.5 1208.9,1909.1 1222.5,1909.1 1228.8,1913.7 1245.5,1908 1253.9,1912.9 1262.3,1908 1271.7,1915.8 1284.3,1911.2 1295.8,1918.5 1307.3,1920.6 1311.5,1924.8 1317.8,1915.8 1326.1,1913.7 1336.6,1914.3 1351.3,1905.3 1359.6,1915.4 1370.1,1922.7 1376.4,1922.1 1391,1914.3 1399.4,1917.9 1407.8,1915.8 1416.2,1920 1436,1923" fill="none" stroke="#525252" stroke-width="6.5" stroke-linejoin="round" stroke-linecap="round"/>
<polyline points="229,2131.6 239.2,2133.5 247.3,2139 256.9,2135.7 264.3,2138.3 273.9,2134.6 282.1,2140.5 288,2137.5 298.3,2137.9 301.3,2128.7 305,2113.9 307.2,2099.1 308.3,2077 309,2058.5 309.7,2040 312.4,1970.9 316.1,1915.5 320.7,1860.1 323.5,1836 326.2,1817.6 329,1799.1 339.2,1773.3 345.6,1784.3 354.9,1787.1 365.9,1798.2 377,1801.9 387.2,1797.3 397.4,1801.9 406.6,1813.9 414,1821.3 420.4,1823.1 428.8,1815.7 438,1821.3 448.2,1826.8 467.6,1825 478.6,1830.5 486,1838.8 495.3,1837.9 502.6,1842.5 511.1,1849.9 520.3,1852.7 534.2,1845.3 544.3,1854.5 549.9,1854.5 560,1848.1 568.4,1852.7 574.8,1866.5 585,1867.5 592.4,1861 600.7,1860.5 608.1,1858.2 616.4,1864.1 623.8,1866.5 633,1871.2 640.4,1870.2 649.6,1865.6 658.9,1867.5 666.3,1874.9 673.7,1872.1 682.9,1874.9 695.8,1872.1 706.9,1867.1 714.3,1870.2 723.5,1868.4 730.9,1871.2 738.3,1877.6 747.6,1880.4 754.9,1883.2 762.3,1877.6 771.6,1885 780.8,1884.1 788.2,1890.6 795.6,1881.3 800,1881 811.1,1877.6 827.7,1877.6 836.9,1874.8 844.3,1878.5 853.6,1888.7 859.1,1889.6 870.2,1894.2 877.6,1890.5 885.9,1885 892.4,1885.9 901.6,1890.5 910.8,1886.8 918.2,1893.3 927.5,1889.6 940.4,1896.1 951.5,1903.5 958.9,1899.8 967.2,1909.9 980.1,1909.9 992.1,1905.3 999.5,1909 1006.9,1902.5 1023.5,1899.8 1034.6,1905.3 1041.1,1911.8 1054.9,1896.1 1066,1896.1 1073.4,1902.5 1088.2,1909 1100,1912.2 1106.3,1910.8 1114.7,1915.4 1124.1,1909.1 1137.7,1915.4 1146.1,1921.7 1156.5,1931.1 1162.8,1932.1 1171.2,1929 1183.8,1922.1 1190,1922.1 1195.3,1926.3 1204.7,1920 1217.3,1924.8 1221.4,1923.8 1227.7,1914.3 1238.2,1914.3 1250.8,1913.7 1261.2,1923.8 1270.6,1924.2 1282.2,1918.5 1288.4,1918.5 1298.9,1921.7 1304.1,1922.7 1310.4,1933.2 1321.9,1924.8 1330.3,1920.6 1334.5,1920.6 1350.2,1934.2 1358.6,1927.5 1368,1927.5 1375.3,1940.1 1383.7,1934.6 1395.2,1935.3 1407.8,1930.5 1417.2,1936.7 1425.6,1936.3 1436,1930" fill="none" stroke="#f03c40" stroke-width="6.5" stroke-linejoin="round" stroke-linecap="round"/>
</g>
<rect x="912.8" y="1402.8" width="496.2" height="209.7" fill="none" stroke="#000" stroke-width="2"/>
<line x1="924.2" y1="1456.5" x2="1065.5" y2="1456.5" stroke="#525252" stroke-width="6.8" stroke-linecap="round"/>
<line x1="924.2" y1="1557.4" x2="1065.5" y2="1557.4" stroke="#f03c40" stroke-width="6.8" stroke-linecap="round"/>
<text transform="translate(199 68) scale(1 1.04)" font-size="56" text-anchor="end" clip-path="url(#c1e3)">1.8</text>
<text transform="translate(199 203.6) scale(1 1.04)" font-size="56" text-anchor="end" clip-path="url(#c1e3)">1.7</text>
<text transform="translate(199 339.2) scale(1 1.04)" font-size="56" text-anchor="end" clip-path="url(#c1e3)">1.6</text>
<text transform="translate(199 474.8) scale(1 1.04)" font-size="56" text-anchor="end" clip-path="url(#c1e3)">1.5</text>
<text transform="translate(199 746.6) scale(1 1.04)" font-size="56" text-anchor="end" clip-path="url(#c1e3)">1.7</text>
<text transform="translate(199 882.2) scale(1 1.04)" font-size="56" text-anchor="end" clip-path="url(#c1e3)">1.6</text>
<text transform="translate(199 1017.8) scale(1 1.04)" font-size="56" text-anchor="end" clip-path="url(#c1e3)">1.5</text>
<text transform="translate(199 1153.4) scale(1 1.04)" font-size="56" text-anchor="end" clip-path="url(#c1e3)">1.4</text>
<text transform="translate(331 1209.5) scale(1 1.04)" font-size="56" text-anchor="middle">0</text>
<text transform="translate(331 2270.5) scale(1 1.04)" font-size="56" text-anchor="middle">0</text>
<text transform="translate(535.2 1209.5) scale(1 1.04)" font-size="56" text-anchor="middle">0.5</text>
<text transform="translate(535.2 2270.5) scale(1 1.04)" font-size="56" text-anchor="middle">0.5</text>
<text transform="translate(740.9 1209.5) scale(1 1.04)" font-size="56" text-anchor="middle" clip-path="url(#c1m1)">1</text>
<text transform="translate(740.9 2270.5) scale(1 1.04)" font-size="56" text-anchor="middle" clip-path="url(#c1m1)">1</text>
<text transform="translate(943.6 1209.5) scale(1 1.04)" font-size="56" text-anchor="middle" clip-path="url(#c1m3)">1.5</text>
<text transform="translate(943.6 2270.5) scale(1 1.04)" font-size="56" text-anchor="middle" clip-path="url(#c1m3)">1.5</text>
<text transform="translate(1147.8 1209.5) scale(1 1.04)" font-size="56" text-anchor="middle">2</text>
<text transform="translate(1147.8 2270.5) scale(1 1.04)" font-size="56" text-anchor="middle">2</text>
<text transform="translate(1352 1209.5) scale(1 1.04)" font-size="56" text-anchor="middle">2.5</text>
<text transform="translate(1352 2270.5) scale(1 1.04)" font-size="56" text-anchor="middle">2.5</text>
<text transform="translate(199 2151) scale(1 1.04)" font-size="56" text-anchor="end">0</text>
<text transform="translate(199 1895.2) scale(1 1.04)" font-size="56" text-anchor="end">2</text>
<text transform="translate(199 1639.4) scale(1 1.04)" font-size="56" text-anchor="end">4</text>
<text transform="translate(199 1383.6) scale(1 1.04)" font-size="56" text-anchor="end">6</text>
<text transform="translate(831 1296.3) scale(1 1.04)" font-size="64" text-anchor="middle">Time delay (ps)</text>
<text transform="translate(831 2356) scale(1 1.04)" font-size="64" text-anchor="middle">Time delay (ps)</text>
<text transform="translate(73,570.4) rotate(-90) scale(0.9866 1.04)" font-size="64" text-anchor="middle">Photon energy (eV)</text>
<g transform="translate(108,1779) rotate(-90)"><text transform="translate(-140.3 0) scale(0.918 1.04)" font-size="57">&#916;</text><text transform="translate(-106.2 0) scale(1 1.04)" font-size="64" font-style="italic">R</text><text transform="translate(-60.1 0) scale(0.93 1.04)" font-size="64">/</text><text transform="translate(-41.9 0) scale(1 1.04)" font-size="64" font-style="italic">R</text><text transform="translate(2.5 16.5) scale(1 1.04)" font-size="42.9">0</text><text transform="translate(46.3 0) scale(1 1.04)" font-size="63">(%)</text></g>
<text transform="translate(18.5 71.3) scale(0.915 1.0)" font-size="78" font-weight="bold">a</text>
<text transform="translate(18.3 1388.6) scale(1 0.975)" font-size="78" font-weight="bold">b</text>
<text transform="translate(1077.7 135.4) scale(0.93 1.024)" font-size="60">&#963;</text><text transform="translate(1116 108.7) scale(1 0.978)" font-size="44">+</text><text transform="translate(1115.9 152.2) scale(1 1.04)" font-size="44">pump</text><text transform="translate(1225.2 134.6) scale(1 1.04)" font-size="60">/</text><text transform="translate(1242.8 135.4) scale(0.93 1.024)" font-size="60">&#963;</text><text transform="translate(1281.8 108.7) scale(1 0.978)" font-size="44">+</text><text transform="translate(1282.2 152.2) scale(1 1.04)" font-size="44">probe</text>
<text transform="translate(1078.2 678.2) scale(0.93 1.024)" font-size="60">&#963;</text><text transform="translate(1116.5 651.5) scale(1 0.978)" font-size="44">+</text><text transform="translate(1116.4 695) scale(1 1.04)" font-size="44">pump</text><text transform="translate(1225.7 677.4) scale(1 1.04)" font-size="60">/</text><text transform="translate(1243.3 678.2) scale(0.93 1.024)" font-size="60">&#963;</text><text transform="translate(1282.4 651.5) scale(1 1.04)" font-size="44">-</text><text transform="translate(1282.7 695) scale(1 1.04)" font-size="44">probe</text>
<text transform="translate(1083.2 1478.9) scale(0.93 1.024)" font-size="60">&#963;</text><text transform="translate(1121.5 1452.2) scale(1 0.978)" font-size="44">+</text><text transform="translate(1121.4 1495.7) scale(1 1.04)" font-size="44">pump</text><text transform="translate(1230.7 1478.1) scale(1 1.04)" font-size="60">/</text><text transform="translate(1248.3 1478.9) scale(0.93 1.024)" font-size="60">&#963;</text><text transform="translate(1287.2 1452.2) scale(1 0.978)" font-size="44">+</text><text transform="translate(1287.7 1495.7) scale(1 1.04)" font-size="44">probe</text>
<text transform="translate(1083.2 1580.4) scale(0.93 1.024)" font-size="60">&#963;</text><text transform="translate(1121.5 1553.7) scale(1 0.978)" font-size="44">+</text><text transform="translate(1121.4 1597.2) scale(1 1.04)" font-size="44">pump</text><text transform="translate(1230.7 1579.6) scale(1 1.04)" font-size="60">/</text><text transform="translate(1248.3 1580.4) scale(0.93 1.024)" font-size="60">&#963;</text><text transform="translate(1287.4 1553.7) scale(1 1.04)" font-size="44">-</text><text transform="translate(1287.7 1597.2) scale(1 1.04)" font-size="44">probe</text>
<text transform="translate(1492.4 112) scale(0.952 1.04)" font-size="58.7">&#916;</text><text transform="translate(1532.1 112) scale(1 1.04)" font-size="66" font-style="italic">R</text><text transform="translate(1578 112) scale(1 1.0)" font-size="66">/</text><text transform="translate(1597 112) scale(1 1.04)" font-size="66" font-style="italic">R</text><text transform="translate(1643 129) scale(1 1.04)" font-size="42.8">0</text><text transform="translate(1538.6 223.3) scale(1 1.04)" font-size="63">(%)</text>
</svg></body></html>
